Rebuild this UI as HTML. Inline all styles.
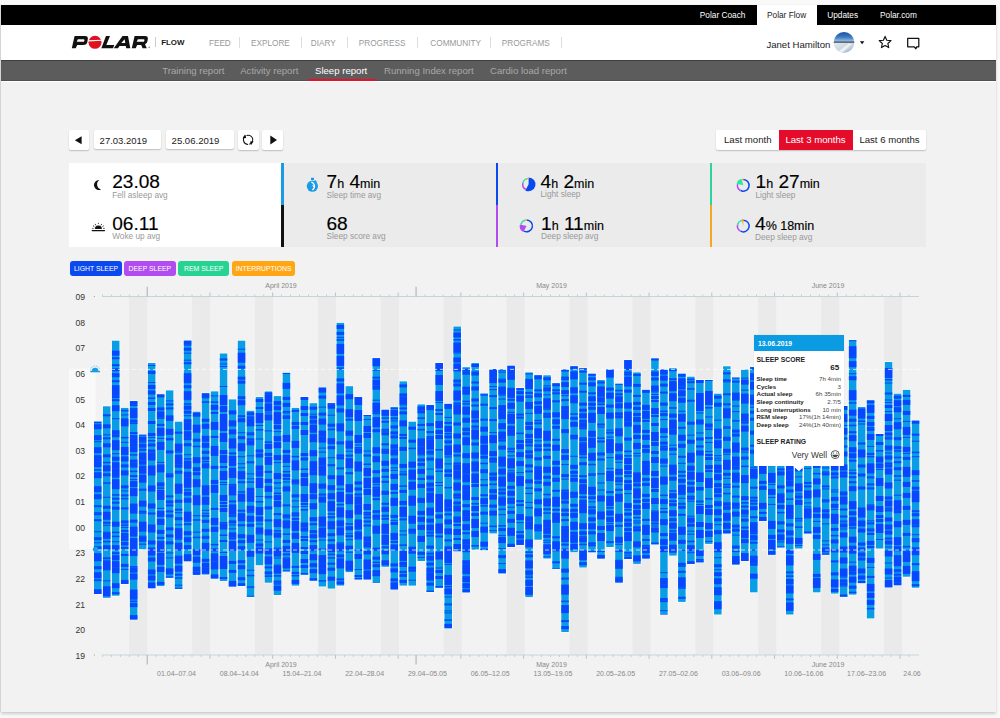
<!DOCTYPE html>
<html><head><meta charset="utf-8"><style>
*{margin:0;padding:0;box-sizing:border-box}
html,body{width:1000px;height:718px;overflow:hidden;background:#f9f9f9;font-family:"Liberation Sans", sans-serif}
.abs{position:absolute}
#win{position:absolute;left:1px;top:5px;width:994.5px;height:706.8px;background:#f2f2f2;box-shadow:0 2px 3px rgba(0,0,0,.18), -1px 0 1px rgba(0,0,0,.08)}
.t{position:absolute;white-space:nowrap;line-height:1}
</style></head><body>
<div id="win"></div>
<div class="abs" style="left:1px;top:5px;width:994.5px;height:20px;background:#000"></div>
<div class="abs" style="left:757px;top:5px;width:60px;height:20px;background:#fff"></div>
<div class="t" style="left:699.8px;top:11.15px;font-size:8.3px;color:#fff;font-weight:normal;">Polar Coach</div>
<div class="t" style="left:767px;top:11.15px;font-size:8.3px;color:#222;font-weight:normal;">Polar Flow</div>
<div class="t" style="left:827.2px;top:11.15px;font-size:8.3px;color:#fff;font-weight:normal;">Updates</div>
<div class="t" style="left:880px;top:11.15px;font-size:8.3px;color:#fff;font-weight:normal;">Polar.com</div>
<div class="abs" style="left:1px;top:25px;width:994.5px;height:35px;background:#fff"></div>
<div class="t" style="left:208.9px;top:39.99px;font-size:8.22px;color:#999;font-weight:normal;">FEED</div>
<div class="t" style="left:251px;top:39.99px;font-size:8.22px;color:#999;font-weight:normal;">EXPLORE</div>
<div class="t" style="left:310.8px;top:39.99px;font-size:8.22px;color:#999;font-weight:normal;">DIARY</div>
<div class="t" style="left:358.8px;top:39.99px;font-size:8.22px;color:#999;font-weight:normal;">PROGRESS</div>
<div class="t" style="left:430.3px;top:39.99px;font-size:8.22px;color:#999;font-weight:normal;">COMMUNITY</div>
<div class="t" style="left:501.8px;top:39.99px;font-size:8.22px;color:#999;font-weight:normal;">PROGRAMS</div>
<div class="abs" style="left:238.8px;top:37px;width:1px;height:11px;background:#ddd"></div>
<div class="abs" style="left:301px;top:37px;width:1px;height:11px;background:#ddd"></div>
<div class="abs" style="left:347.2px;top:37px;width:1px;height:11px;background:#ddd"></div>
<div class="abs" style="left:417.1px;top:37px;width:1px;height:11px;background:#ddd"></div>
<div class="abs" style="left:490.2px;top:37px;width:1px;height:11px;background:#ddd"></div>
<div class="abs" style="left:560.8px;top:37px;width:1px;height:11px;background:#ddd"></div>
<div class="abs" style="left:154.5px;top:37px;width:1px;height:10px;background:#ccc"></div>
<div class="t" style="left:161.2px;top:39.25px;font-size:7.9px;color:#1a1a1a;font-weight:bold;">FLOW</div>
<div class="t" style="left:766.4px;top:39.5px;font-size:9.6px;color:#222;font-weight:normal;">Janet Hamilton</div>
<div class="abs" style="left:1px;top:80.8px;width:994.5px;height:1.6px;background:#fff"></div>
<div class="abs" style="left:1px;top:60px;width:994.5px;height:20.8px;background:#5c5c5c;border-top:1px solid #3e3e3e;border-bottom:0.8px solid #505050"></div>
<div class="abs" style="left:307.5px;top:79px;width:68px;height:2px;background:#e8112d"></div>
<div class="t" style="left:162.3px;top:65.8px;font-size:9.6px;color:#a8a8a8;font-weight:normal;">Training report</div>
<div class="t" style="left:240.2px;top:65.8px;font-size:9.6px;color:#a8a8a8;font-weight:normal;">Activity report</div>
<div class="t" style="left:315px;top:65.8px;font-size:9.6px;color:#fff;font-weight:normal;">Sleep report</div>
<div class="t" style="left:384px;top:65.8px;font-size:9.6px;color:#a8a8a8;font-weight:normal;">Running Index report</div>
<div class="t" style="left:490px;top:65.8px;font-size:9.6px;color:#a8a8a8;font-weight:normal;">Cardio load report</div>
<div class="abs" style="left:69px;top:129.6px;width:20.3px;height:20.5px;box-shadow:0 1px 1.5px rgba(0,0,0,.22);border-radius:2px;background:#fff"></div>
<div class="abs" style="left:93.6px;top:129.6px;width:67.7px;height:19.6px;box-shadow:0 1px 1.5px rgba(0,0,0,.22);border-radius:2px;background:#fff"></div>
<div class="abs" style="left:165.6px;top:129.6px;width:68.4px;height:19.6px;box-shadow:0 1px 1.5px rgba(0,0,0,.22);border-radius:2px;background:#fff"></div>
<div class="abs" style="left:238.3px;top:129.6px;width:20.4px;height:20.5px;box-shadow:0 1px 1.5px rgba(0,0,0,.22);border-radius:2px;background:#fff"></div>
<div class="abs" style="left:262.3px;top:129.6px;width:20.4px;height:20.5px;box-shadow:0 1px 1.5px rgba(0,0,0,.22);border-radius:2px;background:#fff"></div>
<div class="t" style="left:99.6px;top:135.65px;font-size:9.5px;color:#222;font-weight:normal;">27.03.2019</div>
<div class="t" style="left:171.6px;top:135.62px;font-size:9.55px;color:#222;font-weight:normal;">25.06.2019</div>
<div class="abs" style="left:716px;top:129.6px;width:209.6px;height:20.8px;box-shadow:0 1px 1.5px rgba(0,0,0,.22);border-radius:2px;background:#fff"></div>
<div class="abs" style="left:779px;top:129.6px;width:73.6px;height:20.8px;background:#e50b2a"></div>
<div class="t" style="left:724px;top:135.4px;font-size:9.6px;color:#222;font-weight:normal;">Last month</div>
<div class="t" style="left:785.4px;top:135.4px;font-size:9.6px;color:#fff;font-weight:normal;">Last 3 months</div>
<div class="t" style="left:859.4px;top:135.4px;font-size:9.6px;color:#222;font-weight:normal;">Last 6 months</div>
<div class="abs" style="left:68.6px;top:163px;width:214px;height:84px;background:#fff"></div>
<div class="abs" style="left:283px;top:163px;width:642.6px;height:83.5px;background:#ebebeb"></div>
<div class="abs" style="left:281.4px;top:163px;width:2.4px;height:42px;background:#1a9be6"></div>
<div class="abs" style="left:281.4px;top:205px;width:2.4px;height:42px;background:#111"></div>
<div class="abs" style="left:495.5px;top:163px;width:2.4px;height:42px;background:#0a48f0"></div>
<div class="abs" style="left:495.5px;top:205px;width:2.4px;height:42px;background:#b14df0"></div>
<div class="abs" style="left:710px;top:163px;width:2.4px;height:42px;background:#2dd49b"></div>
<div class="abs" style="left:710px;top:205px;width:2.4px;height:42px;background:#f5a623"></div>
<div class="t" style="left:112.2px;top:172.45px;font-size:19.1px;color:#000;font-weight:normal;-webkit-text-stroke:0.15px #000;">23.08</div><div class="t" style="left:112.2px;top:191.88px;font-size:8.25px;color:#999;font-weight:normal;">Fell asleep avg</div>
<div class="t" style="left:112.2px;top:213.95px;font-size:19.1px;color:#000;font-weight:normal;-webkit-text-stroke:0.15px #000;">06.11</div><div class="t" style="left:112.2px;top:233.38px;font-size:8.25px;color:#999;font-weight:normal;">Woke up avg</div>
<div class="t" style="left:326.5px;top:172.45px;font-size:19.1px;color:#000;font-weight:normal;-webkit-text-stroke:0.15px #000;">7<span style="font-size:12.5px">h</span> 4<span style="font-size:12.5px">min</span></div><div class="t" style="left:326.5px;top:191.88px;font-size:8.25px;color:#999;font-weight:normal;">Sleep time avg</div>
<div class="t" style="left:326.5px;top:213.95px;font-size:19.1px;color:#000;font-weight:normal;-webkit-text-stroke:0.15px #000;">68</div><div class="t" style="left:326.5px;top:233.38px;font-size:8.25px;color:#999;font-weight:normal;">Sleep score avg</div>
<div class="t" style="left:540.5px;top:171.75px;font-size:19.1px;color:#000;font-weight:normal;-webkit-text-stroke:0.15px #000;">4<span style="font-size:12.5px">h</span> 2<span style="font-size:12.5px">min</span></div><div class="t" style="left:540.5px;top:191.18px;font-size:8.25px;color:#999;font-weight:normal;">Light sleep</div>
<div class="t" style="left:541px;top:213.75px;font-size:19.1px;color:#000;font-weight:normal;-webkit-text-stroke:0.15px #000;">1<span style="font-size:12.5px">h</span> 11<span style="font-size:12.5px">min</span></div><div class="t" style="left:541px;top:233.18px;font-size:8.25px;color:#999;font-weight:normal;">Deep sleep avg</div>
<div class="t" style="left:755.5px;top:172.45px;font-size:19.1px;color:#000;font-weight:normal;-webkit-text-stroke:0.15px #000;">1<span style="font-size:12.5px">h</span> 27<span style="font-size:12.5px">min</span></div><div class="t" style="left:755.5px;top:191.88px;font-size:8.25px;color:#999;font-weight:normal;">Light sleep</div>
<div class="t" style="left:755px;top:214.45px;font-size:19.1px;color:#000;font-weight:normal;-webkit-text-stroke:0.15px #000;">4<span style="font-size:12.5px">% 18min</span></div><div class="t" style="left:755px;top:233.88px;font-size:8.25px;color:#999;font-weight:normal;">Deep sleep avg</div>
<div class="abs" style="left:70.2px;top:260.6px;width:51.7px;height:15.1px;background:#0a48f0;border-radius:3px;color:#fff;font-size:6.85px;line-height:15.1px;text-align:center;white-space:nowrap">LIGHT SLEEP</div>
<div class="abs" style="left:123.8px;top:260.6px;width:52.1px;height:15.1px;background:#b04cf0;border-radius:3px;color:#fff;font-size:6.85px;line-height:15.1px;text-align:center;white-space:nowrap">DEEP SLEEP</div>
<div class="abs" style="left:177.8px;top:260.6px;width:51.7px;height:15.1px;background:#26d392;border-radius:3px;color:#fff;font-size:6.85px;line-height:15.1px;text-align:center;white-space:nowrap">REM SLEEP</div>
<div class="abs" style="left:231.9px;top:260.6px;width:63.4px;height:15.1px;background:#ffa614;border-radius:3px;color:#fff;font-size:6.85px;line-height:15.1px;text-align:center;white-space:nowrap">INTERRUPTIONS</div>
<svg class="abs" style="left:0;top:0" width="1000" height="718"><g fill="#111"><path fill-rule="evenodd" d="M74.6 36 L85 36 Q88.3 36 87.8 39.3 L87.4 41.8 Q86.8 45 83.3 45 L77.2 45 L75.7 48.3 L71.8 48.3 Z M77.9 39.2 L83.6 39.2 Q84.6 39.2 84.4 40.1 L84.3 40.9 Q84.1 41.8 83.2 41.8 L76.7 41.8 Z"/><path d="M106 36 L110 36 L106.3 45 L114.3 45 L113 48.3 L101.3 48.3 Z"/><path fill-rule="evenodd" d="M122.5 36 L128 36 L130.3 48.3 L126.2 48.3 L125.8 46 L119.5 46 L118 48.3 L113.8 48.3 Z M121.3 43 L125.3 43 L124.6 39.3 Z"/><path fill-rule="evenodd" d="M134.6 36 L145 36 Q148.3 36 147.8 39.3 L147.5 41 Q147.1 43.3 145 44.2 L146.8 48.3 L142.6 48.3 L141.2 45 L137.2 45 L135.7 48.3 L131.8 48.3 Z M137.9 39.2 L143.6 39.2 Q144.6 39.2 144.4 40.1 L144.3 40.9 Q144.1 41.8 143.2 41.8 L136.7 41.8 Z"/></g><circle cx="149.2" cy="47.3" r="0.9" fill="#999"/><circle cx="95" cy="42.3" r="6.5" fill="#e01020"/><rect x="88" y="40" width="14" height="1.2" fill="#fff" transform="rotate(-3 95 40.6)"/><defs><linearGradient id="sky" x1="0" y1="0" x2="0" y2="1"><stop offset="0" stop-color="#1b4f9c"/><stop offset="0.25" stop-color="#3f7cc4"/><stop offset="0.48" stop-color="#a9cdea"/><stop offset="0.5" stop-color="#c9e0f2"/></linearGradient><linearGradient id="snow" x1="0" y1="0" x2="1" y2="1"><stop offset="0" stop-color="#e6ebf1"/><stop offset="0.6" stop-color="#c7d2de"/><stop offset="1" stop-color="#8fa3bd"/></linearGradient><clipPath id="avc"><circle cx="844" cy="42.4" r="10.3"/></clipPath></defs><g clip-path="url(#avc)"><rect x="833" y="32" width="22" height="21" fill="url(#sky)"/><path d="M833 42.6 L855 42.6 L855 53 L833 53Z" fill="url(#snow)"/><rect x="833" y="41.6" width="22" height="1" fill="#1c2433"/><path d="M836 53 L849 43.5 L852 44 L842 53Z" fill="#f4f6f9" opacity="0.8"/></g><path d="M859.9 41.2 L864.4 41.2 L862.15 44.2Z" fill="#111"/><polygon points="885.1,36.4 886.8,40.25 891,40.68 887.86,43.5 888.74,47.62 885.1,45.5 881.46,47.62 882.34,43.5 879.2,40.68 883.4,40.25" fill="none" stroke="#111" stroke-width="1.15" stroke-linejoin="round"/><path d="M907.7 38.4 H918.8 V46.8 H916.6 L915.9 48.8 L914.3 46.8 H907.7 Z" fill="none" stroke="#111" stroke-width="1.25" stroke-linejoin="round"/><path d="M74.9 140.3 L81.6 136.3 L81.6 144.3Z" fill="#111"/><path d="M277 140.1 L270.3 135.6 L270.3 144.6Z" fill="#111"/><path d="M246.53 135.48 A4.6 4.6 0 1 1 249.29 144.24" fill="none" stroke="#111" stroke-width="1.05"/><path d="M248.1 144.4 A4.6 4.6 0 0 1 245.8 135.82" fill="none" stroke="#111" stroke-width="1.05"/><path d="M251 145.2 L253.6 141.2 L250.1 141.6Z" fill="#111"/><path d="M245 134.4 L242.5 138.3 L246.2 138Z" fill="#111"/><path d="M99.4 180.1 A4.95 4.95 0 1 0 101 189.5 A5.25 5.25 0 0 1 99.4 180.1Z" fill="#111"/><g fill="#111"><rect x="91.6" y="229.9" width="13.5" height="1.3" rx="0.6"/><path d="M94.9 228.9 A3.5 3.5 0 0 1 101.9 228.9Z"/><circle cx="98.4" cy="223.3" r="0.55"/><path d="M95 223.9 l0.9 1.5" stroke="#111" stroke-width="0.8"/><path d="M101.8 223.9 l-0.9 1.5" stroke="#111" stroke-width="0.8"/><path d="M93 225.7 l1.4 1" stroke="#111" stroke-width="0.8"/><path d="M103.8 225.7 l-1.4 1" stroke="#111" stroke-width="0.8"/><path d="M92.2 228.4 h1.4" stroke="#111" stroke-width="0.8"/><path d="M103.2 228.4 h1.4" stroke="#111" stroke-width="0.8"/></g><g fill="#1a9be6"><circle cx="312.4" cy="186.2" r="5.6"/><rect x="311" y="177.8" width="3" height="2.2"/><rect x="314.3" y="180.5" width="2.2" height="1.8" transform="rotate(40 315.4 181.4)"/></g><path d="M311.31 182.05 A4.3 4.3 0 0 1 312.35 189.92" fill="none" stroke="#fff" stroke-width="1.3"/><path d="M312.6 185.2 L314.3 187.6" fill="none" stroke="#fff" stroke-width="1"/><path d="M528.6 184.3 L528.6 177.4 A6.9 6.9 0 1 1 525.36 190.39Z" fill="#0a48f0"/><path d="M525.85 189.47 A5.85 5.85 0 0 1 522.88 183.08" stroke="#b14df0" stroke-width="1.5" fill="none"/><path d="M522.88 183.08 A5.85 5.85 0 0 1 527.09 178.65" stroke="#2ee6a0" stroke-width="1.5" fill="none"/><path d="M527.09 178.65 A5.85 5.85 0 0 1 528.6 178.45" stroke="#ffa515" stroke-width="1.5" fill="none"/><path d="M526.6 220.05 A5.85 5.85 0 1 1 523.85 231.07" stroke="#0a48f0" stroke-width="1.5" fill="none"/><path d="M526.6 225.9 L523.36 231.99 A6.9 6.9 0 0 1 519.85 224.47Z" fill="#b14df0"/><path d="M520.88 224.68 A5.85 5.85 0 0 1 525.09 220.25" stroke="#2ee6a0" stroke-width="1.5" fill="none"/><path d="M525.09 220.25 A5.85 5.85 0 0 1 526.6 220.05" stroke="#ffa515" stroke-width="1.5" fill="none"/><path d="M743.3 179.45 A5.85 5.85 0 1 1 740.55 190.47" stroke="#0a48f0" stroke-width="1.5" fill="none"/><path d="M740.55 190.47 A5.85 5.85 0 0 1 737.58 184.08" stroke="#b14df0" stroke-width="1.5" fill="none"/><path d="M743.3 185.3 L736.55 183.87 A6.9 6.9 0 0 1 741.51 178.64Z" fill="#2ee6a0"/><path d="M741.79 179.65 A5.85 5.85 0 0 1 743.3 179.45" stroke="#ffa515" stroke-width="1.5" fill="none"/><path d="M743.3 220.15 A5.85 5.85 0 1 1 740.55 231.17" stroke="#0a48f0" stroke-width="1.5" fill="none"/><path d="M740.55 231.17 A5.85 5.85 0 0 1 737.58 224.78" stroke="#b14df0" stroke-width="1.5" fill="none"/><path d="M737.58 224.78 A5.85 5.85 0 0 1 741.79 220.35" stroke="#2ee6a0" stroke-width="1.5" fill="none"/><path d="M743.3 226 L741.51 219.34 A6.9 6.9 0 0 1 743.3 219.1Z" fill="#ffa515"/></svg>
<svg class="abs" style="left:0;top:0" width="1000" height="718">
<rect x="129.23" y="296.5" width="17.97" height="358.5" fill="#eaeaea"/>
<rect x="192.13" y="296.5" width="17.97" height="358.5" fill="#eaeaea"/>
<rect x="255.04" y="296.5" width="17.97" height="358.5" fill="#eaeaea"/>
<rect x="317.95" y="296.5" width="17.97" height="358.5" fill="#eaeaea"/>
<rect x="380.86" y="296.5" width="17.97" height="358.5" fill="#eaeaea"/>
<rect x="443.77" y="296.5" width="17.97" height="358.5" fill="#eaeaea"/>
<rect x="506.68" y="296.5" width="17.97" height="358.5" fill="#eaeaea"/>
<rect x="569.59" y="296.5" width="17.97" height="358.5" fill="#eaeaea"/>
<rect x="632.5" y="296.5" width="17.97" height="358.5" fill="#eaeaea"/>
<rect x="695.41" y="296.5" width="17.97" height="358.5" fill="#eaeaea"/>
<rect x="758.32" y="296.5" width="17.97" height="358.5" fill="#eaeaea"/>
<rect x="821.22" y="296.5" width="17.97" height="358.5" fill="#eaeaea"/>
<rect x="884.13" y="296.5" width="17.97" height="358.5" fill="#eaeaea"/>
<rect x="69" y="368.7" width="26.5" height="180.5" fill="#f9f9f9"/>
<rect x="93.28" y="421.1" width="8.9" height="173.5" fill="#fdfdfa"/>
<rect x="93.98" y="421.7" width="7.5" height="172.3" fill="#089de4"/>
<rect x="93.98" y="421.7" width="7.5" height="1.5" fill="#0846ff"/>
<rect x="93.98" y="424.2" width="7.5" height="5" fill="#0846ff"/>
<rect x="93.98" y="435.2" width="7.5" height="5" fill="#0846ff"/>
<rect x="93.98" y="441.2" width="7.5" height="1" fill="#0846ff"/>
<rect x="93.98" y="447.2" width="7.5" height="6" fill="#0846ff"/>
<rect x="93.98" y="455.2" width="7.5" height="6" fill="#0846ff"/>
<rect x="93.98" y="461.2" width="7.5" height="6" fill="#0846ff"/>
<rect x="93.98" y="469.2" width="7.5" height="1.5" fill="#0846ff"/>
<rect x="93.98" y="472.2" width="7.5" height="6" fill="#0846ff"/>
<rect x="93.98" y="486.2" width="7.5" height="6" fill="#0846ff"/>
<rect x="93.98" y="494.2" width="7.5" height="5" fill="#0846ff"/>
<rect x="93.98" y="505.2" width="7.5" height="2" fill="#0846ff"/>
<rect x="93.98" y="512.2" width="7.5" height="3" fill="#0846ff"/>
<rect x="93.98" y="519.2" width="7.5" height="2" fill="#0846ff"/>
<rect x="93.98" y="531.2" width="7.5" height="1" fill="#0846ff"/>
<rect x="93.98" y="537.2" width="7.5" height="3" fill="#0846ff"/>
<rect x="93.98" y="542.2" width="7.5" height="1" fill="#0846ff"/>
<rect x="93.98" y="546.2" width="7.5" height="3" fill="#0846ff"/>
<rect x="93.98" y="553.2" width="7.5" height="8" fill="#0846ff"/>
<rect x="93.98" y="566.2" width="7.5" height="3" fill="#0846ff"/>
<rect x="93.98" y="572.2" width="7.5" height="6" fill="#0846ff"/>
<rect x="93.98" y="579.2" width="7.5" height="2" fill="#0846ff"/>
<rect x="93.98" y="589.2" width="7.5" height="4.8" fill="#0846ff"/>
<rect x="102.26" y="405.7" width="8.9" height="192.5" fill="#fdfdfa"/>
<rect x="102.96" y="406.3" width="7.5" height="191.3" fill="#089de4"/>
<rect x="102.96" y="414.3" width="7.5" height="2" fill="#0846ff"/>
<rect x="102.96" y="424.3" width="7.5" height="4" fill="#0846ff"/>
<rect x="102.96" y="434.3" width="7.5" height="1" fill="#0846ff"/>
<rect x="102.96" y="437.3" width="7.5" height="2" fill="#0846ff"/>
<rect x="102.96" y="443.3" width="7.5" height="4" fill="#0846ff"/>
<rect x="102.96" y="454.3" width="7.5" height="3" fill="#0846ff"/>
<rect x="102.96" y="461.8" width="7.5" height="1.5" fill="#0846ff"/>
<rect x="102.96" y="465.3" width="7.5" height="6" fill="#0846ff"/>
<rect x="102.96" y="473.3" width="7.5" height="3" fill="#0846ff"/>
<rect x="102.96" y="482.3" width="7.5" height="1.5" fill="#0846ff"/>
<rect x="102.96" y="496.8" width="7.5" height="1" fill="#0846ff"/>
<rect x="102.96" y="505.8" width="7.5" height="3" fill="#0846ff"/>
<rect x="102.96" y="511.8" width="7.5" height="8" fill="#0846ff"/>
<rect x="102.96" y="521.8" width="7.5" height="2" fill="#0846ff"/>
<rect x="102.96" y="524.8" width="7.5" height="1" fill="#0846ff"/>
<rect x="102.96" y="531.8" width="7.5" height="1" fill="#0846ff"/>
<rect x="102.96" y="532.8" width="7.5" height="6" fill="#0846ff"/>
<rect x="102.96" y="540.8" width="7.5" height="1.5" fill="#0846ff"/>
<rect x="102.96" y="545.3" width="7.5" height="4" fill="#0846ff"/>
<rect x="102.96" y="557.3" width="7.5" height="2" fill="#0846ff"/>
<rect x="102.96" y="560.3" width="7.5" height="10" fill="#0846ff"/>
<rect x="102.96" y="580.3" width="7.5" height="1" fill="#0846ff"/>
<rect x="102.96" y="586.3" width="7.5" height="10" fill="#0846ff"/>
<rect x="102.96" y="597.3" width="7.5" height="0.3" fill="#0846ff"/>
<rect x="111.25" y="340.1" width="8.9" height="256.2" fill="#fdfdfa"/>
<rect x="111.95" y="340.7" width="7.5" height="255" fill="#089de4"/>
<rect x="111.95" y="350.7" width="7.5" height="5" fill="#0846ff"/>
<rect x="111.95" y="357.2" width="7.5" height="2" fill="#0846ff"/>
<rect x="111.95" y="364.2" width="7.5" height="2" fill="#0846ff"/>
<rect x="111.95" y="368.2" width="7.5" height="3" fill="#0846ff"/>
<rect x="111.95" y="373.2" width="7.5" height="4" fill="#0846ff"/>
<rect x="111.95" y="380.2" width="7.5" height="2" fill="#0846ff"/>
<rect x="111.95" y="385.2" width="7.5" height="10" fill="#0846ff"/>
<rect x="111.95" y="395.2" width="7.5" height="3" fill="#0846ff"/>
<rect x="111.95" y="399.2" width="7.5" height="2" fill="#0846ff"/>
<rect x="111.95" y="405.2" width="7.5" height="6" fill="#0846ff"/>
<rect x="111.95" y="418.2" width="7.5" height="1" fill="#0846ff"/>
<rect x="111.95" y="430.2" width="7.5" height="4" fill="#0846ff"/>
<rect x="111.95" y="434.2" width="7.5" height="3" fill="#0846ff"/>
<rect x="111.95" y="440.2" width="7.5" height="10" fill="#0846ff"/>
<rect x="111.95" y="453.2" width="7.5" height="1" fill="#0846ff"/>
<rect x="111.95" y="456.7" width="7.5" height="4" fill="#0846ff"/>
<rect x="111.95" y="462.2" width="7.5" height="6" fill="#0846ff"/>
<rect x="111.95" y="468.2" width="7.5" height="8" fill="#0846ff"/>
<rect x="111.95" y="476.2" width="7.5" height="1.5" fill="#0846ff"/>
<rect x="111.95" y="479.2" width="7.5" height="10" fill="#0846ff"/>
<rect x="111.95" y="494.2" width="7.5" height="1.5" fill="#0846ff"/>
<rect x="111.95" y="497.7" width="7.5" height="2" fill="#0846ff"/>
<rect x="111.95" y="501.7" width="7.5" height="2" fill="#0846ff"/>
<rect x="111.95" y="506.7" width="7.5" height="3" fill="#0846ff"/>
<rect x="111.95" y="521.7" width="7.5" height="5" fill="#0846ff"/>
<rect x="111.95" y="531.7" width="7.5" height="1.5" fill="#0846ff"/>
<rect x="111.95" y="535.7" width="7.5" height="1.5" fill="#0846ff"/>
<rect x="111.95" y="541.2" width="7.5" height="1" fill="#0846ff"/>
<rect x="111.95" y="545.2" width="7.5" height="5" fill="#0846ff"/>
<rect x="111.95" y="552.2" width="7.5" height="2" fill="#0846ff"/>
<rect x="111.95" y="555.2" width="7.5" height="5" fill="#0846ff"/>
<rect x="111.95" y="561.2" width="7.5" height="6" fill="#0846ff"/>
<rect x="111.95" y="567.2" width="7.5" height="6" fill="#0846ff"/>
<rect x="111.95" y="583.2" width="7.5" height="5" fill="#0846ff"/>
<rect x="111.95" y="592.2" width="7.5" height="2" fill="#0846ff"/>
<rect x="120.24" y="407.3" width="8.9" height="177.3" fill="#fdfdfa"/>
<rect x="120.94" y="407.9" width="7.5" height="176.1" fill="#089de4"/>
<rect x="120.94" y="409.9" width="7.5" height="1.5" fill="#0846ff"/>
<rect x="120.94" y="414.4" width="7.5" height="1" fill="#0846ff"/>
<rect x="120.94" y="418.4" width="7.5" height="8" fill="#0846ff"/>
<rect x="120.94" y="436.9" width="7.5" height="1.5" fill="#0846ff"/>
<rect x="120.94" y="441.9" width="7.5" height="1" fill="#0846ff"/>
<rect x="120.94" y="446.9" width="7.5" height="8" fill="#0846ff"/>
<rect x="120.94" y="456.4" width="7.5" height="5" fill="#0846ff"/>
<rect x="120.94" y="464.4" width="7.5" height="3" fill="#0846ff"/>
<rect x="120.94" y="470.4" width="7.5" height="5" fill="#0846ff"/>
<rect x="120.94" y="485.4" width="7.5" height="3" fill="#0846ff"/>
<rect x="120.94" y="490.4" width="7.5" height="1" fill="#0846ff"/>
<rect x="120.94" y="494.4" width="7.5" height="2" fill="#0846ff"/>
<rect x="120.94" y="497.9" width="7.5" height="1.5" fill="#0846ff"/>
<rect x="120.94" y="507.4" width="7.5" height="2" fill="#0846ff"/>
<rect x="120.94" y="520.4" width="7.5" height="3" fill="#0846ff"/>
<rect x="120.94" y="524.4" width="7.5" height="1.5" fill="#0846ff"/>
<rect x="120.94" y="526.9" width="7.5" height="1" fill="#0846ff"/>
<rect x="120.94" y="529.9" width="7.5" height="2" fill="#0846ff"/>
<rect x="120.94" y="532.9" width="7.5" height="3" fill="#0846ff"/>
<rect x="120.94" y="535.9" width="7.5" height="3" fill="#0846ff"/>
<rect x="120.94" y="538.9" width="7.5" height="2" fill="#0846ff"/>
<rect x="120.94" y="541.9" width="7.5" height="2" fill="#0846ff"/>
<rect x="120.94" y="543.9" width="7.5" height="1.5" fill="#0846ff"/>
<rect x="120.94" y="546.9" width="7.5" height="2" fill="#0846ff"/>
<rect x="120.94" y="553.9" width="7.5" height="2" fill="#0846ff"/>
<rect x="120.94" y="563.9" width="7.5" height="3" fill="#0846ff"/>
<rect x="120.94" y="568.9" width="7.5" height="1" fill="#0846ff"/>
<rect x="120.94" y="579.9" width="7.5" height="4" fill="#0846ff"/>
<rect x="129.23" y="400.5" width="8.9" height="219.6" fill="#fdfdfa"/>
<rect x="129.93" y="401.1" width="7.5" height="218.4" fill="#089de4"/>
<rect x="129.93" y="401.1" width="7.5" height="3" fill="#0846ff"/>
<rect x="129.93" y="404.1" width="7.5" height="2" fill="#0846ff"/>
<rect x="129.93" y="408.1" width="7.5" height="10" fill="#0846ff"/>
<rect x="129.93" y="419.6" width="7.5" height="3" fill="#0846ff"/>
<rect x="129.93" y="422.6" width="7.5" height="1.5" fill="#0846ff"/>
<rect x="129.93" y="432.1" width="7.5" height="2" fill="#0846ff"/>
<rect x="129.93" y="435.1" width="7.5" height="3" fill="#0846ff"/>
<rect x="129.93" y="438.1" width="7.5" height="8" fill="#0846ff"/>
<rect x="129.93" y="446.1" width="7.5" height="6" fill="#0846ff"/>
<rect x="129.93" y="454.1" width="7.5" height="1.5" fill="#0846ff"/>
<rect x="129.93" y="459.6" width="7.5" height="3" fill="#0846ff"/>
<rect x="129.93" y="462.6" width="7.5" height="5" fill="#0846ff"/>
<rect x="129.93" y="470.6" width="7.5" height="1.5" fill="#0846ff"/>
<rect x="129.93" y="475.1" width="7.5" height="2" fill="#0846ff"/>
<rect x="129.93" y="479.1" width="7.5" height="1" fill="#0846ff"/>
<rect x="129.93" y="481.1" width="7.5" height="6" fill="#0846ff"/>
<rect x="129.93" y="488.1" width="7.5" height="8" fill="#0846ff"/>
<rect x="129.93" y="503.6" width="7.5" height="10" fill="#0846ff"/>
<rect x="129.93" y="519.6" width="7.5" height="3" fill="#0846ff"/>
<rect x="129.93" y="526.6" width="7.5" height="10" fill="#0846ff"/>
<rect x="129.93" y="538.1" width="7.5" height="10" fill="#0846ff"/>
<rect x="129.93" y="548.1" width="7.5" height="8" fill="#0846ff"/>
<rect x="129.93" y="566.1" width="7.5" height="1.5" fill="#0846ff"/>
<rect x="129.93" y="567.6" width="7.5" height="5" fill="#0846ff"/>
<rect x="129.93" y="573.6" width="7.5" height="6" fill="#0846ff"/>
<rect x="129.93" y="589.6" width="7.5" height="10" fill="#0846ff"/>
<rect x="129.93" y="600.6" width="7.5" height="1.5" fill="#0846ff"/>
<rect x="129.93" y="603.1" width="7.5" height="4" fill="#0846ff"/>
<rect x="129.93" y="615.1" width="7.5" height="4.4" fill="#0846ff"/>
<rect x="138.21" y="434.1" width="8.9" height="115.8" fill="#fdfdfa"/>
<rect x="138.91" y="434.7" width="7.5" height="114.6" fill="#089de4"/>
<rect x="138.91" y="434.7" width="7.5" height="1" fill="#0846ff"/>
<rect x="138.91" y="436.7" width="7.5" height="5" fill="#0846ff"/>
<rect x="138.91" y="441.7" width="7.5" height="1" fill="#0846ff"/>
<rect x="138.91" y="443.7" width="7.5" height="4" fill="#0846ff"/>
<rect x="138.91" y="448.7" width="7.5" height="2" fill="#0846ff"/>
<rect x="138.91" y="452.7" width="7.5" height="8" fill="#0846ff"/>
<rect x="138.91" y="460.7" width="7.5" height="4" fill="#0846ff"/>
<rect x="138.91" y="465.7" width="7.5" height="8" fill="#0846ff"/>
<rect x="138.91" y="474.7" width="7.5" height="8" fill="#0846ff"/>
<rect x="138.91" y="488.7" width="7.5" height="2" fill="#0846ff"/>
<rect x="138.91" y="500.7" width="7.5" height="6" fill="#0846ff"/>
<rect x="138.91" y="510.7" width="7.5" height="2" fill="#0846ff"/>
<rect x="138.91" y="512.7" width="7.5" height="1" fill="#0846ff"/>
<rect x="138.91" y="521.7" width="7.5" height="10" fill="#0846ff"/>
<rect x="138.91" y="535.7" width="7.5" height="1" fill="#0846ff"/>
<rect x="138.91" y="536.7" width="7.5" height="5" fill="#0846ff"/>
<rect x="138.91" y="543.7" width="7.5" height="1" fill="#0846ff"/>
<rect x="147.2" y="362.4" width="8.9" height="226.4" fill="#fdfdfa"/>
<rect x="147.9" y="363" width="7.5" height="225.2" fill="#089de4"/>
<rect x="147.9" y="365" width="7.5" height="1" fill="#0846ff"/>
<rect x="147.9" y="371" width="7.5" height="3" fill="#0846ff"/>
<rect x="147.9" y="382" width="7.5" height="1" fill="#0846ff"/>
<rect x="147.9" y="385" width="7.5" height="4" fill="#0846ff"/>
<rect x="147.9" y="390.5" width="7.5" height="4" fill="#0846ff"/>
<rect x="147.9" y="397.5" width="7.5" height="1.5" fill="#0846ff"/>
<rect x="147.9" y="402" width="7.5" height="3" fill="#0846ff"/>
<rect x="147.9" y="408" width="7.5" height="1" fill="#0846ff"/>
<rect x="147.9" y="409" width="7.5" height="2" fill="#0846ff"/>
<rect x="147.9" y="421" width="7.5" height="3" fill="#0846ff"/>
<rect x="147.9" y="433" width="7.5" height="3" fill="#0846ff"/>
<rect x="147.9" y="437" width="7.5" height="1" fill="#0846ff"/>
<rect x="147.9" y="440" width="7.5" height="1.5" fill="#0846ff"/>
<rect x="147.9" y="443.5" width="7.5" height="3" fill="#0846ff"/>
<rect x="147.9" y="449.5" width="7.5" height="3" fill="#0846ff"/>
<rect x="147.9" y="452.5" width="7.5" height="8" fill="#0846ff"/>
<rect x="147.9" y="465.5" width="7.5" height="10" fill="#0846ff"/>
<rect x="147.9" y="485.5" width="7.5" height="6" fill="#0846ff"/>
<rect x="147.9" y="503.5" width="7.5" height="5" fill="#0846ff"/>
<rect x="147.9" y="512.5" width="7.5" height="2" fill="#0846ff"/>
<rect x="147.9" y="524.5" width="7.5" height="8" fill="#0846ff"/>
<rect x="147.9" y="540.5" width="7.5" height="4" fill="#0846ff"/>
<rect x="147.9" y="547.5" width="7.5" height="8" fill="#0846ff"/>
<rect x="147.9" y="557.5" width="7.5" height="4" fill="#0846ff"/>
<rect x="147.9" y="569.5" width="7.5" height="5" fill="#0846ff"/>
<rect x="147.9" y="575.5" width="7.5" height="5" fill="#0846ff"/>
<rect x="147.9" y="582.5" width="7.5" height="5.7" fill="#0846ff"/>
<rect x="156.19" y="393.8" width="8.9" height="192.9" fill="#fdfdfa"/>
<rect x="156.89" y="394.4" width="7.5" height="191.7" fill="#089de4"/>
<rect x="156.89" y="394.4" width="7.5" height="3" fill="#0846ff"/>
<rect x="156.89" y="407.4" width="7.5" height="3" fill="#0846ff"/>
<rect x="156.89" y="411.4" width="7.5" height="6" fill="#0846ff"/>
<rect x="156.89" y="417.4" width="7.5" height="1.5" fill="#0846ff"/>
<rect x="156.89" y="423.9" width="7.5" height="2" fill="#0846ff"/>
<rect x="156.89" y="427.9" width="7.5" height="8" fill="#0846ff"/>
<rect x="156.89" y="437.9" width="7.5" height="1" fill="#0846ff"/>
<rect x="156.89" y="441.9" width="7.5" height="4" fill="#0846ff"/>
<rect x="156.89" y="445.9" width="7.5" height="4" fill="#0846ff"/>
<rect x="156.89" y="461.9" width="7.5" height="1" fill="#0846ff"/>
<rect x="156.89" y="464.4" width="7.5" height="8" fill="#0846ff"/>
<rect x="156.89" y="482.4" width="7.5" height="4" fill="#0846ff"/>
<rect x="156.89" y="487.4" width="7.5" height="1.5" fill="#0846ff"/>
<rect x="156.89" y="489.9" width="7.5" height="2" fill="#0846ff"/>
<rect x="156.89" y="491.9" width="7.5" height="8" fill="#0846ff"/>
<rect x="156.89" y="507.9" width="7.5" height="1" fill="#0846ff"/>
<rect x="156.89" y="510.9" width="7.5" height="6" fill="#0846ff"/>
<rect x="156.89" y="518.9" width="7.5" height="6" fill="#0846ff"/>
<rect x="156.89" y="529.9" width="7.5" height="4" fill="#0846ff"/>
<rect x="156.89" y="536.9" width="7.5" height="2" fill="#0846ff"/>
<rect x="156.89" y="540.9" width="7.5" height="1" fill="#0846ff"/>
<rect x="156.89" y="541.9" width="7.5" height="10" fill="#0846ff"/>
<rect x="156.89" y="552.9" width="7.5" height="4" fill="#0846ff"/>
<rect x="156.89" y="556.9" width="7.5" height="8" fill="#0846ff"/>
<rect x="156.89" y="566.9" width="7.5" height="3" fill="#0846ff"/>
<rect x="156.89" y="569.9" width="7.5" height="2" fill="#0846ff"/>
<rect x="156.89" y="581.9" width="7.5" height="3" fill="#0846ff"/>
<rect x="165.17" y="389.8" width="8.9" height="188.5" fill="#fdfdfa"/>
<rect x="165.87" y="390.4" width="7.5" height="187.3" fill="#089de4"/>
<rect x="165.87" y="400.4" width="7.5" height="1" fill="#0846ff"/>
<rect x="165.87" y="403.4" width="7.5" height="2" fill="#0846ff"/>
<rect x="165.87" y="407.4" width="7.5" height="2" fill="#0846ff"/>
<rect x="165.87" y="415.4" width="7.5" height="1.5" fill="#0846ff"/>
<rect x="165.87" y="416.9" width="7.5" height="4" fill="#0846ff"/>
<rect x="165.87" y="428.9" width="7.5" height="6" fill="#0846ff"/>
<rect x="165.87" y="437.9" width="7.5" height="1" fill="#0846ff"/>
<rect x="165.87" y="438.9" width="7.5" height="1.5" fill="#0846ff"/>
<rect x="165.87" y="450.4" width="7.5" height="3" fill="#0846ff"/>
<rect x="165.87" y="473.4" width="7.5" height="1" fill="#0846ff"/>
<rect x="165.87" y="474.4" width="7.5" height="3" fill="#0846ff"/>
<rect x="165.87" y="495.4" width="7.5" height="2" fill="#0846ff"/>
<rect x="165.87" y="500.4" width="7.5" height="3" fill="#0846ff"/>
<rect x="165.87" y="504.4" width="7.5" height="2" fill="#0846ff"/>
<rect x="165.87" y="510.4" width="7.5" height="2" fill="#0846ff"/>
<rect x="165.87" y="514.4" width="7.5" height="3" fill="#0846ff"/>
<rect x="165.87" y="527.4" width="7.5" height="3" fill="#0846ff"/>
<rect x="165.87" y="534.4" width="7.5" height="3" fill="#0846ff"/>
<rect x="165.87" y="541.4" width="7.5" height="3" fill="#0846ff"/>
<rect x="165.87" y="552.4" width="7.5" height="1" fill="#0846ff"/>
<rect x="165.87" y="557.4" width="7.5" height="1" fill="#0846ff"/>
<rect x="165.87" y="568.4" width="7.5" height="6" fill="#0846ff"/>
<rect x="165.87" y="576.4" width="7.5" height="1.3" fill="#0846ff"/>
<rect x="174.16" y="421.1" width="8.9" height="168.3" fill="#fdfdfa"/>
<rect x="174.86" y="421.7" width="7.5" height="167.1" fill="#089de4"/>
<rect x="174.86" y="431.7" width="7.5" height="2" fill="#0846ff"/>
<rect x="174.86" y="443.7" width="7.5" height="8" fill="#0846ff"/>
<rect x="174.86" y="451.7" width="7.5" height="1" fill="#0846ff"/>
<rect x="174.86" y="454.7" width="7.5" height="10" fill="#0846ff"/>
<rect x="174.86" y="464.7" width="7.5" height="3" fill="#0846ff"/>
<rect x="174.86" y="470.7" width="7.5" height="1.5" fill="#0846ff"/>
<rect x="174.86" y="472.2" width="7.5" height="1.5" fill="#0846ff"/>
<rect x="174.86" y="483.7" width="7.5" height="10" fill="#0846ff"/>
<rect x="174.86" y="499.7" width="7.5" height="3" fill="#0846ff"/>
<rect x="174.86" y="508.7" width="7.5" height="2" fill="#0846ff"/>
<rect x="174.86" y="512.2" width="7.5" height="1" fill="#0846ff"/>
<rect x="174.86" y="517.2" width="7.5" height="3" fill="#0846ff"/>
<rect x="174.86" y="524.2" width="7.5" height="1" fill="#0846ff"/>
<rect x="174.86" y="528.2" width="7.5" height="10" fill="#0846ff"/>
<rect x="174.86" y="538.2" width="7.5" height="1.5" fill="#0846ff"/>
<rect x="174.86" y="542.7" width="7.5" height="8" fill="#0846ff"/>
<rect x="174.86" y="555.7" width="7.5" height="8" fill="#0846ff"/>
<rect x="174.86" y="565.7" width="7.5" height="6" fill="#0846ff"/>
<rect x="174.86" y="573.7" width="7.5" height="2" fill="#0846ff"/>
<rect x="174.86" y="577.2" width="7.5" height="1.5" fill="#0846ff"/>
<rect x="174.86" y="584.7" width="7.5" height="1" fill="#0846ff"/>
<rect x="174.86" y="587.7" width="7.5" height="1.1" fill="#0846ff"/>
<rect x="183.15" y="340.1" width="8.9" height="221.7" fill="#fdfdfa"/>
<rect x="183.85" y="340.7" width="7.5" height="220.5" fill="#089de4"/>
<rect x="183.85" y="340.7" width="7.5" height="4" fill="#0846ff"/>
<rect x="183.85" y="344.7" width="7.5" height="1" fill="#0846ff"/>
<rect x="183.85" y="347.7" width="7.5" height="3" fill="#0846ff"/>
<rect x="183.85" y="352.7" width="7.5" height="1" fill="#0846ff"/>
<rect x="183.85" y="359.7" width="7.5" height="1" fill="#0846ff"/>
<rect x="183.85" y="362.2" width="7.5" height="2" fill="#0846ff"/>
<rect x="183.85" y="373.2" width="7.5" height="10" fill="#0846ff"/>
<rect x="183.85" y="385.2" width="7.5" height="3" fill="#0846ff"/>
<rect x="183.85" y="391.2" width="7.5" height="8" fill="#0846ff"/>
<rect x="183.85" y="399.2" width="7.5" height="1" fill="#0846ff"/>
<rect x="183.85" y="403.2" width="7.5" height="1.5" fill="#0846ff"/>
<rect x="183.85" y="405.7" width="7.5" height="4" fill="#0846ff"/>
<rect x="183.85" y="410.7" width="7.5" height="3" fill="#0846ff"/>
<rect x="183.85" y="415.2" width="7.5" height="1" fill="#0846ff"/>
<rect x="183.85" y="419.2" width="7.5" height="3" fill="#0846ff"/>
<rect x="183.85" y="422.2" width="7.5" height="8" fill="#0846ff"/>
<rect x="183.85" y="431.2" width="7.5" height="6" fill="#0846ff"/>
<rect x="183.85" y="437.2" width="7.5" height="3" fill="#0846ff"/>
<rect x="183.85" y="443.2" width="7.5" height="3" fill="#0846ff"/>
<rect x="183.85" y="454.2" width="7.5" height="1" fill="#0846ff"/>
<rect x="183.85" y="458.2" width="7.5" height="1.5" fill="#0846ff"/>
<rect x="183.85" y="460.7" width="7.5" height="8" fill="#0846ff"/>
<rect x="183.85" y="471.7" width="7.5" height="6" fill="#0846ff"/>
<rect x="183.85" y="477.7" width="7.5" height="10" fill="#0846ff"/>
<rect x="183.85" y="489.2" width="7.5" height="1.5" fill="#0846ff"/>
<rect x="183.85" y="491.7" width="7.5" height="4" fill="#0846ff"/>
<rect x="183.85" y="497.7" width="7.5" height="1" fill="#0846ff"/>
<rect x="183.85" y="498.7" width="7.5" height="4" fill="#0846ff"/>
<rect x="183.85" y="511.7" width="7.5" height="10" fill="#0846ff"/>
<rect x="183.85" y="523.2" width="7.5" height="2" fill="#0846ff"/>
<rect x="183.85" y="531.2" width="7.5" height="4" fill="#0846ff"/>
<rect x="183.85" y="537.2" width="7.5" height="5" fill="#0846ff"/>
<rect x="183.85" y="545.2" width="7.5" height="2" fill="#0846ff"/>
<rect x="183.85" y="547.2" width="7.5" height="2" fill="#0846ff"/>
<rect x="183.85" y="554.2" width="7.5" height="7" fill="#0846ff"/>
<rect x="192.13" y="411.1" width="8.9" height="164.3" fill="#fdfdfa"/>
<rect x="192.83" y="411.7" width="7.5" height="163.1" fill="#089de4"/>
<rect x="192.83" y="412.7" width="7.5" height="4" fill="#0846ff"/>
<rect x="192.83" y="424.7" width="7.5" height="8" fill="#0846ff"/>
<rect x="192.83" y="438.7" width="7.5" height="3" fill="#0846ff"/>
<rect x="192.83" y="445.7" width="7.5" height="1.5" fill="#0846ff"/>
<rect x="192.83" y="457.2" width="7.5" height="6" fill="#0846ff"/>
<rect x="192.83" y="467.2" width="7.5" height="4" fill="#0846ff"/>
<rect x="192.83" y="472.2" width="7.5" height="3" fill="#0846ff"/>
<rect x="192.83" y="479.2" width="7.5" height="8" fill="#0846ff"/>
<rect x="192.83" y="495.2" width="7.5" height="10" fill="#0846ff"/>
<rect x="192.83" y="515.2" width="7.5" height="1" fill="#0846ff"/>
<rect x="192.83" y="519.2" width="7.5" height="1.5" fill="#0846ff"/>
<rect x="192.83" y="531.7" width="7.5" height="1" fill="#0846ff"/>
<rect x="192.83" y="536.7" width="7.5" height="1.5" fill="#0846ff"/>
<rect x="192.83" y="549.2" width="7.5" height="6" fill="#0846ff"/>
<rect x="192.83" y="556.7" width="7.5" height="6" fill="#0846ff"/>
<rect x="192.83" y="566.7" width="7.5" height="5" fill="#0846ff"/>
<rect x="192.83" y="571.7" width="7.5" height="3.1" fill="#0846ff"/>
<rect x="201.12" y="392.7" width="8.9" height="182.5" fill="#fdfdfa"/>
<rect x="201.82" y="393.3" width="7.5" height="181.3" fill="#089de4"/>
<rect x="201.82" y="393.3" width="7.5" height="5" fill="#0846ff"/>
<rect x="201.82" y="401.3" width="7.5" height="1.5" fill="#0846ff"/>
<rect x="201.82" y="418.8" width="7.5" height="3" fill="#0846ff"/>
<rect x="201.82" y="423.8" width="7.5" height="5" fill="#0846ff"/>
<rect x="201.82" y="435.8" width="7.5" height="6" fill="#0846ff"/>
<rect x="201.82" y="442.8" width="7.5" height="5" fill="#0846ff"/>
<rect x="201.82" y="450.8" width="7.5" height="3" fill="#0846ff"/>
<rect x="201.82" y="456.8" width="7.5" height="3" fill="#0846ff"/>
<rect x="201.82" y="460.8" width="7.5" height="1.5" fill="#0846ff"/>
<rect x="201.82" y="463.3" width="7.5" height="5" fill="#0846ff"/>
<rect x="201.82" y="485.3" width="7.5" height="10" fill="#0846ff"/>
<rect x="201.82" y="496.8" width="7.5" height="8" fill="#0846ff"/>
<rect x="201.82" y="509.8" width="7.5" height="1" fill="#0846ff"/>
<rect x="201.82" y="512.8" width="7.5" height="1" fill="#0846ff"/>
<rect x="201.82" y="514.8" width="7.5" height="2" fill="#0846ff"/>
<rect x="201.82" y="519.8" width="7.5" height="3" fill="#0846ff"/>
<rect x="201.82" y="528.8" width="7.5" height="3" fill="#0846ff"/>
<rect x="201.82" y="535.8" width="7.5" height="1" fill="#0846ff"/>
<rect x="201.82" y="536.8" width="7.5" height="2" fill="#0846ff"/>
<rect x="201.82" y="542.8" width="7.5" height="8" fill="#0846ff"/>
<rect x="201.82" y="558.8" width="7.5" height="3" fill="#0846ff"/>
<rect x="201.82" y="562.8" width="7.5" height="5" fill="#0846ff"/>
<rect x="201.82" y="567.8" width="7.5" height="6" fill="#0846ff"/>
<rect x="210.11" y="390.8" width="8.9" height="188.3" fill="#fdfdfa"/>
<rect x="210.81" y="391.4" width="7.5" height="187.1" fill="#089de4"/>
<rect x="210.81" y="395.4" width="7.5" height="1" fill="#0846ff"/>
<rect x="210.81" y="401.4" width="7.5" height="1.5" fill="#0846ff"/>
<rect x="210.81" y="404.9" width="7.5" height="5" fill="#0846ff"/>
<rect x="210.81" y="411.9" width="7.5" height="2" fill="#0846ff"/>
<rect x="210.81" y="421.9" width="7.5" height="8" fill="#0846ff"/>
<rect x="210.81" y="435.9" width="7.5" height="2" fill="#0846ff"/>
<rect x="210.81" y="445.9" width="7.5" height="10" fill="#0846ff"/>
<rect x="210.81" y="465.9" width="7.5" height="3" fill="#0846ff"/>
<rect x="210.81" y="479.9" width="7.5" height="4" fill="#0846ff"/>
<rect x="210.81" y="484.9" width="7.5" height="8" fill="#0846ff"/>
<rect x="210.81" y="507.9" width="7.5" height="2" fill="#0846ff"/>
<rect x="210.81" y="517.9" width="7.5" height="5" fill="#0846ff"/>
<rect x="210.81" y="522.9" width="7.5" height="2" fill="#0846ff"/>
<rect x="210.81" y="526.9" width="7.5" height="5" fill="#0846ff"/>
<rect x="210.81" y="543.9" width="7.5" height="1.5" fill="#0846ff"/>
<rect x="210.81" y="548.4" width="7.5" height="3" fill="#0846ff"/>
<rect x="210.81" y="553.4" width="7.5" height="8" fill="#0846ff"/>
<rect x="210.81" y="561.4" width="7.5" height="8" fill="#0846ff"/>
<rect x="210.81" y="574.4" width="7.5" height="4.1" fill="#0846ff"/>
<rect x="219.1" y="352.9" width="8.9" height="228.7" fill="#fdfdfa"/>
<rect x="219.8" y="353.5" width="7.5" height="227.5" fill="#089de4"/>
<rect x="219.8" y="358.5" width="7.5" height="2" fill="#0846ff"/>
<rect x="219.8" y="363.5" width="7.5" height="1" fill="#0846ff"/>
<rect x="219.8" y="366" width="7.5" height="1" fill="#0846ff"/>
<rect x="219.8" y="386" width="7.5" height="1" fill="#0846ff"/>
<rect x="219.8" y="395" width="7.5" height="10" fill="#0846ff"/>
<rect x="219.8" y="406" width="7.5" height="6" fill="#0846ff"/>
<rect x="219.8" y="414" width="7.5" height="5" fill="#0846ff"/>
<rect x="219.8" y="419" width="7.5" height="1" fill="#0846ff"/>
<rect x="219.8" y="420" width="7.5" height="10" fill="#0846ff"/>
<rect x="219.8" y="430" width="7.5" height="1" fill="#0846ff"/>
<rect x="219.8" y="433" width="7.5" height="1" fill="#0846ff"/>
<rect x="219.8" y="434" width="7.5" height="8" fill="#0846ff"/>
<rect x="219.8" y="450" width="7.5" height="4" fill="#0846ff"/>
<rect x="219.8" y="455" width="7.5" height="8" fill="#0846ff"/>
<rect x="219.8" y="466" width="7.5" height="2" fill="#0846ff"/>
<rect x="219.8" y="471" width="7.5" height="3" fill="#0846ff"/>
<rect x="219.8" y="474" width="7.5" height="6" fill="#0846ff"/>
<rect x="219.8" y="482" width="7.5" height="1" fill="#0846ff"/>
<rect x="219.8" y="484" width="7.5" height="1" fill="#0846ff"/>
<rect x="219.8" y="495" width="7.5" height="6" fill="#0846ff"/>
<rect x="219.8" y="502" width="7.5" height="2" fill="#0846ff"/>
<rect x="219.8" y="505" width="7.5" height="2" fill="#0846ff"/>
<rect x="219.8" y="508" width="7.5" height="4" fill="#0846ff"/>
<rect x="219.8" y="522" width="7.5" height="1.5" fill="#0846ff"/>
<rect x="219.8" y="523.5" width="7.5" height="6" fill="#0846ff"/>
<rect x="219.8" y="534.5" width="7.5" height="1.5" fill="#0846ff"/>
<rect x="219.8" y="540" width="7.5" height="1" fill="#0846ff"/>
<rect x="219.8" y="541" width="7.5" height="1" fill="#0846ff"/>
<rect x="219.8" y="552" width="7.5" height="1" fill="#0846ff"/>
<rect x="219.8" y="556" width="7.5" height="3" fill="#0846ff"/>
<rect x="219.8" y="559" width="7.5" height="10" fill="#0846ff"/>
<rect x="219.8" y="577" width="7.5" height="2" fill="#0846ff"/>
<rect x="228.08" y="398.8" width="8.9" height="188.3" fill="#fdfdfa"/>
<rect x="228.78" y="399.4" width="7.5" height="187.1" fill="#089de4"/>
<rect x="228.78" y="410.4" width="7.5" height="4" fill="#0846ff"/>
<rect x="228.78" y="420.4" width="7.5" height="6" fill="#0846ff"/>
<rect x="228.78" y="429.4" width="7.5" height="5" fill="#0846ff"/>
<rect x="228.78" y="438.4" width="7.5" height="10" fill="#0846ff"/>
<rect x="228.78" y="452.4" width="7.5" height="2" fill="#0846ff"/>
<rect x="228.78" y="455.9" width="7.5" height="8" fill="#0846ff"/>
<rect x="228.78" y="463.9" width="7.5" height="2" fill="#0846ff"/>
<rect x="228.78" y="467.9" width="7.5" height="10" fill="#0846ff"/>
<rect x="228.78" y="483.9" width="7.5" height="1.5" fill="#0846ff"/>
<rect x="228.78" y="485.4" width="7.5" height="10" fill="#0846ff"/>
<rect x="228.78" y="500.4" width="7.5" height="2" fill="#0846ff"/>
<rect x="228.78" y="504.4" width="7.5" height="10" fill="#0846ff"/>
<rect x="228.78" y="514.4" width="7.5" height="1.5" fill="#0846ff"/>
<rect x="228.78" y="515.9" width="7.5" height="1" fill="#0846ff"/>
<rect x="228.78" y="520.4" width="7.5" height="3" fill="#0846ff"/>
<rect x="228.78" y="524.4" width="7.5" height="1" fill="#0846ff"/>
<rect x="228.78" y="528.4" width="7.5" height="1" fill="#0846ff"/>
<rect x="228.78" y="532.4" width="7.5" height="5" fill="#0846ff"/>
<rect x="228.78" y="537.4" width="7.5" height="2" fill="#0846ff"/>
<rect x="228.78" y="540.9" width="7.5" height="10" fill="#0846ff"/>
<rect x="228.78" y="560.9" width="7.5" height="3" fill="#0846ff"/>
<rect x="228.78" y="569.9" width="7.5" height="3" fill="#0846ff"/>
<rect x="228.78" y="580.9" width="7.5" height="5.6" fill="#0846ff"/>
<rect x="237.07" y="340.1" width="8.9" height="246.4" fill="#fdfdfa"/>
<rect x="237.77" y="340.7" width="7.5" height="245.2" fill="#089de4"/>
<rect x="237.77" y="348.7" width="7.5" height="1" fill="#0846ff"/>
<rect x="237.77" y="352.7" width="7.5" height="10" fill="#0846ff"/>
<rect x="237.77" y="365.7" width="7.5" height="3" fill="#0846ff"/>
<rect x="237.77" y="376.7" width="7.5" height="3" fill="#0846ff"/>
<rect x="237.77" y="380.7" width="7.5" height="3" fill="#0846ff"/>
<rect x="237.77" y="396.2" width="7.5" height="3" fill="#0846ff"/>
<rect x="237.77" y="400.2" width="7.5" height="5" fill="#0846ff"/>
<rect x="237.77" y="415.2" width="7.5" height="2" fill="#0846ff"/>
<rect x="237.77" y="418.2" width="7.5" height="4" fill="#0846ff"/>
<rect x="237.77" y="432.2" width="7.5" height="1" fill="#0846ff"/>
<rect x="237.77" y="436.2" width="7.5" height="3" fill="#0846ff"/>
<rect x="237.77" y="443.2" width="7.5" height="8" fill="#0846ff"/>
<rect x="237.77" y="456.2" width="7.5" height="1" fill="#0846ff"/>
<rect x="237.77" y="463.2" width="7.5" height="1" fill="#0846ff"/>
<rect x="237.77" y="467.2" width="7.5" height="1" fill="#0846ff"/>
<rect x="237.77" y="471.2" width="7.5" height="8" fill="#0846ff"/>
<rect x="237.77" y="481.2" width="7.5" height="2" fill="#0846ff"/>
<rect x="237.77" y="491.2" width="7.5" height="1.5" fill="#0846ff"/>
<rect x="237.77" y="493.7" width="7.5" height="8" fill="#0846ff"/>
<rect x="237.77" y="509.7" width="7.5" height="2" fill="#0846ff"/>
<rect x="237.77" y="513.2" width="7.5" height="8" fill="#0846ff"/>
<rect x="237.77" y="524.2" width="7.5" height="2" fill="#0846ff"/>
<rect x="237.77" y="534.2" width="7.5" height="4" fill="#0846ff"/>
<rect x="237.77" y="540.2" width="7.5" height="3" fill="#0846ff"/>
<rect x="237.77" y="546.2" width="7.5" height="4" fill="#0846ff"/>
<rect x="237.77" y="560.2" width="7.5" height="3" fill="#0846ff"/>
<rect x="237.77" y="565.2" width="7.5" height="4" fill="#0846ff"/>
<rect x="237.77" y="577.2" width="7.5" height="3" fill="#0846ff"/>
<rect x="237.77" y="583.2" width="7.5" height="2.7" fill="#0846ff"/>
<rect x="246.06" y="410.2" width="8.9" height="187.1" fill="#fdfdfa"/>
<rect x="246.76" y="410.8" width="7.5" height="185.9" fill="#089de4"/>
<rect x="246.76" y="412.3" width="7.5" height="3" fill="#0846ff"/>
<rect x="246.76" y="416.3" width="7.5" height="2" fill="#0846ff"/>
<rect x="246.76" y="418.3" width="7.5" height="8" fill="#0846ff"/>
<rect x="246.76" y="432.3" width="7.5" height="1.5" fill="#0846ff"/>
<rect x="246.76" y="433.8" width="7.5" height="1.5" fill="#0846ff"/>
<rect x="246.76" y="438.3" width="7.5" height="2" fill="#0846ff"/>
<rect x="246.76" y="440.3" width="7.5" height="5" fill="#0846ff"/>
<rect x="246.76" y="455.3" width="7.5" height="1" fill="#0846ff"/>
<rect x="246.76" y="461.3" width="7.5" height="2" fill="#0846ff"/>
<rect x="246.76" y="473.3" width="7.5" height="1" fill="#0846ff"/>
<rect x="246.76" y="478.3" width="7.5" height="1" fill="#0846ff"/>
<rect x="246.76" y="481.3" width="7.5" height="1.5" fill="#0846ff"/>
<rect x="246.76" y="487.8" width="7.5" height="4" fill="#0846ff"/>
<rect x="246.76" y="491.8" width="7.5" height="10" fill="#0846ff"/>
<rect x="246.76" y="505.8" width="7.5" height="6" fill="#0846ff"/>
<rect x="246.76" y="511.8" width="7.5" height="1" fill="#0846ff"/>
<rect x="246.76" y="515.8" width="7.5" height="6" fill="#0846ff"/>
<rect x="246.76" y="523.8" width="7.5" height="3" fill="#0846ff"/>
<rect x="246.76" y="534.8" width="7.5" height="8" fill="#0846ff"/>
<rect x="246.76" y="550.8" width="7.5" height="6" fill="#0846ff"/>
<rect x="246.76" y="569.8" width="7.5" height="1" fill="#0846ff"/>
<rect x="246.76" y="574.8" width="7.5" height="1.5" fill="#0846ff"/>
<rect x="246.76" y="586.3" width="7.5" height="1.5" fill="#0846ff"/>
<rect x="246.76" y="595.8" width="7.5" height="0.9" fill="#0846ff"/>
<rect x="255.04" y="396.4" width="8.9" height="169.4" fill="#fdfdfa"/>
<rect x="255.74" y="397" width="7.5" height="168.2" fill="#089de4"/>
<rect x="255.74" y="399" width="7.5" height="3" fill="#0846ff"/>
<rect x="255.74" y="407" width="7.5" height="2" fill="#0846ff"/>
<rect x="255.74" y="413" width="7.5" height="5" fill="#0846ff"/>
<rect x="255.74" y="418" width="7.5" height="5" fill="#0846ff"/>
<rect x="255.74" y="425" width="7.5" height="1" fill="#0846ff"/>
<rect x="255.74" y="429" width="7.5" height="1.5" fill="#0846ff"/>
<rect x="255.74" y="438.5" width="7.5" height="1" fill="#0846ff"/>
<rect x="255.74" y="449.5" width="7.5" height="3" fill="#0846ff"/>
<rect x="255.74" y="453.5" width="7.5" height="4" fill="#0846ff"/>
<rect x="255.74" y="465.5" width="7.5" height="5" fill="#0846ff"/>
<rect x="255.74" y="470.5" width="7.5" height="6" fill="#0846ff"/>
<rect x="255.74" y="478" width="7.5" height="10" fill="#0846ff"/>
<rect x="255.74" y="496" width="7.5" height="1" fill="#0846ff"/>
<rect x="255.74" y="501" width="7.5" height="1.5" fill="#0846ff"/>
<rect x="255.74" y="507" width="7.5" height="8" fill="#0846ff"/>
<rect x="255.74" y="516.5" width="7.5" height="5" fill="#0846ff"/>
<rect x="255.74" y="523.5" width="7.5" height="1" fill="#0846ff"/>
<rect x="255.74" y="527.5" width="7.5" height="6" fill="#0846ff"/>
<rect x="255.74" y="533.5" width="7.5" height="1" fill="#0846ff"/>
<rect x="255.74" y="539.5" width="7.5" height="1" fill="#0846ff"/>
<rect x="255.74" y="543.5" width="7.5" height="3" fill="#0846ff"/>
<rect x="255.74" y="547.5" width="7.5" height="6" fill="#0846ff"/>
<rect x="264.03" y="390.8" width="8.9" height="192.5" fill="#fdfdfa"/>
<rect x="264.73" y="391.4" width="7.5" height="191.3" fill="#089de4"/>
<rect x="264.73" y="392.4" width="7.5" height="2" fill="#0846ff"/>
<rect x="264.73" y="394.4" width="7.5" height="8" fill="#0846ff"/>
<rect x="264.73" y="403.4" width="7.5" height="8" fill="#0846ff"/>
<rect x="264.73" y="412.4" width="7.5" height="1" fill="#0846ff"/>
<rect x="264.73" y="414.4" width="7.5" height="6" fill="#0846ff"/>
<rect x="264.73" y="430.4" width="7.5" height="1" fill="#0846ff"/>
<rect x="264.73" y="441.4" width="7.5" height="1.5" fill="#0846ff"/>
<rect x="264.73" y="443.9" width="7.5" height="5" fill="#0846ff"/>
<rect x="264.73" y="452.9" width="7.5" height="2" fill="#0846ff"/>
<rect x="264.73" y="454.9" width="7.5" height="1" fill="#0846ff"/>
<rect x="264.73" y="456.9" width="7.5" height="8" fill="#0846ff"/>
<rect x="264.73" y="470.9" width="7.5" height="2" fill="#0846ff"/>
<rect x="264.73" y="478.9" width="7.5" height="4" fill="#0846ff"/>
<rect x="264.73" y="485.9" width="7.5" height="6" fill="#0846ff"/>
<rect x="264.73" y="495.9" width="7.5" height="1.5" fill="#0846ff"/>
<rect x="264.73" y="497.4" width="7.5" height="1" fill="#0846ff"/>
<rect x="264.73" y="506.4" width="7.5" height="3" fill="#0846ff"/>
<rect x="264.73" y="519.4" width="7.5" height="2" fill="#0846ff"/>
<rect x="264.73" y="529.4" width="7.5" height="6" fill="#0846ff"/>
<rect x="264.73" y="541.4" width="7.5" height="1" fill="#0846ff"/>
<rect x="264.73" y="548.4" width="7.5" height="6" fill="#0846ff"/>
<rect x="264.73" y="556.4" width="7.5" height="8" fill="#0846ff"/>
<rect x="264.73" y="566.4" width="7.5" height="2" fill="#0846ff"/>
<rect x="264.73" y="571.4" width="7.5" height="3" fill="#0846ff"/>
<rect x="264.73" y="575.4" width="7.5" height="1.5" fill="#0846ff"/>
<rect x="273.02" y="395.5" width="8.9" height="200.1" fill="#fdfdfa"/>
<rect x="273.72" y="396.1" width="7.5" height="198.9" fill="#089de4"/>
<rect x="273.72" y="401.1" width="7.5" height="4" fill="#0846ff"/>
<rect x="273.72" y="406.1" width="7.5" height="4" fill="#0846ff"/>
<rect x="273.72" y="412.1" width="7.5" height="10" fill="#0846ff"/>
<rect x="273.72" y="422.1" width="7.5" height="2" fill="#0846ff"/>
<rect x="273.72" y="425.1" width="7.5" height="4" fill="#0846ff"/>
<rect x="273.72" y="431.1" width="7.5" height="1" fill="#0846ff"/>
<rect x="273.72" y="436.1" width="7.5" height="5" fill="#0846ff"/>
<rect x="273.72" y="442.1" width="7.5" height="6" fill="#0846ff"/>
<rect x="273.72" y="455.1" width="7.5" height="5" fill="#0846ff"/>
<rect x="273.72" y="462.1" width="7.5" height="1" fill="#0846ff"/>
<rect x="273.72" y="473.1" width="7.5" height="6" fill="#0846ff"/>
<rect x="273.72" y="482.1" width="7.5" height="1.5" fill="#0846ff"/>
<rect x="273.72" y="487.6" width="7.5" height="1" fill="#0846ff"/>
<rect x="273.72" y="492.6" width="7.5" height="1.5" fill="#0846ff"/>
<rect x="273.72" y="495.1" width="7.5" height="5" fill="#0846ff"/>
<rect x="273.72" y="501.1" width="7.5" height="6" fill="#0846ff"/>
<rect x="273.72" y="513.1" width="7.5" height="2" fill="#0846ff"/>
<rect x="273.72" y="519.1" width="7.5" height="6" fill="#0846ff"/>
<rect x="273.72" y="525.1" width="7.5" height="2" fill="#0846ff"/>
<rect x="273.72" y="530.1" width="7.5" height="1.5" fill="#0846ff"/>
<rect x="273.72" y="532.6" width="7.5" height="5" fill="#0846ff"/>
<rect x="273.72" y="547.6" width="7.5" height="1" fill="#0846ff"/>
<rect x="273.72" y="548.6" width="7.5" height="8" fill="#0846ff"/>
<rect x="273.72" y="557.6" width="7.5" height="1" fill="#0846ff"/>
<rect x="273.72" y="564.6" width="7.5" height="1" fill="#0846ff"/>
<rect x="273.72" y="565.6" width="7.5" height="8" fill="#0846ff"/>
<rect x="273.72" y="575.1" width="7.5" height="1.5" fill="#0846ff"/>
<rect x="273.72" y="580.6" width="7.5" height="2" fill="#0846ff"/>
<rect x="273.72" y="582.6" width="7.5" height="1" fill="#0846ff"/>
<rect x="273.72" y="583.6" width="7.5" height="1" fill="#0846ff"/>
<rect x="273.72" y="585.6" width="7.5" height="5" fill="#0846ff"/>
<rect x="282" y="372.3" width="8.9" height="199.7" fill="#fdfdfa"/>
<rect x="282.7" y="372.9" width="7.5" height="198.5" fill="#089de4"/>
<rect x="282.7" y="372.9" width="7.5" height="1" fill="#0846ff"/>
<rect x="282.7" y="382.9" width="7.5" height="6" fill="#0846ff"/>
<rect x="282.7" y="396.9" width="7.5" height="3" fill="#0846ff"/>
<rect x="282.7" y="402.9" width="7.5" height="4" fill="#0846ff"/>
<rect x="282.7" y="410.9" width="7.5" height="1.5" fill="#0846ff"/>
<rect x="282.7" y="412.4" width="7.5" height="1" fill="#0846ff"/>
<rect x="282.7" y="415.4" width="7.5" height="1.5" fill="#0846ff"/>
<rect x="282.7" y="416.9" width="7.5" height="2" fill="#0846ff"/>
<rect x="282.7" y="434.9" width="7.5" height="4" fill="#0846ff"/>
<rect x="282.7" y="438.9" width="7.5" height="3" fill="#0846ff"/>
<rect x="282.7" y="449.9" width="7.5" height="3" fill="#0846ff"/>
<rect x="282.7" y="454.9" width="7.5" height="8" fill="#0846ff"/>
<rect x="282.7" y="465.9" width="7.5" height="1" fill="#0846ff"/>
<rect x="282.7" y="470.9" width="7.5" height="1.5" fill="#0846ff"/>
<rect x="282.7" y="473.9" width="7.5" height="3" fill="#0846ff"/>
<rect x="282.7" y="477.9" width="7.5" height="2" fill="#0846ff"/>
<rect x="282.7" y="481.4" width="7.5" height="1" fill="#0846ff"/>
<rect x="282.7" y="486.4" width="7.5" height="5" fill="#0846ff"/>
<rect x="282.7" y="504.4" width="7.5" height="2" fill="#0846ff"/>
<rect x="282.7" y="514.4" width="7.5" height="3" fill="#0846ff"/>
<rect x="282.7" y="517.4" width="7.5" height="1" fill="#0846ff"/>
<rect x="282.7" y="520.4" width="7.5" height="8" fill="#0846ff"/>
<rect x="282.7" y="533.4" width="7.5" height="1.5" fill="#0846ff"/>
<rect x="282.7" y="539.9" width="7.5" height="3" fill="#0846ff"/>
<rect x="282.7" y="545.9" width="7.5" height="6" fill="#0846ff"/>
<rect x="282.7" y="553.4" width="7.5" height="2" fill="#0846ff"/>
<rect x="282.7" y="557.4" width="7.5" height="1" fill="#0846ff"/>
<rect x="282.7" y="558.4" width="7.5" height="10" fill="#0846ff"/>
<rect x="282.7" y="570.4" width="7.5" height="1" fill="#0846ff"/>
<rect x="290.99" y="407.3" width="8.9" height="178.9" fill="#fdfdfa"/>
<rect x="291.69" y="407.9" width="7.5" height="177.7" fill="#089de4"/>
<rect x="291.69" y="409.9" width="7.5" height="2" fill="#0846ff"/>
<rect x="291.69" y="421.9" width="7.5" height="3" fill="#0846ff"/>
<rect x="291.69" y="425.9" width="7.5" height="3" fill="#0846ff"/>
<rect x="291.69" y="440.9" width="7.5" height="3" fill="#0846ff"/>
<rect x="291.69" y="443.9" width="7.5" height="4" fill="#0846ff"/>
<rect x="291.69" y="455.9" width="7.5" height="1.5" fill="#0846ff"/>
<rect x="291.69" y="460.4" width="7.5" height="10" fill="#0846ff"/>
<rect x="291.69" y="479.4" width="7.5" height="4" fill="#0846ff"/>
<rect x="291.69" y="483.4" width="7.5" height="1" fill="#0846ff"/>
<rect x="291.69" y="494.4" width="7.5" height="3" fill="#0846ff"/>
<rect x="291.69" y="500.4" width="7.5" height="1" fill="#0846ff"/>
<rect x="291.69" y="506.4" width="7.5" height="1" fill="#0846ff"/>
<rect x="291.69" y="512.4" width="7.5" height="2" fill="#0846ff"/>
<rect x="291.69" y="514.4" width="7.5" height="2" fill="#0846ff"/>
<rect x="291.69" y="517.9" width="7.5" height="2" fill="#0846ff"/>
<rect x="291.69" y="520.9" width="7.5" height="10" fill="#0846ff"/>
<rect x="291.69" y="532.9" width="7.5" height="6" fill="#0846ff"/>
<rect x="291.69" y="542.9" width="7.5" height="10" fill="#0846ff"/>
<rect x="291.69" y="565.9" width="7.5" height="2" fill="#0846ff"/>
<rect x="291.69" y="571.9" width="7.5" height="2" fill="#0846ff"/>
<rect x="291.69" y="574.9" width="7.5" height="1.5" fill="#0846ff"/>
<rect x="291.69" y="579.9" width="7.5" height="4" fill="#0846ff"/>
<rect x="299.98" y="396.4" width="8.9" height="178.8" fill="#fdfdfa"/>
<rect x="300.68" y="397" width="7.5" height="177.6" fill="#089de4"/>
<rect x="300.68" y="397" width="7.5" height="3" fill="#0846ff"/>
<rect x="300.68" y="406" width="7.5" height="3" fill="#0846ff"/>
<rect x="300.68" y="409" width="7.5" height="1" fill="#0846ff"/>
<rect x="300.68" y="413" width="7.5" height="3" fill="#0846ff"/>
<rect x="300.68" y="422" width="7.5" height="3" fill="#0846ff"/>
<rect x="300.68" y="430" width="7.5" height="5" fill="#0846ff"/>
<rect x="300.68" y="453" width="7.5" height="3" fill="#0846ff"/>
<rect x="300.68" y="457.5" width="7.5" height="3" fill="#0846ff"/>
<rect x="300.68" y="468.5" width="7.5" height="1.5" fill="#0846ff"/>
<rect x="300.68" y="473" width="7.5" height="4" fill="#0846ff"/>
<rect x="300.68" y="478" width="7.5" height="8" fill="#0846ff"/>
<rect x="300.68" y="494" width="7.5" height="8" fill="#0846ff"/>
<rect x="300.68" y="503" width="7.5" height="2" fill="#0846ff"/>
<rect x="300.68" y="506" width="7.5" height="1" fill="#0846ff"/>
<rect x="300.68" y="509" width="7.5" height="1.5" fill="#0846ff"/>
<rect x="300.68" y="522.5" width="7.5" height="5" fill="#0846ff"/>
<rect x="300.68" y="527.5" width="7.5" height="4" fill="#0846ff"/>
<rect x="300.68" y="536" width="7.5" height="2" fill="#0846ff"/>
<rect x="300.68" y="539" width="7.5" height="2" fill="#0846ff"/>
<rect x="300.68" y="547" width="7.5" height="2" fill="#0846ff"/>
<rect x="300.68" y="551" width="7.5" height="3" fill="#0846ff"/>
<rect x="300.68" y="559" width="7.5" height="4" fill="#0846ff"/>
<rect x="300.68" y="565" width="7.5" height="3" fill="#0846ff"/>
<rect x="300.68" y="573" width="7.5" height="1.6" fill="#0846ff"/>
<rect x="308.97" y="402.6" width="8.9" height="178.6" fill="#fdfdfa"/>
<rect x="309.67" y="403.2" width="7.5" height="177.4" fill="#089de4"/>
<rect x="309.67" y="406.7" width="7.5" height="3" fill="#0846ff"/>
<rect x="309.67" y="413.7" width="7.5" height="1" fill="#0846ff"/>
<rect x="309.67" y="415.7" width="7.5" height="3" fill="#0846ff"/>
<rect x="309.67" y="419.7" width="7.5" height="4" fill="#0846ff"/>
<rect x="309.67" y="424.7" width="7.5" height="8" fill="#0846ff"/>
<rect x="309.67" y="434.2" width="7.5" height="8" fill="#0846ff"/>
<rect x="309.67" y="450.2" width="7.5" height="6" fill="#0846ff"/>
<rect x="309.67" y="461.2" width="7.5" height="10" fill="#0846ff"/>
<rect x="309.67" y="471.2" width="7.5" height="4" fill="#0846ff"/>
<rect x="309.67" y="483.2" width="7.5" height="10" fill="#0846ff"/>
<rect x="309.67" y="494.2" width="7.5" height="5" fill="#0846ff"/>
<rect x="309.67" y="503.2" width="7.5" height="6" fill="#0846ff"/>
<rect x="309.67" y="517.2" width="7.5" height="4" fill="#0846ff"/>
<rect x="309.67" y="523.2" width="7.5" height="2" fill="#0846ff"/>
<rect x="309.67" y="530.2" width="7.5" height="3" fill="#0846ff"/>
<rect x="309.67" y="534.2" width="7.5" height="4" fill="#0846ff"/>
<rect x="309.67" y="540.2" width="7.5" height="2" fill="#0846ff"/>
<rect x="309.67" y="545.2" width="7.5" height="6" fill="#0846ff"/>
<rect x="309.67" y="554.2" width="7.5" height="6" fill="#0846ff"/>
<rect x="309.67" y="563.2" width="7.5" height="3" fill="#0846ff"/>
<rect x="309.67" y="566.2" width="7.5" height="1" fill="#0846ff"/>
<rect x="309.67" y="569.2" width="7.5" height="4" fill="#0846ff"/>
<rect x="309.67" y="578.2" width="7.5" height="2.4" fill="#0846ff"/>
<rect x="317.95" y="387" width="8.9" height="200.1" fill="#fdfdfa"/>
<rect x="318.65" y="387.6" width="7.5" height="198.9" fill="#089de4"/>
<rect x="318.65" y="387.6" width="7.5" height="5" fill="#0846ff"/>
<rect x="318.65" y="395.6" width="7.5" height="3" fill="#0846ff"/>
<rect x="318.65" y="406.6" width="7.5" height="1" fill="#0846ff"/>
<rect x="318.65" y="412.6" width="7.5" height="3" fill="#0846ff"/>
<rect x="318.65" y="418.6" width="7.5" height="6" fill="#0846ff"/>
<rect x="318.65" y="430.6" width="7.5" height="6" fill="#0846ff"/>
<rect x="318.65" y="436.6" width="7.5" height="6" fill="#0846ff"/>
<rect x="318.65" y="447.6" width="7.5" height="1" fill="#0846ff"/>
<rect x="318.65" y="451.6" width="7.5" height="1" fill="#0846ff"/>
<rect x="318.65" y="457.6" width="7.5" height="8" fill="#0846ff"/>
<rect x="318.65" y="465.6" width="7.5" height="10" fill="#0846ff"/>
<rect x="318.65" y="483.6" width="7.5" height="5" fill="#0846ff"/>
<rect x="318.65" y="493.6" width="7.5" height="2" fill="#0846ff"/>
<rect x="318.65" y="496.6" width="7.5" height="6" fill="#0846ff"/>
<rect x="318.65" y="516.6" width="7.5" height="10" fill="#0846ff"/>
<rect x="318.65" y="527.6" width="7.5" height="10" fill="#0846ff"/>
<rect x="318.65" y="539.6" width="7.5" height="1" fill="#0846ff"/>
<rect x="318.65" y="548.6" width="7.5" height="1.5" fill="#0846ff"/>
<rect x="318.65" y="555.1" width="7.5" height="8" fill="#0846ff"/>
<rect x="318.65" y="563.1" width="7.5" height="5" fill="#0846ff"/>
<rect x="318.65" y="568.1" width="7.5" height="6" fill="#0846ff"/>
<rect x="318.65" y="580.1" width="7.5" height="1.5" fill="#0846ff"/>
<rect x="326.94" y="402.6" width="8.9" height="186.6" fill="#fdfdfa"/>
<rect x="327.64" y="403.2" width="7.5" height="185.4" fill="#089de4"/>
<rect x="327.64" y="403.2" width="7.5" height="1.5" fill="#0846ff"/>
<rect x="327.64" y="404.7" width="7.5" height="4" fill="#0846ff"/>
<rect x="327.64" y="414.7" width="7.5" height="1" fill="#0846ff"/>
<rect x="327.64" y="423.7" width="7.5" height="3" fill="#0846ff"/>
<rect x="327.64" y="428.7" width="7.5" height="1.5" fill="#0846ff"/>
<rect x="327.64" y="438.2" width="7.5" height="6" fill="#0846ff"/>
<rect x="327.64" y="446.2" width="7.5" height="3" fill="#0846ff"/>
<rect x="327.64" y="457.2" width="7.5" height="1" fill="#0846ff"/>
<rect x="327.64" y="464.2" width="7.5" height="2" fill="#0846ff"/>
<rect x="327.64" y="475.2" width="7.5" height="4" fill="#0846ff"/>
<rect x="327.64" y="485.2" width="7.5" height="4" fill="#0846ff"/>
<rect x="327.64" y="489.2" width="7.5" height="1" fill="#0846ff"/>
<rect x="327.64" y="493.2" width="7.5" height="6" fill="#0846ff"/>
<rect x="327.64" y="501.2" width="7.5" height="10" fill="#0846ff"/>
<rect x="327.64" y="513.2" width="7.5" height="1.5" fill="#0846ff"/>
<rect x="327.64" y="516.2" width="7.5" height="2" fill="#0846ff"/>
<rect x="327.64" y="521.2" width="7.5" height="5" fill="#0846ff"/>
<rect x="327.64" y="526.2" width="7.5" height="3" fill="#0846ff"/>
<rect x="327.64" y="533.2" width="7.5" height="3" fill="#0846ff"/>
<rect x="327.64" y="539.2" width="7.5" height="2" fill="#0846ff"/>
<rect x="327.64" y="544.2" width="7.5" height="8" fill="#0846ff"/>
<rect x="327.64" y="553.7" width="7.5" height="1.5" fill="#0846ff"/>
<rect x="327.64" y="557.2" width="7.5" height="1.5" fill="#0846ff"/>
<rect x="327.64" y="562.7" width="7.5" height="2" fill="#0846ff"/>
<rect x="327.64" y="567.7" width="7.5" height="3" fill="#0846ff"/>
<rect x="327.64" y="576.7" width="7.5" height="4" fill="#0846ff"/>
<rect x="335.93" y="322.3" width="8.9" height="263.9" fill="#fdfdfa"/>
<rect x="336.63" y="322.9" width="7.5" height="262.7" fill="#089de4"/>
<rect x="336.63" y="324.9" width="7.5" height="4" fill="#0846ff"/>
<rect x="336.63" y="331.9" width="7.5" height="3" fill="#0846ff"/>
<rect x="336.63" y="336.9" width="7.5" height="1" fill="#0846ff"/>
<rect x="336.63" y="338.9" width="7.5" height="2" fill="#0846ff"/>
<rect x="336.63" y="343.9" width="7.5" height="10" fill="#0846ff"/>
<rect x="336.63" y="355.9" width="7.5" height="10" fill="#0846ff"/>
<rect x="336.63" y="367.4" width="7.5" height="2" fill="#0846ff"/>
<rect x="336.63" y="378.4" width="7.5" height="3" fill="#0846ff"/>
<rect x="336.63" y="383.4" width="7.5" height="10" fill="#0846ff"/>
<rect x="336.63" y="395.4" width="7.5" height="10" fill="#0846ff"/>
<rect x="336.63" y="408.4" width="7.5" height="4" fill="#0846ff"/>
<rect x="336.63" y="423.4" width="7.5" height="8" fill="#0846ff"/>
<rect x="336.63" y="441.4" width="7.5" height="3" fill="#0846ff"/>
<rect x="336.63" y="454.4" width="7.5" height="2" fill="#0846ff"/>
<rect x="336.63" y="456.4" width="7.5" height="3" fill="#0846ff"/>
<rect x="336.63" y="467.4" width="7.5" height="2" fill="#0846ff"/>
<rect x="336.63" y="475.4" width="7.5" height="10" fill="#0846ff"/>
<rect x="336.63" y="488.4" width="7.5" height="1.5" fill="#0846ff"/>
<rect x="336.63" y="491.9" width="7.5" height="10" fill="#0846ff"/>
<rect x="336.63" y="503.9" width="7.5" height="1.5" fill="#0846ff"/>
<rect x="336.63" y="507.4" width="7.5" height="10" fill="#0846ff"/>
<rect x="336.63" y="520.4" width="7.5" height="6" fill="#0846ff"/>
<rect x="336.63" y="527.4" width="7.5" height="8" fill="#0846ff"/>
<rect x="336.63" y="542.4" width="7.5" height="1" fill="#0846ff"/>
<rect x="336.63" y="543.4" width="7.5" height="8" fill="#0846ff"/>
<rect x="336.63" y="554.4" width="7.5" height="3" fill="#0846ff"/>
<rect x="336.63" y="558.4" width="7.5" height="10" fill="#0846ff"/>
<rect x="336.63" y="578.4" width="7.5" height="2" fill="#0846ff"/>
<rect x="336.63" y="581.4" width="7.5" height="3" fill="#0846ff"/>
<rect x="344.91" y="385.6" width="8.9" height="187.1" fill="#fdfdfa"/>
<rect x="345.61" y="386.2" width="7.5" height="185.9" fill="#089de4"/>
<rect x="345.61" y="394.2" width="7.5" height="5" fill="#0846ff"/>
<rect x="345.61" y="409.2" width="7.5" height="8" fill="#0846ff"/>
<rect x="345.61" y="418.7" width="7.5" height="2" fill="#0846ff"/>
<rect x="345.61" y="430.7" width="7.5" height="5" fill="#0846ff"/>
<rect x="345.61" y="440.7" width="7.5" height="8" fill="#0846ff"/>
<rect x="345.61" y="450.7" width="7.5" height="1" fill="#0846ff"/>
<rect x="345.61" y="454.7" width="7.5" height="2" fill="#0846ff"/>
<rect x="345.61" y="458.2" width="7.5" height="10" fill="#0846ff"/>
<rect x="345.61" y="472.2" width="7.5" height="2" fill="#0846ff"/>
<rect x="345.61" y="484.2" width="7.5" height="8" fill="#0846ff"/>
<rect x="345.61" y="494.2" width="7.5" height="10" fill="#0846ff"/>
<rect x="345.61" y="510.2" width="7.5" height="8" fill="#0846ff"/>
<rect x="345.61" y="523.2" width="7.5" height="1.5" fill="#0846ff"/>
<rect x="345.61" y="526.2" width="7.5" height="4" fill="#0846ff"/>
<rect x="345.61" y="533.2" width="7.5" height="1" fill="#0846ff"/>
<rect x="345.61" y="535.2" width="7.5" height="2" fill="#0846ff"/>
<rect x="345.61" y="539.2" width="7.5" height="1" fill="#0846ff"/>
<rect x="345.61" y="545.7" width="7.5" height="4" fill="#0846ff"/>
<rect x="345.61" y="551.7" width="7.5" height="1" fill="#0846ff"/>
<rect x="345.61" y="560.7" width="7.5" height="10" fill="#0846ff"/>
<rect x="353.9" y="396.4" width="8.9" height="183.6" fill="#fdfdfa"/>
<rect x="354.6" y="397" width="7.5" height="182.4" fill="#089de4"/>
<rect x="354.6" y="397" width="7.5" height="4" fill="#0846ff"/>
<rect x="354.6" y="401" width="7.5" height="4" fill="#0846ff"/>
<rect x="354.6" y="410" width="7.5" height="3" fill="#0846ff"/>
<rect x="354.6" y="413" width="7.5" height="8" fill="#0846ff"/>
<rect x="354.6" y="435" width="7.5" height="8" fill="#0846ff"/>
<rect x="354.6" y="444.5" width="7.5" height="1" fill="#0846ff"/>
<rect x="354.6" y="447" width="7.5" height="1.5" fill="#0846ff"/>
<rect x="354.6" y="448.5" width="7.5" height="5" fill="#0846ff"/>
<rect x="354.6" y="461.5" width="7.5" height="10" fill="#0846ff"/>
<rect x="354.6" y="481.5" width="7.5" height="3" fill="#0846ff"/>
<rect x="354.6" y="487.5" width="7.5" height="3" fill="#0846ff"/>
<rect x="354.6" y="493.5" width="7.5" height="2" fill="#0846ff"/>
<rect x="354.6" y="496.5" width="7.5" height="8" fill="#0846ff"/>
<rect x="354.6" y="504.5" width="7.5" height="10" fill="#0846ff"/>
<rect x="354.6" y="519.5" width="7.5" height="10" fill="#0846ff"/>
<rect x="354.6" y="531.5" width="7.5" height="8" fill="#0846ff"/>
<rect x="354.6" y="549.5" width="7.5" height="1.5" fill="#0846ff"/>
<rect x="354.6" y="554" width="7.5" height="1" fill="#0846ff"/>
<rect x="354.6" y="555" width="7.5" height="4" fill="#0846ff"/>
<rect x="354.6" y="569" width="7.5" height="1" fill="#0846ff"/>
<rect x="354.6" y="575" width="7.5" height="2" fill="#0846ff"/>
<rect x="354.6" y="578" width="7.5" height="1.4" fill="#0846ff"/>
<rect x="362.89" y="414.4" width="8.9" height="165.6" fill="#fdfdfa"/>
<rect x="363.59" y="415" width="7.5" height="164.4" fill="#089de4"/>
<rect x="363.59" y="415" width="7.5" height="1" fill="#0846ff"/>
<rect x="363.59" y="419" width="7.5" height="1" fill="#0846ff"/>
<rect x="363.59" y="426" width="7.5" height="6" fill="#0846ff"/>
<rect x="363.59" y="433" width="7.5" height="5" fill="#0846ff"/>
<rect x="363.59" y="450.5" width="7.5" height="1" fill="#0846ff"/>
<rect x="363.59" y="454.5" width="7.5" height="2" fill="#0846ff"/>
<rect x="363.59" y="463.5" width="7.5" height="1.5" fill="#0846ff"/>
<rect x="363.59" y="468" width="7.5" height="8" fill="#0846ff"/>
<rect x="363.59" y="478" width="7.5" height="10" fill="#0846ff"/>
<rect x="363.59" y="489" width="7.5" height="6" fill="#0846ff"/>
<rect x="363.59" y="504" width="7.5" height="6" fill="#0846ff"/>
<rect x="363.59" y="512" width="7.5" height="1.5" fill="#0846ff"/>
<rect x="363.59" y="513.5" width="7.5" height="2" fill="#0846ff"/>
<rect x="363.59" y="516.5" width="7.5" height="2" fill="#0846ff"/>
<rect x="363.59" y="520.5" width="7.5" height="2" fill="#0846ff"/>
<rect x="363.59" y="524.5" width="7.5" height="2" fill="#0846ff"/>
<rect x="363.59" y="536.5" width="7.5" height="5" fill="#0846ff"/>
<rect x="363.59" y="541.5" width="7.5" height="6" fill="#0846ff"/>
<rect x="363.59" y="550.5" width="7.5" height="4" fill="#0846ff"/>
<rect x="363.59" y="559.5" width="7.5" height="10" fill="#0846ff"/>
<rect x="363.59" y="570.5" width="7.5" height="8.9" fill="#0846ff"/>
<rect x="371.88" y="357.6" width="8.9" height="225.7" fill="#fdfdfa"/>
<rect x="372.57" y="358.2" width="7.5" height="224.5" fill="#089de4"/>
<rect x="372.57" y="358.2" width="7.5" height="8" fill="#0846ff"/>
<rect x="372.57" y="369.7" width="7.5" height="1" fill="#0846ff"/>
<rect x="372.57" y="376.7" width="7.5" height="2" fill="#0846ff"/>
<rect x="372.57" y="379.7" width="7.5" height="6" fill="#0846ff"/>
<rect x="372.57" y="385.7" width="7.5" height="4" fill="#0846ff"/>
<rect x="372.57" y="399.7" width="7.5" height="1" fill="#0846ff"/>
<rect x="372.57" y="402.7" width="7.5" height="10" fill="#0846ff"/>
<rect x="372.57" y="412.7" width="7.5" height="1.5" fill="#0846ff"/>
<rect x="372.57" y="417.2" width="7.5" height="10" fill="#0846ff"/>
<rect x="372.57" y="429.2" width="7.5" height="3" fill="#0846ff"/>
<rect x="372.57" y="447.2" width="7.5" height="6" fill="#0846ff"/>
<rect x="372.57" y="456.2" width="7.5" height="6" fill="#0846ff"/>
<rect x="372.57" y="470.2" width="7.5" height="3" fill="#0846ff"/>
<rect x="372.57" y="477.2" width="7.5" height="6" fill="#0846ff"/>
<rect x="372.57" y="484.2" width="7.5" height="1" fill="#0846ff"/>
<rect x="372.57" y="486.7" width="7.5" height="2" fill="#0846ff"/>
<rect x="372.57" y="488.7" width="7.5" height="8" fill="#0846ff"/>
<rect x="372.57" y="498.2" width="7.5" height="2" fill="#0846ff"/>
<rect x="372.57" y="510.2" width="7.5" height="2" fill="#0846ff"/>
<rect x="372.57" y="512.2" width="7.5" height="1" fill="#0846ff"/>
<rect x="372.57" y="514.7" width="7.5" height="4" fill="#0846ff"/>
<rect x="372.57" y="518.7" width="7.5" height="1" fill="#0846ff"/>
<rect x="372.57" y="525.7" width="7.5" height="8" fill="#0846ff"/>
<rect x="372.57" y="547.7" width="7.5" height="3" fill="#0846ff"/>
<rect x="372.57" y="556.7" width="7.5" height="3" fill="#0846ff"/>
<rect x="372.57" y="561.7" width="7.5" height="1.5" fill="#0846ff"/>
<rect x="372.57" y="564.2" width="7.5" height="3" fill="#0846ff"/>
<rect x="372.57" y="570.2" width="7.5" height="3" fill="#0846ff"/>
<rect x="372.57" y="573.2" width="7.5" height="3" fill="#0846ff"/>
<rect x="372.57" y="582.2" width="7.5" height="0.5" fill="#0846ff"/>
<rect x="380.86" y="409.2" width="8.9" height="158.2" fill="#fdfdfa"/>
<rect x="381.56" y="409.8" width="7.5" height="157" fill="#089de4"/>
<rect x="381.56" y="409.8" width="7.5" height="6" fill="#0846ff"/>
<rect x="381.56" y="417.3" width="7.5" height="1.5" fill="#0846ff"/>
<rect x="381.56" y="420.8" width="7.5" height="2" fill="#0846ff"/>
<rect x="381.56" y="428.8" width="7.5" height="1.5" fill="#0846ff"/>
<rect x="381.56" y="430.3" width="7.5" height="1" fill="#0846ff"/>
<rect x="381.56" y="431.3" width="7.5" height="1" fill="#0846ff"/>
<rect x="381.56" y="432.3" width="7.5" height="3" fill="#0846ff"/>
<rect x="381.56" y="443.3" width="7.5" height="2" fill="#0846ff"/>
<rect x="381.56" y="448.8" width="7.5" height="2" fill="#0846ff"/>
<rect x="381.56" y="450.8" width="7.5" height="3" fill="#0846ff"/>
<rect x="381.56" y="460.8" width="7.5" height="5" fill="#0846ff"/>
<rect x="381.56" y="468.8" width="7.5" height="3" fill="#0846ff"/>
<rect x="381.56" y="475.8" width="7.5" height="2" fill="#0846ff"/>
<rect x="381.56" y="480.8" width="7.5" height="2" fill="#0846ff"/>
<rect x="381.56" y="490.8" width="7.5" height="4" fill="#0846ff"/>
<rect x="381.56" y="502.8" width="7.5" height="2" fill="#0846ff"/>
<rect x="381.56" y="506.8" width="7.5" height="5" fill="#0846ff"/>
<rect x="381.56" y="514.8" width="7.5" height="2" fill="#0846ff"/>
<rect x="381.56" y="517.8" width="7.5" height="2" fill="#0846ff"/>
<rect x="381.56" y="523.8" width="7.5" height="10" fill="#0846ff"/>
<rect x="381.56" y="534.8" width="7.5" height="3" fill="#0846ff"/>
<rect x="381.56" y="537.8" width="7.5" height="2" fill="#0846ff"/>
<rect x="381.56" y="539.8" width="7.5" height="5" fill="#0846ff"/>
<rect x="381.56" y="546.3" width="7.5" height="2" fill="#0846ff"/>
<rect x="381.56" y="550.3" width="7.5" height="4" fill="#0846ff"/>
<rect x="381.56" y="560.3" width="7.5" height="5" fill="#0846ff"/>
<rect x="389.85" y="406.8" width="8.9" height="183.2" fill="#fdfdfa"/>
<rect x="390.55" y="407.4" width="7.5" height="182" fill="#089de4"/>
<rect x="390.55" y="407.4" width="7.5" height="1.5" fill="#0846ff"/>
<rect x="390.55" y="409.9" width="7.5" height="6" fill="#0846ff"/>
<rect x="390.55" y="417.4" width="7.5" height="2" fill="#0846ff"/>
<rect x="390.55" y="420.4" width="7.5" height="1" fill="#0846ff"/>
<rect x="390.55" y="425.4" width="7.5" height="3" fill="#0846ff"/>
<rect x="390.55" y="431.4" width="7.5" height="3" fill="#0846ff"/>
<rect x="390.55" y="435.4" width="7.5" height="3" fill="#0846ff"/>
<rect x="390.55" y="444.4" width="7.5" height="4" fill="#0846ff"/>
<rect x="390.55" y="448.4" width="7.5" height="1" fill="#0846ff"/>
<rect x="390.55" y="449.4" width="7.5" height="6" fill="#0846ff"/>
<rect x="390.55" y="458.4" width="7.5" height="6" fill="#0846ff"/>
<rect x="390.55" y="467.4" width="7.5" height="1" fill="#0846ff"/>
<rect x="390.55" y="469.9" width="7.5" height="1" fill="#0846ff"/>
<rect x="390.55" y="473.9" width="7.5" height="5" fill="#0846ff"/>
<rect x="390.55" y="483.9" width="7.5" height="6" fill="#0846ff"/>
<rect x="390.55" y="491.9" width="7.5" height="2" fill="#0846ff"/>
<rect x="390.55" y="497.9" width="7.5" height="8" fill="#0846ff"/>
<rect x="390.55" y="514.9" width="7.5" height="3" fill="#0846ff"/>
<rect x="390.55" y="519.9" width="7.5" height="1" fill="#0846ff"/>
<rect x="390.55" y="521.9" width="7.5" height="3" fill="#0846ff"/>
<rect x="390.55" y="532.9" width="7.5" height="1" fill="#0846ff"/>
<rect x="390.55" y="533.9" width="7.5" height="6" fill="#0846ff"/>
<rect x="390.55" y="540.9" width="7.5" height="2" fill="#0846ff"/>
<rect x="390.55" y="544.4" width="7.5" height="6" fill="#0846ff"/>
<rect x="390.55" y="563.4" width="7.5" height="3" fill="#0846ff"/>
<rect x="390.55" y="568.4" width="7.5" height="4" fill="#0846ff"/>
<rect x="390.55" y="578.4" width="7.5" height="3" fill="#0846ff"/>
<rect x="390.55" y="582.4" width="7.5" height="7" fill="#0846ff"/>
<rect x="398.84" y="380.8" width="8.9" height="205.4" fill="#fdfdfa"/>
<rect x="399.54" y="381.4" width="7.5" height="204.2" fill="#089de4"/>
<rect x="399.54" y="384.4" width="7.5" height="3" fill="#0846ff"/>
<rect x="399.54" y="393.4" width="7.5" height="3" fill="#0846ff"/>
<rect x="399.54" y="396.4" width="7.5" height="8" fill="#0846ff"/>
<rect x="399.54" y="404.4" width="7.5" height="1" fill="#0846ff"/>
<rect x="399.54" y="407.4" width="7.5" height="2" fill="#0846ff"/>
<rect x="399.54" y="411.4" width="7.5" height="3" fill="#0846ff"/>
<rect x="399.54" y="420.4" width="7.5" height="6" fill="#0846ff"/>
<rect x="399.54" y="433.9" width="7.5" height="2" fill="#0846ff"/>
<rect x="399.54" y="436.9" width="7.5" height="2" fill="#0846ff"/>
<rect x="399.54" y="446.9" width="7.5" height="4" fill="#0846ff"/>
<rect x="399.54" y="463.9" width="7.5" height="4" fill="#0846ff"/>
<rect x="399.54" y="471.4" width="7.5" height="1" fill="#0846ff"/>
<rect x="399.54" y="473.4" width="7.5" height="2" fill="#0846ff"/>
<rect x="399.54" y="485.4" width="7.5" height="1.5" fill="#0846ff"/>
<rect x="399.54" y="489.9" width="7.5" height="3" fill="#0846ff"/>
<rect x="399.54" y="500.9" width="7.5" height="3" fill="#0846ff"/>
<rect x="399.54" y="503.9" width="7.5" height="1" fill="#0846ff"/>
<rect x="399.54" y="506.9" width="7.5" height="10" fill="#0846ff"/>
<rect x="399.54" y="518.4" width="7.5" height="2" fill="#0846ff"/>
<rect x="399.54" y="530.4" width="7.5" height="1" fill="#0846ff"/>
<rect x="399.54" y="534.4" width="7.5" height="1" fill="#0846ff"/>
<rect x="399.54" y="544.4" width="7.5" height="1.5" fill="#0846ff"/>
<rect x="399.54" y="550.9" width="7.5" height="10" fill="#0846ff"/>
<rect x="399.54" y="561.9" width="7.5" height="4" fill="#0846ff"/>
<rect x="399.54" y="565.9" width="7.5" height="1" fill="#0846ff"/>
<rect x="399.54" y="570.9" width="7.5" height="2" fill="#0846ff"/>
<rect x="399.54" y="573.9" width="7.5" height="1" fill="#0846ff"/>
<rect x="399.54" y="574.9" width="7.5" height="2" fill="#0846ff"/>
<rect x="399.54" y="579.9" width="7.5" height="3" fill="#0846ff"/>
<rect x="407.82" y="421.1" width="8.9" height="165.1" fill="#fdfdfa"/>
<rect x="408.52" y="421.7" width="7.5" height="163.9" fill="#089de4"/>
<rect x="408.52" y="426.7" width="7.5" height="3" fill="#0846ff"/>
<rect x="408.52" y="439.7" width="7.5" height="3" fill="#0846ff"/>
<rect x="408.52" y="447.7" width="7.5" height="1.5" fill="#0846ff"/>
<rect x="408.52" y="461.7" width="7.5" height="6" fill="#0846ff"/>
<rect x="408.52" y="469.7" width="7.5" height="10" fill="#0846ff"/>
<rect x="408.52" y="481.7" width="7.5" height="8" fill="#0846ff"/>
<rect x="408.52" y="495.7" width="7.5" height="10" fill="#0846ff"/>
<rect x="408.52" y="515.7" width="7.5" height="8" fill="#0846ff"/>
<rect x="408.52" y="528.7" width="7.5" height="4" fill="#0846ff"/>
<rect x="408.52" y="532.7" width="7.5" height="1" fill="#0846ff"/>
<rect x="408.52" y="546.7" width="7.5" height="5" fill="#0846ff"/>
<rect x="408.52" y="551.7" width="7.5" height="2" fill="#0846ff"/>
<rect x="408.52" y="566.7" width="7.5" height="3" fill="#0846ff"/>
<rect x="408.52" y="569.7" width="7.5" height="2" fill="#0846ff"/>
<rect x="408.52" y="579.7" width="7.5" height="1" fill="#0846ff"/>
<rect x="416.81" y="403.8" width="8.9" height="157.8" fill="#fdfdfa"/>
<rect x="417.51" y="404.4" width="7.5" height="156.6" fill="#089de4"/>
<rect x="417.51" y="406.4" width="7.5" height="4" fill="#0846ff"/>
<rect x="417.51" y="410.4" width="7.5" height="3" fill="#0846ff"/>
<rect x="417.51" y="417.4" width="7.5" height="1.5" fill="#0846ff"/>
<rect x="417.51" y="423.9" width="7.5" height="2" fill="#0846ff"/>
<rect x="417.51" y="428.9" width="7.5" height="1.5" fill="#0846ff"/>
<rect x="417.51" y="438.4" width="7.5" height="8" fill="#0846ff"/>
<rect x="417.51" y="446.4" width="7.5" height="8" fill="#0846ff"/>
<rect x="417.51" y="454.4" width="7.5" height="1" fill="#0846ff"/>
<rect x="417.51" y="458.4" width="7.5" height="3" fill="#0846ff"/>
<rect x="417.51" y="462.9" width="7.5" height="3" fill="#0846ff"/>
<rect x="417.51" y="468.9" width="7.5" height="5" fill="#0846ff"/>
<rect x="417.51" y="477.9" width="7.5" height="2" fill="#0846ff"/>
<rect x="417.51" y="483.9" width="7.5" height="4" fill="#0846ff"/>
<rect x="417.51" y="497.9" width="7.5" height="5" fill="#0846ff"/>
<rect x="417.51" y="510.9" width="7.5" height="4" fill="#0846ff"/>
<rect x="417.51" y="516.9" width="7.5" height="5" fill="#0846ff"/>
<rect x="417.51" y="524.9" width="7.5" height="5" fill="#0846ff"/>
<rect x="417.51" y="535.9" width="7.5" height="6" fill="#0846ff"/>
<rect x="417.51" y="551.9" width="7.5" height="3" fill="#0846ff"/>
<rect x="417.51" y="556.9" width="7.5" height="1" fill="#0846ff"/>
<rect x="425.8" y="404.5" width="8.9" height="188" fill="#fdfdfa"/>
<rect x="426.5" y="405.1" width="7.5" height="186.8" fill="#089de4"/>
<rect x="426.5" y="405.1" width="7.5" height="3" fill="#0846ff"/>
<rect x="426.5" y="408.1" width="7.5" height="2" fill="#0846ff"/>
<rect x="426.5" y="423.1" width="7.5" height="3" fill="#0846ff"/>
<rect x="426.5" y="431.1" width="7.5" height="2" fill="#0846ff"/>
<rect x="426.5" y="436.1" width="7.5" height="1.5" fill="#0846ff"/>
<rect x="426.5" y="437.6" width="7.5" height="2" fill="#0846ff"/>
<rect x="426.5" y="439.6" width="7.5" height="10" fill="#0846ff"/>
<rect x="426.5" y="450.6" width="7.5" height="3" fill="#0846ff"/>
<rect x="426.5" y="453.6" width="7.5" height="1" fill="#0846ff"/>
<rect x="426.5" y="457.6" width="7.5" height="3" fill="#0846ff"/>
<rect x="426.5" y="468.6" width="7.5" height="1" fill="#0846ff"/>
<rect x="426.5" y="475.6" width="7.5" height="4" fill="#0846ff"/>
<rect x="426.5" y="482.6" width="7.5" height="4" fill="#0846ff"/>
<rect x="426.5" y="487.6" width="7.5" height="4" fill="#0846ff"/>
<rect x="426.5" y="492.6" width="7.5" height="10" fill="#0846ff"/>
<rect x="426.5" y="507.6" width="7.5" height="8" fill="#0846ff"/>
<rect x="426.5" y="518.6" width="7.5" height="4" fill="#0846ff"/>
<rect x="426.5" y="524.6" width="7.5" height="6" fill="#0846ff"/>
<rect x="426.5" y="531.6" width="7.5" height="2" fill="#0846ff"/>
<rect x="426.5" y="534.6" width="7.5" height="2" fill="#0846ff"/>
<rect x="426.5" y="545.6" width="7.5" height="3" fill="#0846ff"/>
<rect x="426.5" y="552.6" width="7.5" height="2" fill="#0846ff"/>
<rect x="426.5" y="555.6" width="7.5" height="5" fill="#0846ff"/>
<rect x="426.5" y="562.6" width="7.5" height="3" fill="#0846ff"/>
<rect x="426.5" y="567.6" width="7.5" height="5" fill="#0846ff"/>
<rect x="426.5" y="572.6" width="7.5" height="8" fill="#0846ff"/>
<rect x="426.5" y="582.6" width="7.5" height="3" fill="#0846ff"/>
<rect x="426.5" y="590.6" width="7.5" height="1.3" fill="#0846ff"/>
<rect x="434.78" y="362.4" width="8.9" height="225.9" fill="#fdfdfa"/>
<rect x="435.48" y="363" width="7.5" height="224.7" fill="#089de4"/>
<rect x="435.48" y="363" width="7.5" height="8" fill="#0846ff"/>
<rect x="435.48" y="375" width="7.5" height="10" fill="#0846ff"/>
<rect x="435.48" y="391" width="7.5" height="10" fill="#0846ff"/>
<rect x="435.48" y="402" width="7.5" height="1" fill="#0846ff"/>
<rect x="435.48" y="409" width="7.5" height="2" fill="#0846ff"/>
<rect x="435.48" y="413" width="7.5" height="2" fill="#0846ff"/>
<rect x="435.48" y="421" width="7.5" height="3" fill="#0846ff"/>
<rect x="435.48" y="424" width="7.5" height="4" fill="#0846ff"/>
<rect x="435.48" y="430" width="7.5" height="3" fill="#0846ff"/>
<rect x="435.48" y="433" width="7.5" height="1" fill="#0846ff"/>
<rect x="435.48" y="435" width="7.5" height="4" fill="#0846ff"/>
<rect x="435.48" y="449" width="7.5" height="1.5" fill="#0846ff"/>
<rect x="435.48" y="458.5" width="7.5" height="10" fill="#0846ff"/>
<rect x="435.48" y="470.5" width="7.5" height="1.5" fill="#0846ff"/>
<rect x="435.48" y="482" width="7.5" height="1" fill="#0846ff"/>
<rect x="435.48" y="485" width="7.5" height="1" fill="#0846ff"/>
<rect x="435.48" y="494" width="7.5" height="10" fill="#0846ff"/>
<rect x="435.48" y="504" width="7.5" height="8" fill="#0846ff"/>
<rect x="435.48" y="514.5" width="7.5" height="4" fill="#0846ff"/>
<rect x="435.48" y="523.5" width="7.5" height="10" fill="#0846ff"/>
<rect x="435.48" y="535.5" width="7.5" height="2" fill="#0846ff"/>
<rect x="435.48" y="551.5" width="7.5" height="8" fill="#0846ff"/>
<rect x="435.48" y="567.5" width="7.5" height="1" fill="#0846ff"/>
<rect x="435.48" y="570" width="7.5" height="3" fill="#0846ff"/>
<rect x="435.48" y="576" width="7.5" height="3" fill="#0846ff"/>
<rect x="435.48" y="586" width="7.5" height="1.7" fill="#0846ff"/>
<rect x="443.77" y="403.3" width="8.9" height="225.8" fill="#fdfdfa"/>
<rect x="444.47" y="403.9" width="7.5" height="224.6" fill="#089de4"/>
<rect x="444.47" y="403.9" width="7.5" height="4" fill="#0846ff"/>
<rect x="444.47" y="407.9" width="7.5" height="1" fill="#0846ff"/>
<rect x="444.47" y="416.9" width="7.5" height="1" fill="#0846ff"/>
<rect x="444.47" y="421.9" width="7.5" height="2" fill="#0846ff"/>
<rect x="444.47" y="425.9" width="7.5" height="6" fill="#0846ff"/>
<rect x="444.47" y="432.9" width="7.5" height="1.5" fill="#0846ff"/>
<rect x="444.47" y="435.4" width="7.5" height="3" fill="#0846ff"/>
<rect x="444.47" y="440.4" width="7.5" height="3" fill="#0846ff"/>
<rect x="444.47" y="445.4" width="7.5" height="10" fill="#0846ff"/>
<rect x="444.47" y="456.4" width="7.5" height="1" fill="#0846ff"/>
<rect x="444.47" y="463.4" width="7.5" height="1" fill="#0846ff"/>
<rect x="444.47" y="469.4" width="7.5" height="3" fill="#0846ff"/>
<rect x="444.47" y="473.9" width="7.5" height="3" fill="#0846ff"/>
<rect x="444.47" y="486.9" width="7.5" height="1.5" fill="#0846ff"/>
<rect x="444.47" y="499.4" width="7.5" height="8" fill="#0846ff"/>
<rect x="444.47" y="507.4" width="7.5" height="4" fill="#0846ff"/>
<rect x="444.47" y="513.4" width="7.5" height="2" fill="#0846ff"/>
<rect x="444.47" y="519.4" width="7.5" height="5" fill="#0846ff"/>
<rect x="444.47" y="528.4" width="7.5" height="6" fill="#0846ff"/>
<rect x="444.47" y="539.4" width="7.5" height="2" fill="#0846ff"/>
<rect x="444.47" y="546.4" width="7.5" height="1.5" fill="#0846ff"/>
<rect x="444.47" y="547.9" width="7.5" height="10" fill="#0846ff"/>
<rect x="444.47" y="557.9" width="7.5" height="5" fill="#0846ff"/>
<rect x="444.47" y="563.9" width="7.5" height="1" fill="#0846ff"/>
<rect x="444.47" y="574.9" width="7.5" height="10" fill="#0846ff"/>
<rect x="444.47" y="585.9" width="7.5" height="1.5" fill="#0846ff"/>
<rect x="444.47" y="588.4" width="7.5" height="6" fill="#0846ff"/>
<rect x="444.47" y="596.4" width="7.5" height="1" fill="#0846ff"/>
<rect x="444.47" y="603.4" width="7.5" height="2" fill="#0846ff"/>
<rect x="444.47" y="610.4" width="7.5" height="1" fill="#0846ff"/>
<rect x="444.47" y="612.4" width="7.5" height="1" fill="#0846ff"/>
<rect x="444.47" y="619.4" width="7.5" height="1.5" fill="#0846ff"/>
<rect x="444.47" y="623.9" width="7.5" height="4" fill="#0846ff"/>
<rect x="452.76" y="325.9" width="8.9" height="225.9" fill="#fdfdfa"/>
<rect x="453.46" y="326.5" width="7.5" height="224.7" fill="#089de4"/>
<rect x="453.46" y="329.5" width="7.5" height="1" fill="#0846ff"/>
<rect x="453.46" y="332.5" width="7.5" height="5" fill="#0846ff"/>
<rect x="453.46" y="339" width="7.5" height="1.5" fill="#0846ff"/>
<rect x="453.46" y="342.5" width="7.5" height="10" fill="#0846ff"/>
<rect x="453.46" y="352.5" width="7.5" height="1" fill="#0846ff"/>
<rect x="453.46" y="357.5" width="7.5" height="5" fill="#0846ff"/>
<rect x="453.46" y="363.5" width="7.5" height="8" fill="#0846ff"/>
<rect x="453.46" y="379.5" width="7.5" height="3" fill="#0846ff"/>
<rect x="453.46" y="383.5" width="7.5" height="3" fill="#0846ff"/>
<rect x="453.46" y="390.5" width="7.5" height="10" fill="#0846ff"/>
<rect x="453.46" y="402.5" width="7.5" height="2" fill="#0846ff"/>
<rect x="453.46" y="404.5" width="7.5" height="10" fill="#0846ff"/>
<rect x="453.46" y="422.5" width="7.5" height="3" fill="#0846ff"/>
<rect x="453.46" y="433.5" width="7.5" height="5" fill="#0846ff"/>
<rect x="453.46" y="444.5" width="7.5" height="8" fill="#0846ff"/>
<rect x="453.46" y="454.5" width="7.5" height="2" fill="#0846ff"/>
<rect x="453.46" y="462.5" width="7.5" height="2" fill="#0846ff"/>
<rect x="453.46" y="464.5" width="7.5" height="6" fill="#0846ff"/>
<rect x="453.46" y="470.5" width="7.5" height="8" fill="#0846ff"/>
<rect x="453.46" y="478.5" width="7.5" height="1" fill="#0846ff"/>
<rect x="453.46" y="482.5" width="7.5" height="8" fill="#0846ff"/>
<rect x="453.46" y="493.5" width="7.5" height="3" fill="#0846ff"/>
<rect x="453.46" y="496.5" width="7.5" height="2" fill="#0846ff"/>
<rect x="453.46" y="501.5" width="7.5" height="3" fill="#0846ff"/>
<rect x="453.46" y="505.5" width="7.5" height="6" fill="#0846ff"/>
<rect x="453.46" y="516.5" width="7.5" height="6" fill="#0846ff"/>
<rect x="453.46" y="524" width="7.5" height="2" fill="#0846ff"/>
<rect x="453.46" y="529" width="7.5" height="6" fill="#0846ff"/>
<rect x="453.46" y="538" width="7.5" height="2" fill="#0846ff"/>
<rect x="453.46" y="544" width="7.5" height="5" fill="#0846ff"/>
<rect x="453.46" y="550" width="7.5" height="1.2" fill="#0846ff"/>
<rect x="461.75" y="366.6" width="8.9" height="226.3" fill="#fdfdfa"/>
<rect x="462.44" y="367.2" width="7.5" height="225.1" fill="#089de4"/>
<rect x="462.44" y="368.7" width="7.5" height="3" fill="#0846ff"/>
<rect x="462.44" y="371.7" width="7.5" height="3" fill="#0846ff"/>
<rect x="462.44" y="386.7" width="7.5" height="3" fill="#0846ff"/>
<rect x="462.44" y="389.7" width="7.5" height="5" fill="#0846ff"/>
<rect x="462.44" y="400.7" width="7.5" height="1.5" fill="#0846ff"/>
<rect x="462.44" y="403.2" width="7.5" height="1.5" fill="#0846ff"/>
<rect x="462.44" y="406.7" width="7.5" height="8" fill="#0846ff"/>
<rect x="462.44" y="417.7" width="7.5" height="5" fill="#0846ff"/>
<rect x="462.44" y="427.7" width="7.5" height="1.5" fill="#0846ff"/>
<rect x="462.44" y="429.2" width="7.5" height="2" fill="#0846ff"/>
<rect x="462.44" y="432.2" width="7.5" height="3" fill="#0846ff"/>
<rect x="462.44" y="437.2" width="7.5" height="8" fill="#0846ff"/>
<rect x="462.44" y="453.2" width="7.5" height="5" fill="#0846ff"/>
<rect x="462.44" y="463.2" width="7.5" height="10" fill="#0846ff"/>
<rect x="462.44" y="473.2" width="7.5" height="1" fill="#0846ff"/>
<rect x="462.44" y="474.2" width="7.5" height="8" fill="#0846ff"/>
<rect x="462.44" y="485.2" width="7.5" height="5" fill="#0846ff"/>
<rect x="462.44" y="490.2" width="7.5" height="10" fill="#0846ff"/>
<rect x="462.44" y="504.2" width="7.5" height="3" fill="#0846ff"/>
<rect x="462.44" y="510.2" width="7.5" height="6" fill="#0846ff"/>
<rect x="462.44" y="516.2" width="7.5" height="5" fill="#0846ff"/>
<rect x="462.44" y="524.2" width="7.5" height="6" fill="#0846ff"/>
<rect x="462.44" y="532.2" width="7.5" height="2" fill="#0846ff"/>
<rect x="462.44" y="539.2" width="7.5" height="5" fill="#0846ff"/>
<rect x="462.44" y="544.2" width="7.5" height="8" fill="#0846ff"/>
<rect x="462.44" y="560.2" width="7.5" height="4" fill="#0846ff"/>
<rect x="462.44" y="564.2" width="7.5" height="10" fill="#0846ff"/>
<rect x="462.44" y="576.2" width="7.5" height="6" fill="#0846ff"/>
<rect x="462.44" y="583.2" width="7.5" height="3" fill="#0846ff"/>
<rect x="462.44" y="586.2" width="7.5" height="2" fill="#0846ff"/>
<rect x="462.44" y="589.2" width="7.5" height="3.1" fill="#0846ff"/>
<rect x="470.73" y="362.4" width="8.9" height="187.9" fill="#fdfdfa"/>
<rect x="471.43" y="363" width="7.5" height="186.7" fill="#089de4"/>
<rect x="471.43" y="364" width="7.5" height="3" fill="#0846ff"/>
<rect x="471.43" y="371.5" width="7.5" height="4" fill="#0846ff"/>
<rect x="471.43" y="381.5" width="7.5" height="2" fill="#0846ff"/>
<rect x="471.43" y="386.5" width="7.5" height="4" fill="#0846ff"/>
<rect x="471.43" y="398.5" width="7.5" height="3" fill="#0846ff"/>
<rect x="471.43" y="404.5" width="7.5" height="2" fill="#0846ff"/>
<rect x="471.43" y="410.5" width="7.5" height="8" fill="#0846ff"/>
<rect x="471.43" y="419.5" width="7.5" height="3" fill="#0846ff"/>
<rect x="471.43" y="425.5" width="7.5" height="2" fill="#0846ff"/>
<rect x="471.43" y="427.5" width="7.5" height="1" fill="#0846ff"/>
<rect x="471.43" y="429.5" width="7.5" height="10" fill="#0846ff"/>
<rect x="471.43" y="442.5" width="7.5" height="3" fill="#0846ff"/>
<rect x="471.43" y="452.5" width="7.5" height="6" fill="#0846ff"/>
<rect x="471.43" y="461.5" width="7.5" height="10" fill="#0846ff"/>
<rect x="471.43" y="473.5" width="7.5" height="1.5" fill="#0846ff"/>
<rect x="471.43" y="475" width="7.5" height="8" fill="#0846ff"/>
<rect x="471.43" y="484" width="7.5" height="3" fill="#0846ff"/>
<rect x="471.43" y="497" width="7.5" height="3" fill="#0846ff"/>
<rect x="471.43" y="503" width="7.5" height="1.5" fill="#0846ff"/>
<rect x="471.43" y="506" width="7.5" height="5" fill="#0846ff"/>
<rect x="471.43" y="513" width="7.5" height="3" fill="#0846ff"/>
<rect x="471.43" y="519" width="7.5" height="1" fill="#0846ff"/>
<rect x="471.43" y="520" width="7.5" height="8" fill="#0846ff"/>
<rect x="471.43" y="531" width="7.5" height="6" fill="#0846ff"/>
<rect x="471.43" y="545" width="7.5" height="1.5" fill="#0846ff"/>
<rect x="479.72" y="393.1" width="8.9" height="157.6" fill="#fdfdfa"/>
<rect x="480.42" y="393.7" width="7.5" height="156.4" fill="#089de4"/>
<rect x="480.42" y="393.7" width="7.5" height="1" fill="#0846ff"/>
<rect x="480.42" y="394.7" width="7.5" height="1" fill="#0846ff"/>
<rect x="480.42" y="403.7" width="7.5" height="2" fill="#0846ff"/>
<rect x="480.42" y="418.7" width="7.5" height="2" fill="#0846ff"/>
<rect x="480.42" y="426.7" width="7.5" height="5" fill="#0846ff"/>
<rect x="480.42" y="435.7" width="7.5" height="8" fill="#0846ff"/>
<rect x="480.42" y="444.7" width="7.5" height="10" fill="#0846ff"/>
<rect x="480.42" y="455.7" width="7.5" height="3" fill="#0846ff"/>
<rect x="480.42" y="462.7" width="7.5" height="1.5" fill="#0846ff"/>
<rect x="480.42" y="469.2" width="7.5" height="4" fill="#0846ff"/>
<rect x="480.42" y="479.2" width="7.5" height="1" fill="#0846ff"/>
<rect x="480.42" y="484.2" width="7.5" height="2" fill="#0846ff"/>
<rect x="480.42" y="494.2" width="7.5" height="2" fill="#0846ff"/>
<rect x="480.42" y="498.2" width="7.5" height="6" fill="#0846ff"/>
<rect x="480.42" y="505.2" width="7.5" height="1.5" fill="#0846ff"/>
<rect x="480.42" y="511.7" width="7.5" height="3" fill="#0846ff"/>
<rect x="480.42" y="522.7" width="7.5" height="1" fill="#0846ff"/>
<rect x="480.42" y="526.7" width="7.5" height="6" fill="#0846ff"/>
<rect x="480.42" y="541.7" width="7.5" height="5" fill="#0846ff"/>
<rect x="480.42" y="548.7" width="7.5" height="1.4" fill="#0846ff"/>
<rect x="488.71" y="368.5" width="8.9" height="165.5" fill="#fdfdfa"/>
<rect x="489.41" y="369.1" width="7.5" height="164.3" fill="#089de4"/>
<rect x="489.41" y="369.1" width="7.5" height="8" fill="#0846ff"/>
<rect x="489.41" y="377.1" width="7.5" height="6" fill="#0846ff"/>
<rect x="489.41" y="386.1" width="7.5" height="1" fill="#0846ff"/>
<rect x="489.41" y="389.1" width="7.5" height="1" fill="#0846ff"/>
<rect x="489.41" y="395.1" width="7.5" height="2" fill="#0846ff"/>
<rect x="489.41" y="407.1" width="7.5" height="2" fill="#0846ff"/>
<rect x="489.41" y="419.1" width="7.5" height="2" fill="#0846ff"/>
<rect x="489.41" y="432.1" width="7.5" height="1" fill="#0846ff"/>
<rect x="489.41" y="435.1" width="7.5" height="8" fill="#0846ff"/>
<rect x="489.41" y="451.1" width="7.5" height="5" fill="#0846ff"/>
<rect x="489.41" y="457.6" width="7.5" height="3" fill="#0846ff"/>
<rect x="489.41" y="460.6" width="7.5" height="2" fill="#0846ff"/>
<rect x="489.41" y="472.6" width="7.5" height="3" fill="#0846ff"/>
<rect x="489.41" y="476.6" width="7.5" height="4" fill="#0846ff"/>
<rect x="489.41" y="483.6" width="7.5" height="1.5" fill="#0846ff"/>
<rect x="489.41" y="489.1" width="7.5" height="1" fill="#0846ff"/>
<rect x="489.41" y="490.1" width="7.5" height="3" fill="#0846ff"/>
<rect x="489.41" y="494.6" width="7.5" height="5" fill="#0846ff"/>
<rect x="489.41" y="504.6" width="7.5" height="3" fill="#0846ff"/>
<rect x="489.41" y="510.6" width="7.5" height="5" fill="#0846ff"/>
<rect x="489.41" y="525.6" width="7.5" height="1.5" fill="#0846ff"/>
<rect x="489.41" y="530.1" width="7.5" height="1" fill="#0846ff"/>
<rect x="497.69" y="369" width="8.9" height="205.1" fill="#fdfdfa"/>
<rect x="498.39" y="369.6" width="7.5" height="203.9" fill="#089de4"/>
<rect x="498.39" y="369.6" width="7.5" height="1" fill="#0846ff"/>
<rect x="498.39" y="371.6" width="7.5" height="1" fill="#0846ff"/>
<rect x="498.39" y="378.6" width="7.5" height="1" fill="#0846ff"/>
<rect x="498.39" y="379.6" width="7.5" height="3" fill="#0846ff"/>
<rect x="498.39" y="386.6" width="7.5" height="8" fill="#0846ff"/>
<rect x="498.39" y="394.6" width="7.5" height="1" fill="#0846ff"/>
<rect x="498.39" y="398.6" width="7.5" height="1" fill="#0846ff"/>
<rect x="498.39" y="405.1" width="7.5" height="6" fill="#0846ff"/>
<rect x="498.39" y="411.1" width="7.5" height="8" fill="#0846ff"/>
<rect x="498.39" y="423.1" width="7.5" height="6" fill="#0846ff"/>
<rect x="498.39" y="431.6" width="7.5" height="8" fill="#0846ff"/>
<rect x="498.39" y="439.6" width="7.5" height="2" fill="#0846ff"/>
<rect x="498.39" y="445.6" width="7.5" height="4" fill="#0846ff"/>
<rect x="498.39" y="456.6" width="7.5" height="10" fill="#0846ff"/>
<rect x="498.39" y="468.6" width="7.5" height="6" fill="#0846ff"/>
<rect x="498.39" y="476.6" width="7.5" height="10" fill="#0846ff"/>
<rect x="498.39" y="488.6" width="7.5" height="2" fill="#0846ff"/>
<rect x="498.39" y="491.6" width="7.5" height="3" fill="#0846ff"/>
<rect x="498.39" y="496.6" width="7.5" height="1" fill="#0846ff"/>
<rect x="498.39" y="497.6" width="7.5" height="8" fill="#0846ff"/>
<rect x="498.39" y="508.6" width="7.5" height="1.5" fill="#0846ff"/>
<rect x="498.39" y="514.1" width="7.5" height="1" fill="#0846ff"/>
<rect x="498.39" y="525.1" width="7.5" height="1.5" fill="#0846ff"/>
<rect x="498.39" y="528.1" width="7.5" height="3" fill="#0846ff"/>
<rect x="498.39" y="535.1" width="7.5" height="1" fill="#0846ff"/>
<rect x="498.39" y="537.1" width="7.5" height="6" fill="#0846ff"/>
<rect x="498.39" y="548.1" width="7.5" height="1" fill="#0846ff"/>
<rect x="498.39" y="555.1" width="7.5" height="3" fill="#0846ff"/>
<rect x="498.39" y="563.1" width="7.5" height="1" fill="#0846ff"/>
<rect x="498.39" y="569.1" width="7.5" height="4" fill="#0846ff"/>
<rect x="506.68" y="365.2" width="8.9" height="182.4" fill="#fdfdfa"/>
<rect x="507.38" y="365.8" width="7.5" height="181.2" fill="#089de4"/>
<rect x="507.38" y="365.8" width="7.5" height="3" fill="#0846ff"/>
<rect x="507.38" y="368.8" width="7.5" height="6" fill="#0846ff"/>
<rect x="507.38" y="374.8" width="7.5" height="5" fill="#0846ff"/>
<rect x="507.38" y="387.8" width="7.5" height="10" fill="#0846ff"/>
<rect x="507.38" y="398.8" width="7.5" height="2" fill="#0846ff"/>
<rect x="507.38" y="402.8" width="7.5" height="6" fill="#0846ff"/>
<rect x="507.38" y="411.8" width="7.5" height="1" fill="#0846ff"/>
<rect x="507.38" y="413.8" width="7.5" height="10" fill="#0846ff"/>
<rect x="507.38" y="425.8" width="7.5" height="4" fill="#0846ff"/>
<rect x="507.38" y="429.8" width="7.5" height="6" fill="#0846ff"/>
<rect x="507.38" y="447.8" width="7.5" height="1" fill="#0846ff"/>
<rect x="507.38" y="448.8" width="7.5" height="1" fill="#0846ff"/>
<rect x="507.38" y="450.8" width="7.5" height="1.5" fill="#0846ff"/>
<rect x="507.38" y="455.3" width="7.5" height="1" fill="#0846ff"/>
<rect x="507.38" y="458.3" width="7.5" height="10" fill="#0846ff"/>
<rect x="507.38" y="470.3" width="7.5" height="1" fill="#0846ff"/>
<rect x="507.38" y="472.3" width="7.5" height="1.5" fill="#0846ff"/>
<rect x="507.38" y="473.8" width="7.5" height="8" fill="#0846ff"/>
<rect x="507.38" y="485.8" width="7.5" height="3" fill="#0846ff"/>
<rect x="507.38" y="490.8" width="7.5" height="5" fill="#0846ff"/>
<rect x="507.38" y="497.8" width="7.5" height="3" fill="#0846ff"/>
<rect x="507.38" y="500.8" width="7.5" height="3" fill="#0846ff"/>
<rect x="507.38" y="506.8" width="7.5" height="1" fill="#0846ff"/>
<rect x="507.38" y="510.8" width="7.5" height="3" fill="#0846ff"/>
<rect x="507.38" y="518.8" width="7.5" height="4" fill="#0846ff"/>
<rect x="507.38" y="527.8" width="7.5" height="8" fill="#0846ff"/>
<rect x="507.38" y="543.8" width="7.5" height="3.2" fill="#0846ff"/>
<rect x="515.67" y="387.5" width="8.9" height="158" fill="#fdfdfa"/>
<rect x="516.37" y="388.1" width="7.5" height="156.8" fill="#089de4"/>
<rect x="516.37" y="388.1" width="7.5" height="2" fill="#0846ff"/>
<rect x="516.37" y="391.1" width="7.5" height="3" fill="#0846ff"/>
<rect x="516.37" y="395.6" width="7.5" height="6" fill="#0846ff"/>
<rect x="516.37" y="413.6" width="7.5" height="2" fill="#0846ff"/>
<rect x="516.37" y="416.6" width="7.5" height="2" fill="#0846ff"/>
<rect x="516.37" y="432.6" width="7.5" height="1.5" fill="#0846ff"/>
<rect x="516.37" y="440.1" width="7.5" height="3" fill="#0846ff"/>
<rect x="516.37" y="444.1" width="7.5" height="5" fill="#0846ff"/>
<rect x="516.37" y="452.1" width="7.5" height="5" fill="#0846ff"/>
<rect x="516.37" y="461.1" width="7.5" height="5" fill="#0846ff"/>
<rect x="516.37" y="472.1" width="7.5" height="1" fill="#0846ff"/>
<rect x="516.37" y="476.1" width="7.5" height="10" fill="#0846ff"/>
<rect x="516.37" y="500.1" width="7.5" height="2" fill="#0846ff"/>
<rect x="516.37" y="504.1" width="7.5" height="2" fill="#0846ff"/>
<rect x="516.37" y="514.1" width="7.5" height="6" fill="#0846ff"/>
<rect x="516.37" y="522.1" width="7.5" height="1" fill="#0846ff"/>
<rect x="516.37" y="531.1" width="7.5" height="2" fill="#0846ff"/>
<rect x="516.37" y="534.6" width="7.5" height="4" fill="#0846ff"/>
<rect x="516.37" y="539.6" width="7.5" height="5.3" fill="#0846ff"/>
<rect x="524.65" y="371.8" width="8.9" height="225.9" fill="#fdfdfa"/>
<rect x="525.35" y="372.4" width="7.5" height="224.7" fill="#089de4"/>
<rect x="525.35" y="373.4" width="7.5" height="1" fill="#0846ff"/>
<rect x="525.35" y="378.9" width="7.5" height="10" fill="#0846ff"/>
<rect x="525.35" y="391.9" width="7.5" height="2" fill="#0846ff"/>
<rect x="525.35" y="395.4" width="7.5" height="1" fill="#0846ff"/>
<rect x="525.35" y="396.4" width="7.5" height="1.5" fill="#0846ff"/>
<rect x="525.35" y="401.9" width="7.5" height="2" fill="#0846ff"/>
<rect x="525.35" y="403.9" width="7.5" height="3" fill="#0846ff"/>
<rect x="525.35" y="406.9" width="7.5" height="2" fill="#0846ff"/>
<rect x="525.35" y="412.9" width="7.5" height="1" fill="#0846ff"/>
<rect x="525.35" y="421.9" width="7.5" height="3" fill="#0846ff"/>
<rect x="525.35" y="425.9" width="7.5" height="4" fill="#0846ff"/>
<rect x="525.35" y="433.9" width="7.5" height="4" fill="#0846ff"/>
<rect x="525.35" y="438.9" width="7.5" height="1.5" fill="#0846ff"/>
<rect x="525.35" y="440.4" width="7.5" height="3" fill="#0846ff"/>
<rect x="525.35" y="444.4" width="7.5" height="2" fill="#0846ff"/>
<rect x="525.35" y="450.4" width="7.5" height="3" fill="#0846ff"/>
<rect x="525.35" y="454.4" width="7.5" height="4" fill="#0846ff"/>
<rect x="525.35" y="464.4" width="7.5" height="3" fill="#0846ff"/>
<rect x="525.35" y="470.4" width="7.5" height="2" fill="#0846ff"/>
<rect x="525.35" y="479.4" width="7.5" height="4" fill="#0846ff"/>
<rect x="525.35" y="487.4" width="7.5" height="1.5" fill="#0846ff"/>
<rect x="525.35" y="492.9" width="7.5" height="1" fill="#0846ff"/>
<rect x="525.35" y="501.9" width="7.5" height="1" fill="#0846ff"/>
<rect x="525.35" y="506.9" width="7.5" height="1.5" fill="#0846ff"/>
<rect x="525.35" y="516.4" width="7.5" height="5" fill="#0846ff"/>
<rect x="525.35" y="521.4" width="7.5" height="8" fill="#0846ff"/>
<rect x="525.35" y="539.4" width="7.5" height="8" fill="#0846ff"/>
<rect x="525.35" y="551.4" width="7.5" height="1.5" fill="#0846ff"/>
<rect x="525.35" y="554.4" width="7.5" height="3" fill="#0846ff"/>
<rect x="525.35" y="560.4" width="7.5" height="8" fill="#0846ff"/>
<rect x="525.35" y="570.4" width="7.5" height="4" fill="#0846ff"/>
<rect x="525.35" y="574.4" width="7.5" height="1" fill="#0846ff"/>
<rect x="525.35" y="576.4" width="7.5" height="1.5" fill="#0846ff"/>
<rect x="525.35" y="579.9" width="7.5" height="6" fill="#0846ff"/>
<rect x="525.35" y="586.9" width="7.5" height="8" fill="#0846ff"/>
<rect x="533.64" y="374.7" width="8.9" height="165.6" fill="#fdfdfa"/>
<rect x="534.34" y="375.3" width="7.5" height="164.4" fill="#089de4"/>
<rect x="534.34" y="375.3" width="7.5" height="4" fill="#0846ff"/>
<rect x="534.34" y="389.3" width="7.5" height="2" fill="#0846ff"/>
<rect x="534.34" y="393.3" width="7.5" height="4" fill="#0846ff"/>
<rect x="534.34" y="401.3" width="7.5" height="3" fill="#0846ff"/>
<rect x="534.34" y="405.8" width="7.5" height="8" fill="#0846ff"/>
<rect x="534.34" y="419.8" width="7.5" height="1.5" fill="#0846ff"/>
<rect x="534.34" y="422.3" width="7.5" height="2" fill="#0846ff"/>
<rect x="534.34" y="428.3" width="7.5" height="10" fill="#0846ff"/>
<rect x="534.34" y="440.3" width="7.5" height="1" fill="#0846ff"/>
<rect x="534.34" y="444.3" width="7.5" height="1.5" fill="#0846ff"/>
<rect x="534.34" y="445.8" width="7.5" height="1.5" fill="#0846ff"/>
<rect x="534.34" y="448.3" width="7.5" height="3" fill="#0846ff"/>
<rect x="534.34" y="457.3" width="7.5" height="3" fill="#0846ff"/>
<rect x="534.34" y="466.3" width="7.5" height="1.5" fill="#0846ff"/>
<rect x="534.34" y="467.8" width="7.5" height="2" fill="#0846ff"/>
<rect x="534.34" y="469.8" width="7.5" height="10" fill="#0846ff"/>
<rect x="534.34" y="480.8" width="7.5" height="1" fill="#0846ff"/>
<rect x="534.34" y="481.8" width="7.5" height="2" fill="#0846ff"/>
<rect x="534.34" y="488.3" width="7.5" height="3" fill="#0846ff"/>
<rect x="534.34" y="499.3" width="7.5" height="5" fill="#0846ff"/>
<rect x="534.34" y="508.3" width="7.5" height="8" fill="#0846ff"/>
<rect x="534.34" y="524.3" width="7.5" height="5" fill="#0846ff"/>
<rect x="534.34" y="529.3" width="7.5" height="2" fill="#0846ff"/>
<rect x="542.63" y="374.7" width="8.9" height="184.4" fill="#fdfdfa"/>
<rect x="543.33" y="375.3" width="7.5" height="183.2" fill="#089de4"/>
<rect x="543.33" y="377.3" width="7.5" height="3" fill="#0846ff"/>
<rect x="543.33" y="385.3" width="7.5" height="1" fill="#0846ff"/>
<rect x="543.33" y="387.3" width="7.5" height="4" fill="#0846ff"/>
<rect x="543.33" y="394.3" width="7.5" height="1" fill="#0846ff"/>
<rect x="543.33" y="398.3" width="7.5" height="10" fill="#0846ff"/>
<rect x="543.33" y="408.3" width="7.5" height="1.5" fill="#0846ff"/>
<rect x="543.33" y="412.8" width="7.5" height="2" fill="#0846ff"/>
<rect x="543.33" y="414.8" width="7.5" height="1" fill="#0846ff"/>
<rect x="543.33" y="415.8" width="7.5" height="2" fill="#0846ff"/>
<rect x="543.33" y="430.8" width="7.5" height="10" fill="#0846ff"/>
<rect x="543.33" y="443.8" width="7.5" height="3" fill="#0846ff"/>
<rect x="543.33" y="448.8" width="7.5" height="2" fill="#0846ff"/>
<rect x="543.33" y="455.8" width="7.5" height="3" fill="#0846ff"/>
<rect x="543.33" y="466.8" width="7.5" height="6" fill="#0846ff"/>
<rect x="543.33" y="475.8" width="7.5" height="3" fill="#0846ff"/>
<rect x="543.33" y="481.8" width="7.5" height="4" fill="#0846ff"/>
<rect x="543.33" y="493.8" width="7.5" height="1.5" fill="#0846ff"/>
<rect x="543.33" y="498.3" width="7.5" height="8" fill="#0846ff"/>
<rect x="543.33" y="508.3" width="7.5" height="2" fill="#0846ff"/>
<rect x="543.33" y="512.3" width="7.5" height="1.5" fill="#0846ff"/>
<rect x="543.33" y="519.8" width="7.5" height="8" fill="#0846ff"/>
<rect x="543.33" y="527.8" width="7.5" height="6" fill="#0846ff"/>
<rect x="543.33" y="534.8" width="7.5" height="3" fill="#0846ff"/>
<rect x="543.33" y="539.8" width="7.5" height="1" fill="#0846ff"/>
<rect x="543.33" y="541.8" width="7.5" height="1" fill="#0846ff"/>
<rect x="543.33" y="544.3" width="7.5" height="10" fill="#0846ff"/>
<rect x="543.33" y="556.3" width="7.5" height="1" fill="#0846ff"/>
<rect x="551.62" y="382.7" width="8.9" height="186.8" fill="#fdfdfa"/>
<rect x="552.32" y="383.3" width="7.5" height="185.6" fill="#089de4"/>
<rect x="552.32" y="383.3" width="7.5" height="3" fill="#0846ff"/>
<rect x="552.32" y="389.3" width="7.5" height="2" fill="#0846ff"/>
<rect x="552.32" y="392.3" width="7.5" height="2" fill="#0846ff"/>
<rect x="552.32" y="400.3" width="7.5" height="2" fill="#0846ff"/>
<rect x="552.32" y="412.3" width="7.5" height="5" fill="#0846ff"/>
<rect x="552.32" y="419.3" width="7.5" height="5" fill="#0846ff"/>
<rect x="552.32" y="425.8" width="7.5" height="3" fill="#0846ff"/>
<rect x="552.32" y="438.8" width="7.5" height="2" fill="#0846ff"/>
<rect x="552.32" y="444.8" width="7.5" height="6" fill="#0846ff"/>
<rect x="552.32" y="460.8" width="7.5" height="4" fill="#0846ff"/>
<rect x="552.32" y="466.8" width="7.5" height="8" fill="#0846ff"/>
<rect x="552.32" y="477.8" width="7.5" height="2" fill="#0846ff"/>
<rect x="552.32" y="479.8" width="7.5" height="2" fill="#0846ff"/>
<rect x="552.32" y="489.8" width="7.5" height="2" fill="#0846ff"/>
<rect x="552.32" y="496.8" width="7.5" height="10" fill="#0846ff"/>
<rect x="552.32" y="508.8" width="7.5" height="2" fill="#0846ff"/>
<rect x="552.32" y="512.8" width="7.5" height="10" fill="#0846ff"/>
<rect x="552.32" y="536.3" width="7.5" height="2" fill="#0846ff"/>
<rect x="552.32" y="541.3" width="7.5" height="10" fill="#0846ff"/>
<rect x="552.32" y="561.3" width="7.5" height="2" fill="#0846ff"/>
<rect x="552.32" y="568.3" width="7.5" height="0.6" fill="#0846ff"/>
<rect x="560.6" y="369" width="8.9" height="263.6" fill="#fdfdfa"/>
<rect x="561.3" y="369.6" width="7.5" height="262.4" fill="#089de4"/>
<rect x="561.3" y="369.6" width="7.5" height="2" fill="#0846ff"/>
<rect x="561.3" y="376.6" width="7.5" height="1.5" fill="#0846ff"/>
<rect x="561.3" y="378.1" width="7.5" height="2" fill="#0846ff"/>
<rect x="561.3" y="382.1" width="7.5" height="5" fill="#0846ff"/>
<rect x="561.3" y="390.1" width="7.5" height="4" fill="#0846ff"/>
<rect x="561.3" y="395.1" width="7.5" height="1" fill="#0846ff"/>
<rect x="561.3" y="399.1" width="7.5" height="2" fill="#0846ff"/>
<rect x="561.3" y="406.1" width="7.5" height="3" fill="#0846ff"/>
<rect x="561.3" y="409.1" width="7.5" height="10" fill="#0846ff"/>
<rect x="561.3" y="429.1" width="7.5" height="4" fill="#0846ff"/>
<rect x="561.3" y="449.1" width="7.5" height="4" fill="#0846ff"/>
<rect x="561.3" y="455.1" width="7.5" height="5" fill="#0846ff"/>
<rect x="561.3" y="464.1" width="7.5" height="1" fill="#0846ff"/>
<rect x="561.3" y="474.1" width="7.5" height="3" fill="#0846ff"/>
<rect x="561.3" y="478.6" width="7.5" height="1" fill="#0846ff"/>
<rect x="561.3" y="489.6" width="7.5" height="2" fill="#0846ff"/>
<rect x="561.3" y="491.6" width="7.5" height="8" fill="#0846ff"/>
<rect x="561.3" y="500.6" width="7.5" height="3" fill="#0846ff"/>
<rect x="561.3" y="508.6" width="7.5" height="3" fill="#0846ff"/>
<rect x="561.3" y="513.1" width="7.5" height="3" fill="#0846ff"/>
<rect x="561.3" y="519.1" width="7.5" height="2" fill="#0846ff"/>
<rect x="561.3" y="526.1" width="7.5" height="2" fill="#0846ff"/>
<rect x="561.3" y="528.1" width="7.5" height="10" fill="#0846ff"/>
<rect x="561.3" y="538.1" width="7.5" height="4" fill="#0846ff"/>
<rect x="561.3" y="543.6" width="7.5" height="2" fill="#0846ff"/>
<rect x="561.3" y="548.6" width="7.5" height="10" fill="#0846ff"/>
<rect x="561.3" y="568.6" width="7.5" height="4" fill="#0846ff"/>
<rect x="561.3" y="577.6" width="7.5" height="2" fill="#0846ff"/>
<rect x="561.3" y="584.6" width="7.5" height="10" fill="#0846ff"/>
<rect x="561.3" y="600.6" width="7.5" height="1.5" fill="#0846ff"/>
<rect x="561.3" y="605.1" width="7.5" height="8" fill="#0846ff"/>
<rect x="561.3" y="620.1" width="7.5" height="2" fill="#0846ff"/>
<rect x="561.3" y="626.1" width="7.5" height="3" fill="#0846ff"/>
<rect x="569.59" y="365.7" width="8.9" height="187.1" fill="#fdfdfa"/>
<rect x="570.29" y="366.3" width="7.5" height="185.9" fill="#089de4"/>
<rect x="570.29" y="366.3" width="7.5" height="3" fill="#0846ff"/>
<rect x="570.29" y="371.3" width="7.5" height="8" fill="#0846ff"/>
<rect x="570.29" y="387.3" width="7.5" height="6" fill="#0846ff"/>
<rect x="570.29" y="395.3" width="7.5" height="8" fill="#0846ff"/>
<rect x="570.29" y="413.3" width="7.5" height="1.5" fill="#0846ff"/>
<rect x="570.29" y="416.8" width="7.5" height="3" fill="#0846ff"/>
<rect x="570.29" y="421.8" width="7.5" height="5" fill="#0846ff"/>
<rect x="570.29" y="434.8" width="7.5" height="3" fill="#0846ff"/>
<rect x="570.29" y="437.8" width="7.5" height="1.5" fill="#0846ff"/>
<rect x="570.29" y="455.8" width="7.5" height="1" fill="#0846ff"/>
<rect x="570.29" y="464.8" width="7.5" height="4" fill="#0846ff"/>
<rect x="570.29" y="470.8" width="7.5" height="3" fill="#0846ff"/>
<rect x="570.29" y="474.8" width="7.5" height="1" fill="#0846ff"/>
<rect x="570.29" y="475.8" width="7.5" height="1" fill="#0846ff"/>
<rect x="570.29" y="477.8" width="7.5" height="4" fill="#0846ff"/>
<rect x="570.29" y="491.8" width="7.5" height="4" fill="#0846ff"/>
<rect x="570.29" y="495.8" width="7.5" height="2" fill="#0846ff"/>
<rect x="570.29" y="503.8" width="7.5" height="3" fill="#0846ff"/>
<rect x="570.29" y="508.8" width="7.5" height="3" fill="#0846ff"/>
<rect x="570.29" y="512.8" width="7.5" height="5" fill="#0846ff"/>
<rect x="570.29" y="521.8" width="7.5" height="8" fill="#0846ff"/>
<rect x="570.29" y="531.8" width="7.5" height="3" fill="#0846ff"/>
<rect x="570.29" y="534.8" width="7.5" height="8" fill="#0846ff"/>
<rect x="570.29" y="543.8" width="7.5" height="6" fill="#0846ff"/>
<rect x="578.58" y="367.6" width="8.9" height="200.5" fill="#fdfdfa"/>
<rect x="579.28" y="368.2" width="7.5" height="199.3" fill="#089de4"/>
<rect x="579.28" y="368.2" width="7.5" height="1.5" fill="#0846ff"/>
<rect x="579.28" y="370.7" width="7.5" height="2" fill="#0846ff"/>
<rect x="579.28" y="382.7" width="7.5" height="2" fill="#0846ff"/>
<rect x="579.28" y="390.7" width="7.5" height="2" fill="#0846ff"/>
<rect x="579.28" y="402.7" width="7.5" height="3" fill="#0846ff"/>
<rect x="579.28" y="408.7" width="7.5" height="3" fill="#0846ff"/>
<rect x="579.28" y="413.2" width="7.5" height="5" fill="#0846ff"/>
<rect x="579.28" y="419.7" width="7.5" height="3" fill="#0846ff"/>
<rect x="579.28" y="422.7" width="7.5" height="5" fill="#0846ff"/>
<rect x="579.28" y="427.7" width="7.5" height="1.5" fill="#0846ff"/>
<rect x="579.28" y="437.2" width="7.5" height="1" fill="#0846ff"/>
<rect x="579.28" y="438.2" width="7.5" height="3" fill="#0846ff"/>
<rect x="579.28" y="442.2" width="7.5" height="1" fill="#0846ff"/>
<rect x="579.28" y="443.2" width="7.5" height="10" fill="#0846ff"/>
<rect x="579.28" y="453.2" width="7.5" height="2" fill="#0846ff"/>
<rect x="579.28" y="456.7" width="7.5" height="1.5" fill="#0846ff"/>
<rect x="579.28" y="462.2" width="7.5" height="3" fill="#0846ff"/>
<rect x="579.28" y="475.2" width="7.5" height="2" fill="#0846ff"/>
<rect x="579.28" y="479.2" width="7.5" height="4" fill="#0846ff"/>
<rect x="579.28" y="484.2" width="7.5" height="10" fill="#0846ff"/>
<rect x="579.28" y="496.2" width="7.5" height="2" fill="#0846ff"/>
<rect x="579.28" y="499.7" width="7.5" height="1.5" fill="#0846ff"/>
<rect x="579.28" y="501.2" width="7.5" height="2" fill="#0846ff"/>
<rect x="579.28" y="503.2" width="7.5" height="10" fill="#0846ff"/>
<rect x="579.28" y="523.2" width="7.5" height="6" fill="#0846ff"/>
<rect x="579.28" y="531.2" width="7.5" height="3" fill="#0846ff"/>
<rect x="579.28" y="534.2" width="7.5" height="1" fill="#0846ff"/>
<rect x="579.28" y="536.2" width="7.5" height="1" fill="#0846ff"/>
<rect x="579.28" y="537.2" width="7.5" height="5" fill="#0846ff"/>
<rect x="579.28" y="543.7" width="7.5" height="1.5" fill="#0846ff"/>
<rect x="579.28" y="550.2" width="7.5" height="10" fill="#0846ff"/>
<rect x="579.28" y="562.2" width="7.5" height="3" fill="#0846ff"/>
<rect x="587.56" y="373.2" width="8.9" height="179.6" fill="#fdfdfa"/>
<rect x="588.26" y="373.8" width="7.5" height="178.4" fill="#089de4"/>
<rect x="588.26" y="373.8" width="7.5" height="2" fill="#0846ff"/>
<rect x="588.26" y="377.3" width="7.5" height="3" fill="#0846ff"/>
<rect x="588.26" y="382.3" width="7.5" height="4" fill="#0846ff"/>
<rect x="588.26" y="392.3" width="7.5" height="2" fill="#0846ff"/>
<rect x="588.26" y="396.3" width="7.5" height="5" fill="#0846ff"/>
<rect x="588.26" y="402.8" width="7.5" height="3" fill="#0846ff"/>
<rect x="588.26" y="406.8" width="7.5" height="3" fill="#0846ff"/>
<rect x="588.26" y="412.8" width="7.5" height="10" fill="#0846ff"/>
<rect x="588.26" y="430.8" width="7.5" height="6" fill="#0846ff"/>
<rect x="588.26" y="437.8" width="7.5" height="10" fill="#0846ff"/>
<rect x="588.26" y="452.8" width="7.5" height="8" fill="#0846ff"/>
<rect x="588.26" y="463.8" width="7.5" height="1.5" fill="#0846ff"/>
<rect x="588.26" y="473.3" width="7.5" height="1" fill="#0846ff"/>
<rect x="588.26" y="474.3" width="7.5" height="1.5" fill="#0846ff"/>
<rect x="588.26" y="486.8" width="7.5" height="8" fill="#0846ff"/>
<rect x="588.26" y="496.3" width="7.5" height="3" fill="#0846ff"/>
<rect x="588.26" y="501.3" width="7.5" height="1" fill="#0846ff"/>
<rect x="588.26" y="506.3" width="7.5" height="2" fill="#0846ff"/>
<rect x="588.26" y="509.3" width="7.5" height="5" fill="#0846ff"/>
<rect x="588.26" y="517.3" width="7.5" height="4" fill="#0846ff"/>
<rect x="588.26" y="523.3" width="7.5" height="6" fill="#0846ff"/>
<rect x="588.26" y="531.3" width="7.5" height="3" fill="#0846ff"/>
<rect x="588.26" y="542.3" width="7.5" height="2" fill="#0846ff"/>
<rect x="588.26" y="544.3" width="7.5" height="2" fill="#0846ff"/>
<rect x="588.26" y="550.8" width="7.5" height="1.4" fill="#0846ff"/>
<rect x="596.55" y="379.4" width="8.9" height="179.7" fill="#fdfdfa"/>
<rect x="597.25" y="380" width="7.5" height="178.5" fill="#089de4"/>
<rect x="597.25" y="381.5" width="7.5" height="2" fill="#0846ff"/>
<rect x="597.25" y="386.5" width="7.5" height="10" fill="#0846ff"/>
<rect x="597.25" y="396.5" width="7.5" height="1" fill="#0846ff"/>
<rect x="597.25" y="397.5" width="7.5" height="5" fill="#0846ff"/>
<rect x="597.25" y="403.5" width="7.5" height="1.5" fill="#0846ff"/>
<rect x="597.25" y="407" width="7.5" height="4" fill="#0846ff"/>
<rect x="597.25" y="411" width="7.5" height="3" fill="#0846ff"/>
<rect x="597.25" y="423.5" width="7.5" height="2" fill="#0846ff"/>
<rect x="597.25" y="426.5" width="7.5" height="1" fill="#0846ff"/>
<rect x="597.25" y="437.5" width="7.5" height="1.5" fill="#0846ff"/>
<rect x="597.25" y="440.5" width="7.5" height="2" fill="#0846ff"/>
<rect x="597.25" y="452.5" width="7.5" height="3" fill="#0846ff"/>
<rect x="597.25" y="458.5" width="7.5" height="2" fill="#0846ff"/>
<rect x="597.25" y="473" width="7.5" height="1.5" fill="#0846ff"/>
<rect x="597.25" y="482.5" width="7.5" height="1" fill="#0846ff"/>
<rect x="597.25" y="489.5" width="7.5" height="1" fill="#0846ff"/>
<rect x="597.25" y="495.5" width="7.5" height="6" fill="#0846ff"/>
<rect x="597.25" y="511.5" width="7.5" height="8" fill="#0846ff"/>
<rect x="597.25" y="526" width="7.5" height="4" fill="#0846ff"/>
<rect x="597.25" y="533" width="7.5" height="8" fill="#0846ff"/>
<rect x="597.25" y="551" width="7.5" height="1" fill="#0846ff"/>
<rect x="597.25" y="555" width="7.5" height="3.5" fill="#0846ff"/>
<rect x="605.54" y="369" width="8.9" height="178.6" fill="#fdfdfa"/>
<rect x="606.24" y="369.6" width="7.5" height="177.4" fill="#089de4"/>
<rect x="606.24" y="369.6" width="7.5" height="8" fill="#0846ff"/>
<rect x="606.24" y="387.6" width="7.5" height="3" fill="#0846ff"/>
<rect x="606.24" y="392.6" width="7.5" height="6" fill="#0846ff"/>
<rect x="606.24" y="404.6" width="7.5" height="3" fill="#0846ff"/>
<rect x="606.24" y="412.6" width="7.5" height="6" fill="#0846ff"/>
<rect x="606.24" y="429.6" width="7.5" height="1" fill="#0846ff"/>
<rect x="606.24" y="431.6" width="7.5" height="2" fill="#0846ff"/>
<rect x="606.24" y="436.6" width="7.5" height="1" fill="#0846ff"/>
<rect x="606.24" y="439.1" width="7.5" height="2" fill="#0846ff"/>
<rect x="606.24" y="441.1" width="7.5" height="6" fill="#0846ff"/>
<rect x="606.24" y="447.1" width="7.5" height="4" fill="#0846ff"/>
<rect x="606.24" y="451.1" width="7.5" height="2" fill="#0846ff"/>
<rect x="606.24" y="457.1" width="7.5" height="1" fill="#0846ff"/>
<rect x="606.24" y="468.1" width="7.5" height="1" fill="#0846ff"/>
<rect x="606.24" y="471.1" width="7.5" height="2" fill="#0846ff"/>
<rect x="606.24" y="473.1" width="7.5" height="5" fill="#0846ff"/>
<rect x="606.24" y="478.1" width="7.5" height="3" fill="#0846ff"/>
<rect x="606.24" y="491.1" width="7.5" height="2" fill="#0846ff"/>
<rect x="606.24" y="496.1" width="7.5" height="10" fill="#0846ff"/>
<rect x="606.24" y="507.1" width="7.5" height="1.5" fill="#0846ff"/>
<rect x="606.24" y="510.6" width="7.5" height="5" fill="#0846ff"/>
<rect x="606.24" y="517.1" width="7.5" height="3" fill="#0846ff"/>
<rect x="606.24" y="520.1" width="7.5" height="2" fill="#0846ff"/>
<rect x="606.24" y="523.1" width="7.5" height="1" fill="#0846ff"/>
<rect x="606.24" y="525.1" width="7.5" height="6" fill="#0846ff"/>
<rect x="606.24" y="541.1" width="7.5" height="2" fill="#0846ff"/>
<rect x="614.52" y="383.2" width="8.9" height="199.9" fill="#fdfdfa"/>
<rect x="615.22" y="383.8" width="7.5" height="198.7" fill="#089de4"/>
<rect x="615.22" y="383.8" width="7.5" height="1" fill="#0846ff"/>
<rect x="615.22" y="389.8" width="7.5" height="1.5" fill="#0846ff"/>
<rect x="615.22" y="393.3" width="7.5" height="2" fill="#0846ff"/>
<rect x="615.22" y="396.3" width="7.5" height="6" fill="#0846ff"/>
<rect x="615.22" y="403.3" width="7.5" height="5" fill="#0846ff"/>
<rect x="615.22" y="412.3" width="7.5" height="3" fill="#0846ff"/>
<rect x="615.22" y="415.3" width="7.5" height="3" fill="#0846ff"/>
<rect x="615.22" y="428.3" width="7.5" height="8" fill="#0846ff"/>
<rect x="615.22" y="443.3" width="7.5" height="8" fill="#0846ff"/>
<rect x="615.22" y="454.3" width="7.5" height="1.5" fill="#0846ff"/>
<rect x="615.22" y="455.8" width="7.5" height="4" fill="#0846ff"/>
<rect x="615.22" y="461.8" width="7.5" height="1" fill="#0846ff"/>
<rect x="615.22" y="468.8" width="7.5" height="3" fill="#0846ff"/>
<rect x="615.22" y="471.8" width="7.5" height="3" fill="#0846ff"/>
<rect x="615.22" y="477.3" width="7.5" height="2" fill="#0846ff"/>
<rect x="615.22" y="479.3" width="7.5" height="3" fill="#0846ff"/>
<rect x="615.22" y="483.8" width="7.5" height="1" fill="#0846ff"/>
<rect x="615.22" y="488.8" width="7.5" height="2" fill="#0846ff"/>
<rect x="615.22" y="493.8" width="7.5" height="8" fill="#0846ff"/>
<rect x="615.22" y="513.8" width="7.5" height="8" fill="#0846ff"/>
<rect x="615.22" y="524.8" width="7.5" height="2" fill="#0846ff"/>
<rect x="615.22" y="536.8" width="7.5" height="6" fill="#0846ff"/>
<rect x="615.22" y="543.8" width="7.5" height="1" fill="#0846ff"/>
<rect x="615.22" y="549.8" width="7.5" height="2" fill="#0846ff"/>
<rect x="615.22" y="559.8" width="7.5" height="1" fill="#0846ff"/>
<rect x="615.22" y="560.8" width="7.5" height="8" fill="#0846ff"/>
<rect x="615.22" y="576.8" width="7.5" height="1" fill="#0846ff"/>
<rect x="615.22" y="577.8" width="7.5" height="1" fill="#0846ff"/>
<rect x="615.22" y="578.8" width="7.5" height="3" fill="#0846ff"/>
<rect x="615.22" y="581.8" width="7.5" height="0.7" fill="#0846ff"/>
<rect x="623.51" y="359.5" width="8.9" height="200" fill="#fdfdfa"/>
<rect x="624.21" y="360.1" width="7.5" height="198.8" fill="#089de4"/>
<rect x="624.21" y="360.1" width="7.5" height="10" fill="#0846ff"/>
<rect x="624.21" y="371.6" width="7.5" height="2" fill="#0846ff"/>
<rect x="624.21" y="373.6" width="7.5" height="2" fill="#0846ff"/>
<rect x="624.21" y="376.6" width="7.5" height="10" fill="#0846ff"/>
<rect x="624.21" y="389.6" width="7.5" height="3" fill="#0846ff"/>
<rect x="624.21" y="402.6" width="7.5" height="6" fill="#0846ff"/>
<rect x="624.21" y="411.6" width="7.5" height="10" fill="#0846ff"/>
<rect x="624.21" y="421.6" width="7.5" height="5" fill="#0846ff"/>
<rect x="624.21" y="437.6" width="7.5" height="3" fill="#0846ff"/>
<rect x="624.21" y="450.6" width="7.5" height="1.5" fill="#0846ff"/>
<rect x="624.21" y="455.1" width="7.5" height="1.5" fill="#0846ff"/>
<rect x="624.21" y="458.1" width="7.5" height="6" fill="#0846ff"/>
<rect x="624.21" y="465.1" width="7.5" height="5" fill="#0846ff"/>
<rect x="624.21" y="471.1" width="7.5" height="3" fill="#0846ff"/>
<rect x="624.21" y="475.1" width="7.5" height="2" fill="#0846ff"/>
<rect x="624.21" y="480.1" width="7.5" height="3" fill="#0846ff"/>
<rect x="624.21" y="484.1" width="7.5" height="6" fill="#0846ff"/>
<rect x="624.21" y="493.1" width="7.5" height="1" fill="#0846ff"/>
<rect x="624.21" y="503.1" width="7.5" height="5" fill="#0846ff"/>
<rect x="624.21" y="509.1" width="7.5" height="1.5" fill="#0846ff"/>
<rect x="624.21" y="512.6" width="7.5" height="3" fill="#0846ff"/>
<rect x="624.21" y="518.6" width="7.5" height="3" fill="#0846ff"/>
<rect x="624.21" y="522.6" width="7.5" height="4" fill="#0846ff"/>
<rect x="624.21" y="528.1" width="7.5" height="3" fill="#0846ff"/>
<rect x="624.21" y="532.1" width="7.5" height="3" fill="#0846ff"/>
<rect x="624.21" y="535.1" width="7.5" height="6" fill="#0846ff"/>
<rect x="624.21" y="552.1" width="7.5" height="1.5" fill="#0846ff"/>
<rect x="624.21" y="554.6" width="7.5" height="1" fill="#0846ff"/>
<rect x="624.21" y="556.6" width="7.5" height="2.3" fill="#0846ff"/>
<rect x="632.5" y="371.8" width="8.9" height="192.5" fill="#fdfdfa"/>
<rect x="633.2" y="372.4" width="7.5" height="191.3" fill="#089de4"/>
<rect x="633.2" y="373.9" width="7.5" height="2" fill="#0846ff"/>
<rect x="633.2" y="383.9" width="7.5" height="2" fill="#0846ff"/>
<rect x="633.2" y="385.9" width="7.5" height="1" fill="#0846ff"/>
<rect x="633.2" y="394.9" width="7.5" height="2" fill="#0846ff"/>
<rect x="633.2" y="401.9" width="7.5" height="3" fill="#0846ff"/>
<rect x="633.2" y="406.9" width="7.5" height="3" fill="#0846ff"/>
<rect x="633.2" y="412.9" width="7.5" height="3" fill="#0846ff"/>
<rect x="633.2" y="416.9" width="7.5" height="5" fill="#0846ff"/>
<rect x="633.2" y="424.9" width="7.5" height="8" fill="#0846ff"/>
<rect x="633.2" y="434.9" width="7.5" height="4" fill="#0846ff"/>
<rect x="633.2" y="442.9" width="7.5" height="6" fill="#0846ff"/>
<rect x="633.2" y="452.9" width="7.5" height="1" fill="#0846ff"/>
<rect x="633.2" y="455.4" width="7.5" height="1" fill="#0846ff"/>
<rect x="633.2" y="472.4" width="7.5" height="10" fill="#0846ff"/>
<rect x="633.2" y="483.4" width="7.5" height="3" fill="#0846ff"/>
<rect x="633.2" y="488.4" width="7.5" height="10" fill="#0846ff"/>
<rect x="633.2" y="499.9" width="7.5" height="3" fill="#0846ff"/>
<rect x="633.2" y="504.9" width="7.5" height="4" fill="#0846ff"/>
<rect x="633.2" y="509.9" width="7.5" height="5" fill="#0846ff"/>
<rect x="633.2" y="516.9" width="7.5" height="1.5" fill="#0846ff"/>
<rect x="633.2" y="520.4" width="7.5" height="1" fill="#0846ff"/>
<rect x="633.2" y="522.4" width="7.5" height="1" fill="#0846ff"/>
<rect x="633.2" y="526.4" width="7.5" height="2" fill="#0846ff"/>
<rect x="633.2" y="528.4" width="7.5" height="3" fill="#0846ff"/>
<rect x="633.2" y="541.4" width="7.5" height="6" fill="#0846ff"/>
<rect x="633.2" y="555.4" width="7.5" height="6" fill="#0846ff"/>
<rect x="633.2" y="563.4" width="7.5" height="0.3" fill="#0846ff"/>
<rect x="641.49" y="389.3" width="8.9" height="169.8" fill="#fdfdfa"/>
<rect x="642.19" y="389.9" width="7.5" height="168.6" fill="#089de4"/>
<rect x="642.19" y="389.9" width="7.5" height="3" fill="#0846ff"/>
<rect x="642.19" y="404.9" width="7.5" height="5" fill="#0846ff"/>
<rect x="642.19" y="410.9" width="7.5" height="8" fill="#0846ff"/>
<rect x="642.19" y="419.9" width="7.5" height="2" fill="#0846ff"/>
<rect x="642.19" y="429.9" width="7.5" height="3" fill="#0846ff"/>
<rect x="642.19" y="434.9" width="7.5" height="5" fill="#0846ff"/>
<rect x="642.19" y="444.9" width="7.5" height="3" fill="#0846ff"/>
<rect x="642.19" y="448.9" width="7.5" height="4" fill="#0846ff"/>
<rect x="642.19" y="460.9" width="7.5" height="4" fill="#0846ff"/>
<rect x="642.19" y="464.9" width="7.5" height="10" fill="#0846ff"/>
<rect x="642.19" y="477.9" width="7.5" height="3" fill="#0846ff"/>
<rect x="642.19" y="482.9" width="7.5" height="3" fill="#0846ff"/>
<rect x="642.19" y="493.9" width="7.5" height="3" fill="#0846ff"/>
<rect x="642.19" y="498.9" width="7.5" height="3" fill="#0846ff"/>
<rect x="642.19" y="502.9" width="7.5" height="6" fill="#0846ff"/>
<rect x="642.19" y="518.9" width="7.5" height="2" fill="#0846ff"/>
<rect x="642.19" y="524.9" width="7.5" height="10" fill="#0846ff"/>
<rect x="642.19" y="538.9" width="7.5" height="2" fill="#0846ff"/>
<rect x="642.19" y="544.9" width="7.5" height="1.5" fill="#0846ff"/>
<rect x="642.19" y="546.4" width="7.5" height="3" fill="#0846ff"/>
<rect x="642.19" y="549.4" width="7.5" height="4" fill="#0846ff"/>
<rect x="642.19" y="554.9" width="7.5" height="3.6" fill="#0846ff"/>
<rect x="650.47" y="357.9" width="8.9" height="187" fill="#fdfdfa"/>
<rect x="651.17" y="358.5" width="7.5" height="185.8" fill="#089de4"/>
<rect x="651.17" y="358.5" width="7.5" height="2" fill="#0846ff"/>
<rect x="651.17" y="371.5" width="7.5" height="1.5" fill="#0846ff"/>
<rect x="651.17" y="373" width="7.5" height="3" fill="#0846ff"/>
<rect x="651.17" y="377.5" width="7.5" height="3" fill="#0846ff"/>
<rect x="651.17" y="385.5" width="7.5" height="6" fill="#0846ff"/>
<rect x="651.17" y="391.5" width="7.5" height="1" fill="#0846ff"/>
<rect x="651.17" y="394" width="7.5" height="1" fill="#0846ff"/>
<rect x="651.17" y="396" width="7.5" height="3" fill="#0846ff"/>
<rect x="651.17" y="400" width="7.5" height="2" fill="#0846ff"/>
<rect x="651.17" y="408" width="7.5" height="6" fill="#0846ff"/>
<rect x="651.17" y="415" width="7.5" height="2" fill="#0846ff"/>
<rect x="651.17" y="423" width="7.5" height="3" fill="#0846ff"/>
<rect x="651.17" y="432" width="7.5" height="8" fill="#0846ff"/>
<rect x="651.17" y="440" width="7.5" height="1" fill="#0846ff"/>
<rect x="651.17" y="442" width="7.5" height="4" fill="#0846ff"/>
<rect x="651.17" y="451" width="7.5" height="3" fill="#0846ff"/>
<rect x="651.17" y="457" width="7.5" height="6" fill="#0846ff"/>
<rect x="651.17" y="471" width="7.5" height="5" fill="#0846ff"/>
<rect x="651.17" y="478" width="7.5" height="10" fill="#0846ff"/>
<rect x="651.17" y="489" width="7.5" height="3" fill="#0846ff"/>
<rect x="651.17" y="498" width="7.5" height="6" fill="#0846ff"/>
<rect x="651.17" y="510.5" width="7.5" height="1" fill="#0846ff"/>
<rect x="651.17" y="511.5" width="7.5" height="10" fill="#0846ff"/>
<rect x="651.17" y="522.5" width="7.5" height="2" fill="#0846ff"/>
<rect x="651.17" y="525.5" width="7.5" height="1" fill="#0846ff"/>
<rect x="651.17" y="527.5" width="7.5" height="5" fill="#0846ff"/>
<rect x="651.17" y="542.5" width="7.5" height="1.8" fill="#0846ff"/>
<rect x="659.46" y="369" width="8.9" height="246.1" fill="#fdfdfa"/>
<rect x="660.16" y="369.6" width="7.5" height="244.9" fill="#089de4"/>
<rect x="660.16" y="369.6" width="7.5" height="5" fill="#0846ff"/>
<rect x="660.16" y="375.6" width="7.5" height="5" fill="#0846ff"/>
<rect x="660.16" y="383.6" width="7.5" height="3" fill="#0846ff"/>
<rect x="660.16" y="391.6" width="7.5" height="2" fill="#0846ff"/>
<rect x="660.16" y="402.6" width="7.5" height="3" fill="#0846ff"/>
<rect x="660.16" y="410.6" width="7.5" height="1.5" fill="#0846ff"/>
<rect x="660.16" y="413.1" width="7.5" height="3" fill="#0846ff"/>
<rect x="660.16" y="419.1" width="7.5" height="1" fill="#0846ff"/>
<rect x="660.16" y="428.1" width="7.5" height="5" fill="#0846ff"/>
<rect x="660.16" y="436.1" width="7.5" height="1.5" fill="#0846ff"/>
<rect x="660.16" y="441.6" width="7.5" height="3" fill="#0846ff"/>
<rect x="660.16" y="445.6" width="7.5" height="2" fill="#0846ff"/>
<rect x="660.16" y="447.6" width="7.5" height="3" fill="#0846ff"/>
<rect x="660.16" y="458.6" width="7.5" height="5" fill="#0846ff"/>
<rect x="660.16" y="465.6" width="7.5" height="1" fill="#0846ff"/>
<rect x="660.16" y="476.6" width="7.5" height="8" fill="#0846ff"/>
<rect x="660.16" y="494.6" width="7.5" height="1.5" fill="#0846ff"/>
<rect x="660.16" y="499.1" width="7.5" height="5" fill="#0846ff"/>
<rect x="660.16" y="508.1" width="7.5" height="1" fill="#0846ff"/>
<rect x="660.16" y="511.1" width="7.5" height="2" fill="#0846ff"/>
<rect x="660.16" y="519.1" width="7.5" height="6" fill="#0846ff"/>
<rect x="660.16" y="533.1" width="7.5" height="3" fill="#0846ff"/>
<rect x="660.16" y="539.1" width="7.5" height="5" fill="#0846ff"/>
<rect x="660.16" y="544.1" width="7.5" height="1" fill="#0846ff"/>
<rect x="660.16" y="546.1" width="7.5" height="6" fill="#0846ff"/>
<rect x="660.16" y="572.1" width="7.5" height="1" fill="#0846ff"/>
<rect x="660.16" y="578.1" width="7.5" height="6" fill="#0846ff"/>
<rect x="660.16" y="584.1" width="7.5" height="4" fill="#0846ff"/>
<rect x="660.16" y="598.1" width="7.5" height="2" fill="#0846ff"/>
<rect x="660.16" y="600.1" width="7.5" height="2" fill="#0846ff"/>
<rect x="660.16" y="610.1" width="7.5" height="1" fill="#0846ff"/>
<rect x="660.16" y="614.1" width="7.5" height="0.4" fill="#0846ff"/>
<rect x="668.45" y="367.6" width="8.9" height="188.6" fill="#fdfdfa"/>
<rect x="669.15" y="368.2" width="7.5" height="187.4" fill="#089de4"/>
<rect x="669.15" y="369.2" width="7.5" height="2" fill="#0846ff"/>
<rect x="669.15" y="378.2" width="7.5" height="2" fill="#0846ff"/>
<rect x="669.15" y="381.2" width="7.5" height="10" fill="#0846ff"/>
<rect x="669.15" y="393.2" width="7.5" height="8" fill="#0846ff"/>
<rect x="669.15" y="407.2" width="7.5" height="1.5" fill="#0846ff"/>
<rect x="669.15" y="413.7" width="7.5" height="4" fill="#0846ff"/>
<rect x="669.15" y="419.7" width="7.5" height="10" fill="#0846ff"/>
<rect x="669.15" y="429.7" width="7.5" height="5" fill="#0846ff"/>
<rect x="669.15" y="444.7" width="7.5" height="1" fill="#0846ff"/>
<rect x="669.15" y="447.7" width="7.5" height="3" fill="#0846ff"/>
<rect x="669.15" y="453.7" width="7.5" height="1" fill="#0846ff"/>
<rect x="669.15" y="464.7" width="7.5" height="10" fill="#0846ff"/>
<rect x="669.15" y="476.7" width="7.5" height="4" fill="#0846ff"/>
<rect x="669.15" y="490.2" width="7.5" height="1.5" fill="#0846ff"/>
<rect x="669.15" y="493.2" width="7.5" height="5" fill="#0846ff"/>
<rect x="669.15" y="500.2" width="7.5" height="2" fill="#0846ff"/>
<rect x="669.15" y="503.2" width="7.5" height="3" fill="#0846ff"/>
<rect x="669.15" y="510.2" width="7.5" height="6" fill="#0846ff"/>
<rect x="669.15" y="518.2" width="7.5" height="1" fill="#0846ff"/>
<rect x="669.15" y="519.2" width="7.5" height="2" fill="#0846ff"/>
<rect x="669.15" y="522.7" width="7.5" height="6" fill="#0846ff"/>
<rect x="669.15" y="530.2" width="7.5" height="1.5" fill="#0846ff"/>
<rect x="669.15" y="532.7" width="7.5" height="8" fill="#0846ff"/>
<rect x="669.15" y="544.7" width="7.5" height="8" fill="#0846ff"/>
<rect x="677.43" y="373.2" width="8.9" height="229.3" fill="#fdfdfa"/>
<rect x="678.13" y="373.8" width="7.5" height="228.1" fill="#089de4"/>
<rect x="678.13" y="373.8" width="7.5" height="3" fill="#0846ff"/>
<rect x="678.13" y="378.3" width="7.5" height="8" fill="#0846ff"/>
<rect x="678.13" y="386.3" width="7.5" height="3" fill="#0846ff"/>
<rect x="678.13" y="390.3" width="7.5" height="6" fill="#0846ff"/>
<rect x="678.13" y="397.8" width="7.5" height="5" fill="#0846ff"/>
<rect x="678.13" y="410.8" width="7.5" height="1" fill="#0846ff"/>
<rect x="678.13" y="413.8" width="7.5" height="8" fill="#0846ff"/>
<rect x="678.13" y="426.8" width="7.5" height="2" fill="#0846ff"/>
<rect x="678.13" y="434.8" width="7.5" height="6" fill="#0846ff"/>
<rect x="678.13" y="443.8" width="7.5" height="4" fill="#0846ff"/>
<rect x="678.13" y="455.8" width="7.5" height="2" fill="#0846ff"/>
<rect x="678.13" y="462.8" width="7.5" height="1" fill="#0846ff"/>
<rect x="678.13" y="470.8" width="7.5" height="2" fill="#0846ff"/>
<rect x="678.13" y="474.8" width="7.5" height="2" fill="#0846ff"/>
<rect x="678.13" y="478.8" width="7.5" height="4" fill="#0846ff"/>
<rect x="678.13" y="484.8" width="7.5" height="10" fill="#0846ff"/>
<rect x="678.13" y="497.8" width="7.5" height="1" fill="#0846ff"/>
<rect x="678.13" y="502.8" width="7.5" height="2" fill="#0846ff"/>
<rect x="678.13" y="505.8" width="7.5" height="3" fill="#0846ff"/>
<rect x="678.13" y="513.8" width="7.5" height="2" fill="#0846ff"/>
<rect x="678.13" y="526.8" width="7.5" height="8" fill="#0846ff"/>
<rect x="678.13" y="539.8" width="7.5" height="4" fill="#0846ff"/>
<rect x="678.13" y="549.8" width="7.5" height="1" fill="#0846ff"/>
<rect x="678.13" y="562.8" width="7.5" height="3" fill="#0846ff"/>
<rect x="678.13" y="565.8" width="7.5" height="1" fill="#0846ff"/>
<rect x="678.13" y="570.8" width="7.5" height="2" fill="#0846ff"/>
<rect x="678.13" y="577.3" width="7.5" height="10" fill="#0846ff"/>
<rect x="678.13" y="587.3" width="7.5" height="1.5" fill="#0846ff"/>
<rect x="678.13" y="596.8" width="7.5" height="2" fill="#0846ff"/>
<rect x="686.42" y="376.1" width="8.9" height="188.4" fill="#fdfdfa"/>
<rect x="687.12" y="376.7" width="7.5" height="187.2" fill="#089de4"/>
<rect x="687.12" y="378.7" width="7.5" height="1.5" fill="#0846ff"/>
<rect x="687.12" y="381.2" width="7.5" height="2" fill="#0846ff"/>
<rect x="687.12" y="388.2" width="7.5" height="1.5" fill="#0846ff"/>
<rect x="687.12" y="399.7" width="7.5" height="2" fill="#0846ff"/>
<rect x="687.12" y="421.7" width="7.5" height="3" fill="#0846ff"/>
<rect x="687.12" y="434.7" width="7.5" height="1" fill="#0846ff"/>
<rect x="687.12" y="439.7" width="7.5" height="4" fill="#0846ff"/>
<rect x="687.12" y="452.7" width="7.5" height="10" fill="#0846ff"/>
<rect x="687.12" y="465.7" width="7.5" height="5" fill="#0846ff"/>
<rect x="687.12" y="471.7" width="7.5" height="8" fill="#0846ff"/>
<rect x="687.12" y="481.7" width="7.5" height="3" fill="#0846ff"/>
<rect x="687.12" y="486.7" width="7.5" height="6" fill="#0846ff"/>
<rect x="687.12" y="495.7" width="7.5" height="2" fill="#0846ff"/>
<rect x="687.12" y="497.7" width="7.5" height="2" fill="#0846ff"/>
<rect x="687.12" y="500.7" width="7.5" height="1" fill="#0846ff"/>
<rect x="687.12" y="515.7" width="7.5" height="1" fill="#0846ff"/>
<rect x="687.12" y="517.7" width="7.5" height="5" fill="#0846ff"/>
<rect x="687.12" y="523.7" width="7.5" height="3" fill="#0846ff"/>
<rect x="687.12" y="530.7" width="7.5" height="1" fill="#0846ff"/>
<rect x="687.12" y="533.7" width="7.5" height="1" fill="#0846ff"/>
<rect x="687.12" y="540.7" width="7.5" height="1.5" fill="#0846ff"/>
<rect x="687.12" y="545.2" width="7.5" height="6" fill="#0846ff"/>
<rect x="687.12" y="552.2" width="7.5" height="1" fill="#0846ff"/>
<rect x="687.12" y="561.2" width="7.5" height="2.7" fill="#0846ff"/>
<rect x="695.41" y="379.4" width="8.9" height="183.5" fill="#fdfdfa"/>
<rect x="696.11" y="380" width="7.5" height="182.3" fill="#089de4"/>
<rect x="696.11" y="380" width="7.5" height="3" fill="#0846ff"/>
<rect x="696.11" y="393" width="7.5" height="10" fill="#0846ff"/>
<rect x="696.11" y="403" width="7.5" height="8" fill="#0846ff"/>
<rect x="696.11" y="412.5" width="7.5" height="1" fill="#0846ff"/>
<rect x="696.11" y="419.5" width="7.5" height="5" fill="#0846ff"/>
<rect x="696.11" y="432.5" width="7.5" height="1" fill="#0846ff"/>
<rect x="696.11" y="437.5" width="7.5" height="3" fill="#0846ff"/>
<rect x="696.11" y="445.5" width="7.5" height="2" fill="#0846ff"/>
<rect x="696.11" y="450.5" width="7.5" height="5" fill="#0846ff"/>
<rect x="696.11" y="472.5" width="7.5" height="1.5" fill="#0846ff"/>
<rect x="696.11" y="474" width="7.5" height="8" fill="#0846ff"/>
<rect x="696.11" y="487" width="7.5" height="2" fill="#0846ff"/>
<rect x="696.11" y="489" width="7.5" height="1.5" fill="#0846ff"/>
<rect x="696.11" y="500.5" width="7.5" height="2" fill="#0846ff"/>
<rect x="696.11" y="504" width="7.5" height="1" fill="#0846ff"/>
<rect x="696.11" y="506" width="7.5" height="8" fill="#0846ff"/>
<rect x="696.11" y="522" width="7.5" height="2" fill="#0846ff"/>
<rect x="696.11" y="524" width="7.5" height="3" fill="#0846ff"/>
<rect x="696.11" y="530" width="7.5" height="8" fill="#0846ff"/>
<rect x="696.11" y="550" width="7.5" height="6" fill="#0846ff"/>
<rect x="696.11" y="559" width="7.5" height="1.5" fill="#0846ff"/>
<rect x="696.11" y="560.5" width="7.5" height="1.8" fill="#0846ff"/>
<rect x="704.39" y="379.4" width="8.9" height="165.1" fill="#fdfdfa"/>
<rect x="705.09" y="380" width="7.5" height="163.9" fill="#089de4"/>
<rect x="705.09" y="380" width="7.5" height="1" fill="#0846ff"/>
<rect x="705.09" y="391" width="7.5" height="5" fill="#0846ff"/>
<rect x="705.09" y="396" width="7.5" height="3" fill="#0846ff"/>
<rect x="705.09" y="399" width="7.5" height="2" fill="#0846ff"/>
<rect x="705.09" y="401" width="7.5" height="4" fill="#0846ff"/>
<rect x="705.09" y="407" width="7.5" height="1.5" fill="#0846ff"/>
<rect x="705.09" y="416.5" width="7.5" height="1" fill="#0846ff"/>
<rect x="705.09" y="423.5" width="7.5" height="4" fill="#0846ff"/>
<rect x="705.09" y="428.5" width="7.5" height="1.5" fill="#0846ff"/>
<rect x="705.09" y="437" width="7.5" height="2" fill="#0846ff"/>
<rect x="705.09" y="442" width="7.5" height="1" fill="#0846ff"/>
<rect x="705.09" y="451" width="7.5" height="1" fill="#0846ff"/>
<rect x="705.09" y="454" width="7.5" height="2" fill="#0846ff"/>
<rect x="705.09" y="457" width="7.5" height="3" fill="#0846ff"/>
<rect x="705.09" y="465" width="7.5" height="4" fill="#0846ff"/>
<rect x="705.09" y="470" width="7.5" height="1" fill="#0846ff"/>
<rect x="705.09" y="471" width="7.5" height="1" fill="#0846ff"/>
<rect x="705.09" y="478" width="7.5" height="10" fill="#0846ff"/>
<rect x="705.09" y="498" width="7.5" height="1.5" fill="#0846ff"/>
<rect x="705.09" y="505" width="7.5" height="3" fill="#0846ff"/>
<rect x="705.09" y="509" width="7.5" height="6" fill="#0846ff"/>
<rect x="705.09" y="523" width="7.5" height="6" fill="#0846ff"/>
<rect x="705.09" y="531" width="7.5" height="6" fill="#0846ff"/>
<rect x="705.09" y="541" width="7.5" height="1" fill="#0846ff"/>
<rect x="713.38" y="393.1" width="8.9" height="222" fill="#fdfdfa"/>
<rect x="714.08" y="393.7" width="7.5" height="220.8" fill="#089de4"/>
<rect x="714.08" y="395.7" width="7.5" height="3" fill="#0846ff"/>
<rect x="714.08" y="402.7" width="7.5" height="4" fill="#0846ff"/>
<rect x="714.08" y="419.7" width="7.5" height="1" fill="#0846ff"/>
<rect x="714.08" y="428.7" width="7.5" height="10" fill="#0846ff"/>
<rect x="714.08" y="440.2" width="7.5" height="8" fill="#0846ff"/>
<rect x="714.08" y="455.2" width="7.5" height="1" fill="#0846ff"/>
<rect x="714.08" y="457.7" width="7.5" height="1" fill="#0846ff"/>
<rect x="714.08" y="459.7" width="7.5" height="1" fill="#0846ff"/>
<rect x="714.08" y="464.7" width="7.5" height="5" fill="#0846ff"/>
<rect x="714.08" y="469.7" width="7.5" height="3" fill="#0846ff"/>
<rect x="714.08" y="474.2" width="7.5" height="6" fill="#0846ff"/>
<rect x="714.08" y="483.2" width="7.5" height="4" fill="#0846ff"/>
<rect x="714.08" y="488.2" width="7.5" height="5" fill="#0846ff"/>
<rect x="714.08" y="494.2" width="7.5" height="3" fill="#0846ff"/>
<rect x="714.08" y="501.2" width="7.5" height="1" fill="#0846ff"/>
<rect x="714.08" y="502.2" width="7.5" height="4" fill="#0846ff"/>
<rect x="714.08" y="509.2" width="7.5" height="6" fill="#0846ff"/>
<rect x="714.08" y="518.2" width="7.5" height="3" fill="#0846ff"/>
<rect x="714.08" y="524.2" width="7.5" height="1" fill="#0846ff"/>
<rect x="714.08" y="530.2" width="7.5" height="4" fill="#0846ff"/>
<rect x="714.08" y="542.2" width="7.5" height="10" fill="#0846ff"/>
<rect x="714.08" y="557.2" width="7.5" height="1" fill="#0846ff"/>
<rect x="714.08" y="564.2" width="7.5" height="3" fill="#0846ff"/>
<rect x="714.08" y="569.2" width="7.5" height="1" fill="#0846ff"/>
<rect x="714.08" y="572.2" width="7.5" height="4" fill="#0846ff"/>
<rect x="714.08" y="578.2" width="7.5" height="6" fill="#0846ff"/>
<rect x="714.08" y="587.2" width="7.5" height="2" fill="#0846ff"/>
<rect x="714.08" y="589.2" width="7.5" height="6" fill="#0846ff"/>
<rect x="714.08" y="601.2" width="7.5" height="8" fill="#0846ff"/>
<rect x="722.37" y="365.7" width="8.9" height="168.3" fill="#fdfdfa"/>
<rect x="723.07" y="366.3" width="7.5" height="167.1" fill="#089de4"/>
<rect x="723.07" y="372.3" width="7.5" height="2" fill="#0846ff"/>
<rect x="723.07" y="379.3" width="7.5" height="2" fill="#0846ff"/>
<rect x="723.07" y="381.3" width="7.5" height="1" fill="#0846ff"/>
<rect x="723.07" y="393.3" width="7.5" height="2" fill="#0846ff"/>
<rect x="723.07" y="403.3" width="7.5" height="2" fill="#0846ff"/>
<rect x="723.07" y="408.3" width="7.5" height="10" fill="#0846ff"/>
<rect x="723.07" y="426.3" width="7.5" height="1.5" fill="#0846ff"/>
<rect x="723.07" y="427.8" width="7.5" height="1" fill="#0846ff"/>
<rect x="723.07" y="436.8" width="7.5" height="4" fill="#0846ff"/>
<rect x="723.07" y="448.8" width="7.5" height="4" fill="#0846ff"/>
<rect x="723.07" y="453.8" width="7.5" height="1" fill="#0846ff"/>
<rect x="723.07" y="459.8" width="7.5" height="10" fill="#0846ff"/>
<rect x="723.07" y="472.8" width="7.5" height="3" fill="#0846ff"/>
<rect x="723.07" y="477.8" width="7.5" height="1" fill="#0846ff"/>
<rect x="723.07" y="483.8" width="7.5" height="1.5" fill="#0846ff"/>
<rect x="723.07" y="486.3" width="7.5" height="1.5" fill="#0846ff"/>
<rect x="723.07" y="492.8" width="7.5" height="1.5" fill="#0846ff"/>
<rect x="723.07" y="502.3" width="7.5" height="3" fill="#0846ff"/>
<rect x="723.07" y="505.3" width="7.5" height="1.5" fill="#0846ff"/>
<rect x="723.07" y="506.8" width="7.5" height="3" fill="#0846ff"/>
<rect x="723.07" y="512.8" width="7.5" height="8" fill="#0846ff"/>
<rect x="723.07" y="522.8" width="7.5" height="6" fill="#0846ff"/>
<rect x="723.07" y="530.3" width="7.5" height="3" fill="#0846ff"/>
<rect x="723.07" y="533.3" width="7.5" height="0.1" fill="#0846ff"/>
<rect x="731.36" y="377" width="8.9" height="188.4" fill="#fdfdfa"/>
<rect x="732.06" y="377.6" width="7.5" height="187.2" fill="#089de4"/>
<rect x="732.06" y="377.6" width="7.5" height="1" fill="#0846ff"/>
<rect x="732.06" y="380.6" width="7.5" height="2" fill="#0846ff"/>
<rect x="732.06" y="392.6" width="7.5" height="8" fill="#0846ff"/>
<rect x="732.06" y="405.6" width="7.5" height="1" fill="#0846ff"/>
<rect x="732.06" y="411.1" width="7.5" height="1" fill="#0846ff"/>
<rect x="732.06" y="420.1" width="7.5" height="1.5" fill="#0846ff"/>
<rect x="732.06" y="429.6" width="7.5" height="3" fill="#0846ff"/>
<rect x="732.06" y="433.6" width="7.5" height="3" fill="#0846ff"/>
<rect x="732.06" y="442.6" width="7.5" height="10" fill="#0846ff"/>
<rect x="732.06" y="456.6" width="7.5" height="10" fill="#0846ff"/>
<rect x="732.06" y="466.6" width="7.5" height="3" fill="#0846ff"/>
<rect x="732.06" y="472.6" width="7.5" height="10" fill="#0846ff"/>
<rect x="732.06" y="485.6" width="7.5" height="2" fill="#0846ff"/>
<rect x="732.06" y="495.6" width="7.5" height="2" fill="#0846ff"/>
<rect x="732.06" y="502.6" width="7.5" height="4" fill="#0846ff"/>
<rect x="732.06" y="506.6" width="7.5" height="2" fill="#0846ff"/>
<rect x="732.06" y="511.6" width="7.5" height="5" fill="#0846ff"/>
<rect x="732.06" y="524.6" width="7.5" height="3" fill="#0846ff"/>
<rect x="732.06" y="528.6" width="7.5" height="3" fill="#0846ff"/>
<rect x="732.06" y="534.6" width="7.5" height="1" fill="#0846ff"/>
<rect x="732.06" y="545.6" width="7.5" height="3" fill="#0846ff"/>
<rect x="732.06" y="550.6" width="7.5" height="1.5" fill="#0846ff"/>
<rect x="732.06" y="556.1" width="7.5" height="2" fill="#0846ff"/>
<rect x="732.06" y="558.1" width="7.5" height="6" fill="#0846ff"/>
<rect x="740.34" y="369" width="8.9" height="192.6" fill="#fdfdfa"/>
<rect x="741.04" y="369.6" width="7.5" height="191.4" fill="#089de4"/>
<rect x="741.04" y="377.6" width="7.5" height="1" fill="#0846ff"/>
<rect x="741.04" y="379.6" width="7.5" height="5" fill="#0846ff"/>
<rect x="741.04" y="389.6" width="7.5" height="1" fill="#0846ff"/>
<rect x="741.04" y="393.6" width="7.5" height="10" fill="#0846ff"/>
<rect x="741.04" y="413.6" width="7.5" height="8" fill="#0846ff"/>
<rect x="741.04" y="421.6" width="7.5" height="2" fill="#0846ff"/>
<rect x="741.04" y="425.6" width="7.5" height="6" fill="#0846ff"/>
<rect x="741.04" y="447.6" width="7.5" height="3" fill="#0846ff"/>
<rect x="741.04" y="451.6" width="7.5" height="1" fill="#0846ff"/>
<rect x="741.04" y="456.6" width="7.5" height="3" fill="#0846ff"/>
<rect x="741.04" y="465.6" width="7.5" height="1.5" fill="#0846ff"/>
<rect x="741.04" y="475.1" width="7.5" height="5" fill="#0846ff"/>
<rect x="741.04" y="480.1" width="7.5" height="3" fill="#0846ff"/>
<rect x="741.04" y="496.1" width="7.5" height="4" fill="#0846ff"/>
<rect x="741.04" y="502.1" width="7.5" height="1.5" fill="#0846ff"/>
<rect x="741.04" y="505.6" width="7.5" height="2" fill="#0846ff"/>
<rect x="741.04" y="509.6" width="7.5" height="5" fill="#0846ff"/>
<rect x="741.04" y="515.6" width="7.5" height="1" fill="#0846ff"/>
<rect x="741.04" y="518.6" width="7.5" height="3" fill="#0846ff"/>
<rect x="741.04" y="526.6" width="7.5" height="2" fill="#0846ff"/>
<rect x="741.04" y="530.1" width="7.5" height="8" fill="#0846ff"/>
<rect x="741.04" y="539.1" width="7.5" height="4" fill="#0846ff"/>
<rect x="741.04" y="553.1" width="7.5" height="7.9" fill="#0846ff"/>
<rect x="749.33" y="366.6" width="8.9" height="226.3" fill="#fdfdfa"/>
<rect x="750.03" y="367.2" width="7.5" height="225.1" fill="#089de4"/>
<rect x="750.03" y="367.2" width="7.5" height="2" fill="#0846ff"/>
<rect x="750.03" y="373.2" width="7.5" height="4" fill="#0846ff"/>
<rect x="750.03" y="377.2" width="7.5" height="3" fill="#0846ff"/>
<rect x="750.03" y="381.7" width="7.5" height="8" fill="#0846ff"/>
<rect x="750.03" y="394.7" width="7.5" height="2" fill="#0846ff"/>
<rect x="750.03" y="396.7" width="7.5" height="8" fill="#0846ff"/>
<rect x="750.03" y="406.7" width="7.5" height="1" fill="#0846ff"/>
<rect x="750.03" y="410.7" width="7.5" height="3" fill="#0846ff"/>
<rect x="750.03" y="417.7" width="7.5" height="3" fill="#0846ff"/>
<rect x="750.03" y="430.7" width="7.5" height="4" fill="#0846ff"/>
<rect x="750.03" y="444.7" width="7.5" height="2" fill="#0846ff"/>
<rect x="750.03" y="449.7" width="7.5" height="4" fill="#0846ff"/>
<rect x="750.03" y="466.7" width="7.5" height="1" fill="#0846ff"/>
<rect x="750.03" y="468.7" width="7.5" height="10" fill="#0846ff"/>
<rect x="750.03" y="486.7" width="7.5" height="2" fill="#0846ff"/>
<rect x="750.03" y="496.7" width="7.5" height="2" fill="#0846ff"/>
<rect x="750.03" y="499.7" width="7.5" height="2" fill="#0846ff"/>
<rect x="750.03" y="502.7" width="7.5" height="2" fill="#0846ff"/>
<rect x="750.03" y="506.2" width="7.5" height="4" fill="#0846ff"/>
<rect x="750.03" y="516.2" width="7.5" height="2" fill="#0846ff"/>
<rect x="750.03" y="522.2" width="7.5" height="10" fill="#0846ff"/>
<rect x="750.03" y="532.2" width="7.5" height="2" fill="#0846ff"/>
<rect x="750.03" y="535.2" width="7.5" height="3" fill="#0846ff"/>
<rect x="750.03" y="538.2" width="7.5" height="2" fill="#0846ff"/>
<rect x="750.03" y="541.7" width="7.5" height="2" fill="#0846ff"/>
<rect x="750.03" y="549.7" width="7.5" height="1" fill="#0846ff"/>
<rect x="750.03" y="555.7" width="7.5" height="8" fill="#0846ff"/>
<rect x="750.03" y="563.7" width="7.5" height="2" fill="#0846ff"/>
<rect x="750.03" y="573.7" width="7.5" height="5" fill="#0846ff"/>
<rect x="758.32" y="379.8" width="8.9" height="141.7" fill="#fdfdfa"/>
<rect x="759.02" y="380.4" width="7.5" height="140.5" fill="#089de4"/>
<rect x="759.02" y="380.4" width="7.5" height="3" fill="#0846ff"/>
<rect x="759.02" y="386.4" width="7.5" height="3" fill="#0846ff"/>
<rect x="759.02" y="397.4" width="7.5" height="1" fill="#0846ff"/>
<rect x="759.02" y="400.4" width="7.5" height="3" fill="#0846ff"/>
<rect x="759.02" y="406.4" width="7.5" height="5" fill="#0846ff"/>
<rect x="759.02" y="413.4" width="7.5" height="4" fill="#0846ff"/>
<rect x="759.02" y="420.4" width="7.5" height="10" fill="#0846ff"/>
<rect x="759.02" y="435.4" width="7.5" height="4" fill="#0846ff"/>
<rect x="759.02" y="440.9" width="7.5" height="2" fill="#0846ff"/>
<rect x="759.02" y="443.9" width="7.5" height="2" fill="#0846ff"/>
<rect x="759.02" y="445.9" width="7.5" height="1" fill="#0846ff"/>
<rect x="759.02" y="451.9" width="7.5" height="5" fill="#0846ff"/>
<rect x="759.02" y="460.9" width="7.5" height="4" fill="#0846ff"/>
<rect x="759.02" y="465.9" width="7.5" height="8" fill="#0846ff"/>
<rect x="759.02" y="480.9" width="7.5" height="3" fill="#0846ff"/>
<rect x="759.02" y="485.9" width="7.5" height="4" fill="#0846ff"/>
<rect x="759.02" y="502.9" width="7.5" height="6" fill="#0846ff"/>
<rect x="759.02" y="511.9" width="7.5" height="2" fill="#0846ff"/>
<rect x="759.02" y="516.9" width="7.5" height="4" fill="#0846ff"/>
<rect x="767.3" y="379.8" width="8.9" height="175.5" fill="#fdfdfa"/>
<rect x="768" y="380.4" width="7.5" height="174.3" fill="#089de4"/>
<rect x="768" y="380.4" width="7.5" height="3" fill="#0846ff"/>
<rect x="768" y="389.4" width="7.5" height="5" fill="#0846ff"/>
<rect x="768" y="394.4" width="7.5" height="1" fill="#0846ff"/>
<rect x="768" y="399.4" width="7.5" height="10" fill="#0846ff"/>
<rect x="768" y="410.4" width="7.5" height="1.5" fill="#0846ff"/>
<rect x="768" y="416.9" width="7.5" height="3" fill="#0846ff"/>
<rect x="768" y="420.9" width="7.5" height="5" fill="#0846ff"/>
<rect x="768" y="433.9" width="7.5" height="4" fill="#0846ff"/>
<rect x="768" y="440.9" width="7.5" height="5" fill="#0846ff"/>
<rect x="768" y="447.9" width="7.5" height="1" fill="#0846ff"/>
<rect x="768" y="451.9" width="7.5" height="3" fill="#0846ff"/>
<rect x="768" y="472.9" width="7.5" height="10" fill="#0846ff"/>
<rect x="768" y="483.9" width="7.5" height="1" fill="#0846ff"/>
<rect x="768" y="488.9" width="7.5" height="6" fill="#0846ff"/>
<rect x="768" y="496.9" width="7.5" height="1" fill="#0846ff"/>
<rect x="768" y="503.9" width="7.5" height="1" fill="#0846ff"/>
<rect x="768" y="520.9" width="7.5" height="8" fill="#0846ff"/>
<rect x="768" y="534.9" width="7.5" height="4" fill="#0846ff"/>
<rect x="768" y="539.9" width="7.5" height="10" fill="#0846ff"/>
<rect x="768" y="550.9" width="7.5" height="3.8" fill="#0846ff"/>
<rect x="776.29" y="379.8" width="8.9" height="168.2" fill="#fdfdfa"/>
<rect x="776.99" y="380.4" width="7.5" height="167" fill="#089de4"/>
<rect x="776.99" y="381.4" width="7.5" height="1.5" fill="#0846ff"/>
<rect x="776.99" y="386.9" width="7.5" height="5" fill="#0846ff"/>
<rect x="776.99" y="393.4" width="7.5" height="3" fill="#0846ff"/>
<rect x="776.99" y="397.4" width="7.5" height="4" fill="#0846ff"/>
<rect x="776.99" y="401.4" width="7.5" height="3" fill="#0846ff"/>
<rect x="776.99" y="409.4" width="7.5" height="1.5" fill="#0846ff"/>
<rect x="776.99" y="410.9" width="7.5" height="2" fill="#0846ff"/>
<rect x="776.99" y="413.9" width="7.5" height="3" fill="#0846ff"/>
<rect x="776.99" y="417.9" width="7.5" height="1" fill="#0846ff"/>
<rect x="776.99" y="422.9" width="7.5" height="8" fill="#0846ff"/>
<rect x="776.99" y="440.9" width="7.5" height="3" fill="#0846ff"/>
<rect x="776.99" y="453.9" width="7.5" height="1.5" fill="#0846ff"/>
<rect x="776.99" y="461.4" width="7.5" height="4" fill="#0846ff"/>
<rect x="776.99" y="468.4" width="7.5" height="2" fill="#0846ff"/>
<rect x="776.99" y="471.4" width="7.5" height="4" fill="#0846ff"/>
<rect x="776.99" y="485.4" width="7.5" height="3" fill="#0846ff"/>
<rect x="776.99" y="493.4" width="7.5" height="1.5" fill="#0846ff"/>
<rect x="776.99" y="494.9" width="7.5" height="8" fill="#0846ff"/>
<rect x="776.99" y="504.9" width="7.5" height="4" fill="#0846ff"/>
<rect x="776.99" y="511.9" width="7.5" height="1.5" fill="#0846ff"/>
<rect x="776.99" y="521.4" width="7.5" height="3" fill="#0846ff"/>
<rect x="776.99" y="529.4" width="7.5" height="3" fill="#0846ff"/>
<rect x="776.99" y="534.4" width="7.5" height="6" fill="#0846ff"/>
<rect x="776.99" y="541.4" width="7.5" height="1" fill="#0846ff"/>
<rect x="776.99" y="546.4" width="7.5" height="1" fill="#0846ff"/>
<rect x="785.28" y="379.8" width="8.9" height="235.3" fill="#fdfdfa"/>
<rect x="785.98" y="380.4" width="7.5" height="234.1" fill="#089de4"/>
<rect x="785.98" y="380.4" width="7.5" height="1" fill="#0846ff"/>
<rect x="785.98" y="392.4" width="7.5" height="1" fill="#0846ff"/>
<rect x="785.98" y="393.4" width="7.5" height="2" fill="#0846ff"/>
<rect x="785.98" y="397.4" width="7.5" height="10" fill="#0846ff"/>
<rect x="785.98" y="407.4" width="7.5" height="4" fill="#0846ff"/>
<rect x="785.98" y="412.4" width="7.5" height="3" fill="#0846ff"/>
<rect x="785.98" y="421.4" width="7.5" height="10" fill="#0846ff"/>
<rect x="785.98" y="436.4" width="7.5" height="2" fill="#0846ff"/>
<rect x="785.98" y="442.4" width="7.5" height="4" fill="#0846ff"/>
<rect x="785.98" y="452.4" width="7.5" height="10" fill="#0846ff"/>
<rect x="785.98" y="465.4" width="7.5" height="5" fill="#0846ff"/>
<rect x="785.98" y="470.4" width="7.5" height="10" fill="#0846ff"/>
<rect x="785.98" y="480.4" width="7.5" height="6" fill="#0846ff"/>
<rect x="785.98" y="489.4" width="7.5" height="3" fill="#0846ff"/>
<rect x="785.98" y="498.4" width="7.5" height="1.5" fill="#0846ff"/>
<rect x="785.98" y="504.9" width="7.5" height="10" fill="#0846ff"/>
<rect x="785.98" y="514.9" width="7.5" height="3" fill="#0846ff"/>
<rect x="785.98" y="517.9" width="7.5" height="1" fill="#0846ff"/>
<rect x="785.98" y="523.4" width="7.5" height="3" fill="#0846ff"/>
<rect x="785.98" y="530.4" width="7.5" height="5" fill="#0846ff"/>
<rect x="785.98" y="537.4" width="7.5" height="1.5" fill="#0846ff"/>
<rect x="785.98" y="538.9" width="7.5" height="5" fill="#0846ff"/>
<rect x="785.98" y="549.9" width="7.5" height="4" fill="#0846ff"/>
<rect x="785.98" y="555.4" width="7.5" height="10" fill="#0846ff"/>
<rect x="785.98" y="571.4" width="7.5" height="2" fill="#0846ff"/>
<rect x="785.98" y="575.4" width="7.5" height="1.5" fill="#0846ff"/>
<rect x="785.98" y="578.9" width="7.5" height="4" fill="#0846ff"/>
<rect x="785.98" y="582.9" width="7.5" height="1.5" fill="#0846ff"/>
<rect x="785.98" y="585.4" width="7.5" height="8" fill="#0846ff"/>
<rect x="785.98" y="598.4" width="7.5" height="2" fill="#0846ff"/>
<rect x="785.98" y="602.4" width="7.5" height="1.5" fill="#0846ff"/>
<rect x="785.98" y="603.9" width="7.5" height="3" fill="#0846ff"/>
<rect x="785.98" y="606.9" width="7.5" height="4" fill="#0846ff"/>
<rect x="794.26" y="379.8" width="8.9" height="169.3" fill="#fdfdfa"/>
<rect x="794.96" y="380.4" width="7.5" height="168.1" fill="#089de4"/>
<rect x="794.96" y="380.4" width="7.5" height="3" fill="#0846ff"/>
<rect x="794.96" y="383.4" width="7.5" height="5" fill="#0846ff"/>
<rect x="794.96" y="396.4" width="7.5" height="3" fill="#0846ff"/>
<rect x="794.96" y="401.4" width="7.5" height="1" fill="#0846ff"/>
<rect x="794.96" y="407.4" width="7.5" height="6" fill="#0846ff"/>
<rect x="794.96" y="415.4" width="7.5" height="3" fill="#0846ff"/>
<rect x="794.96" y="428.4" width="7.5" height="10" fill="#0846ff"/>
<rect x="794.96" y="444.4" width="7.5" height="1" fill="#0846ff"/>
<rect x="794.96" y="446.4" width="7.5" height="2" fill="#0846ff"/>
<rect x="794.96" y="448.4" width="7.5" height="1" fill="#0846ff"/>
<rect x="794.96" y="457.4" width="7.5" height="5" fill="#0846ff"/>
<rect x="794.96" y="465.4" width="7.5" height="2" fill="#0846ff"/>
<rect x="794.96" y="468.4" width="7.5" height="3" fill="#0846ff"/>
<rect x="794.96" y="476.4" width="7.5" height="1" fill="#0846ff"/>
<rect x="794.96" y="483.4" width="7.5" height="8" fill="#0846ff"/>
<rect x="794.96" y="493.4" width="7.5" height="1" fill="#0846ff"/>
<rect x="794.96" y="495.4" width="7.5" height="3" fill="#0846ff"/>
<rect x="794.96" y="499.9" width="7.5" height="3" fill="#0846ff"/>
<rect x="794.96" y="502.9" width="7.5" height="2" fill="#0846ff"/>
<rect x="794.96" y="517.9" width="7.5" height="1.5" fill="#0846ff"/>
<rect x="794.96" y="520.4" width="7.5" height="1" fill="#0846ff"/>
<rect x="794.96" y="526.4" width="7.5" height="1.5" fill="#0846ff"/>
<rect x="794.96" y="537.9" width="7.5" height="6" fill="#0846ff"/>
<rect x="794.96" y="544.9" width="7.5" height="1" fill="#0846ff"/>
<rect x="803.25" y="379.8" width="8.9" height="154.2" fill="#fdfdfa"/>
<rect x="803.95" y="380.4" width="7.5" height="153" fill="#089de4"/>
<rect x="803.95" y="380.4" width="7.5" height="1" fill="#0846ff"/>
<rect x="803.95" y="382.9" width="7.5" height="10" fill="#0846ff"/>
<rect x="803.95" y="392.9" width="7.5" height="5" fill="#0846ff"/>
<rect x="803.95" y="400.9" width="7.5" height="5" fill="#0846ff"/>
<rect x="803.95" y="408.9" width="7.5" height="4" fill="#0846ff"/>
<rect x="803.95" y="415.9" width="7.5" height="2" fill="#0846ff"/>
<rect x="803.95" y="422.9" width="7.5" height="2" fill="#0846ff"/>
<rect x="803.95" y="425.9" width="7.5" height="6" fill="#0846ff"/>
<rect x="803.95" y="431.9" width="7.5" height="10" fill="#0846ff"/>
<rect x="803.95" y="441.9" width="7.5" height="5" fill="#0846ff"/>
<rect x="803.95" y="454.9" width="7.5" height="1" fill="#0846ff"/>
<rect x="803.95" y="461.9" width="7.5" height="3" fill="#0846ff"/>
<rect x="803.95" y="467.9" width="7.5" height="1" fill="#0846ff"/>
<rect x="803.95" y="481.9" width="7.5" height="2" fill="#0846ff"/>
<rect x="803.95" y="485.4" width="7.5" height="2" fill="#0846ff"/>
<rect x="803.95" y="490.4" width="7.5" height="8" fill="#0846ff"/>
<rect x="803.95" y="502.4" width="7.5" height="1" fill="#0846ff"/>
<rect x="803.95" y="506.4" width="7.5" height="1" fill="#0846ff"/>
<rect x="803.95" y="508.4" width="7.5" height="10" fill="#0846ff"/>
<rect x="803.95" y="531.4" width="7.5" height="2" fill="#0846ff"/>
<rect x="812.24" y="379.8" width="8.9" height="213.1" fill="#fdfdfa"/>
<rect x="812.94" y="380.4" width="7.5" height="211.9" fill="#089de4"/>
<rect x="812.94" y="380.4" width="7.5" height="1" fill="#0846ff"/>
<rect x="812.94" y="383.4" width="7.5" height="10" fill="#0846ff"/>
<rect x="812.94" y="396.4" width="7.5" height="5" fill="#0846ff"/>
<rect x="812.94" y="406.4" width="7.5" height="5" fill="#0846ff"/>
<rect x="812.94" y="413.9" width="7.5" height="8" fill="#0846ff"/>
<rect x="812.94" y="427.9" width="7.5" height="10" fill="#0846ff"/>
<rect x="812.94" y="439.9" width="7.5" height="1" fill="#0846ff"/>
<rect x="812.94" y="442.4" width="7.5" height="1.5" fill="#0846ff"/>
<rect x="812.94" y="458.9" width="7.5" height="4" fill="#0846ff"/>
<rect x="812.94" y="465.9" width="7.5" height="2" fill="#0846ff"/>
<rect x="812.94" y="472.9" width="7.5" height="1.5" fill="#0846ff"/>
<rect x="812.94" y="478.4" width="7.5" height="6" fill="#0846ff"/>
<rect x="812.94" y="489.4" width="7.5" height="8" fill="#0846ff"/>
<rect x="812.94" y="507.4" width="7.5" height="5" fill="#0846ff"/>
<rect x="812.94" y="513.9" width="7.5" height="4" fill="#0846ff"/>
<rect x="812.94" y="520.9" width="7.5" height="1" fill="#0846ff"/>
<rect x="812.94" y="526.9" width="7.5" height="6" fill="#0846ff"/>
<rect x="812.94" y="534.9" width="7.5" height="4" fill="#0846ff"/>
<rect x="812.94" y="553.9" width="7.5" height="6" fill="#0846ff"/>
<rect x="812.94" y="573.9" width="7.5" height="3" fill="#0846ff"/>
<rect x="812.94" y="577.9" width="7.5" height="10" fill="#0846ff"/>
<rect x="821.22" y="379.8" width="8.9" height="175.5" fill="#fdfdfa"/>
<rect x="821.92" y="380.4" width="7.5" height="174.3" fill="#089de4"/>
<rect x="821.92" y="382.4" width="7.5" height="3" fill="#0846ff"/>
<rect x="821.92" y="387.4" width="7.5" height="1" fill="#0846ff"/>
<rect x="821.92" y="395.4" width="7.5" height="10" fill="#0846ff"/>
<rect x="821.92" y="415.4" width="7.5" height="8" fill="#0846ff"/>
<rect x="821.92" y="427.4" width="7.5" height="2" fill="#0846ff"/>
<rect x="821.92" y="430.4" width="7.5" height="6" fill="#0846ff"/>
<rect x="821.92" y="451.4" width="7.5" height="10" fill="#0846ff"/>
<rect x="821.92" y="467.4" width="7.5" height="1" fill="#0846ff"/>
<rect x="821.92" y="471.4" width="7.5" height="1" fill="#0846ff"/>
<rect x="821.92" y="472.4" width="7.5" height="3" fill="#0846ff"/>
<rect x="821.92" y="485.4" width="7.5" height="2" fill="#0846ff"/>
<rect x="821.92" y="488.4" width="7.5" height="1" fill="#0846ff"/>
<rect x="821.92" y="499.4" width="7.5" height="2" fill="#0846ff"/>
<rect x="821.92" y="501.4" width="7.5" height="1" fill="#0846ff"/>
<rect x="821.92" y="509.4" width="7.5" height="3" fill="#0846ff"/>
<rect x="821.92" y="513.4" width="7.5" height="5" fill="#0846ff"/>
<rect x="821.92" y="523.4" width="7.5" height="1" fill="#0846ff"/>
<rect x="821.92" y="540.4" width="7.5" height="1" fill="#0846ff"/>
<rect x="821.92" y="544.4" width="7.5" height="1" fill="#0846ff"/>
<rect x="821.92" y="547.4" width="7.5" height="5" fill="#0846ff"/>
<rect x="821.92" y="553.4" width="7.5" height="1.3" fill="#0846ff"/>
<rect x="830.21" y="379.8" width="8.9" height="214.4" fill="#fdfdfa"/>
<rect x="830.91" y="380.4" width="7.5" height="213.2" fill="#089de4"/>
<rect x="830.91" y="383.4" width="7.5" height="1" fill="#0846ff"/>
<rect x="830.91" y="388.4" width="7.5" height="2" fill="#0846ff"/>
<rect x="830.91" y="390.4" width="7.5" height="10" fill="#0846ff"/>
<rect x="830.91" y="415.4" width="7.5" height="2" fill="#0846ff"/>
<rect x="830.91" y="422.4" width="7.5" height="2" fill="#0846ff"/>
<rect x="830.91" y="425.4" width="7.5" height="6" fill="#0846ff"/>
<rect x="830.91" y="435.4" width="7.5" height="3" fill="#0846ff"/>
<rect x="830.91" y="444.4" width="7.5" height="2" fill="#0846ff"/>
<rect x="830.91" y="447.4" width="7.5" height="5" fill="#0846ff"/>
<rect x="830.91" y="454.4" width="7.5" height="6" fill="#0846ff"/>
<rect x="830.91" y="460.4" width="7.5" height="10" fill="#0846ff"/>
<rect x="830.91" y="472.4" width="7.5" height="3" fill="#0846ff"/>
<rect x="830.91" y="476.4" width="7.5" height="2" fill="#0846ff"/>
<rect x="830.91" y="489.4" width="7.5" height="1" fill="#0846ff"/>
<rect x="830.91" y="491.4" width="7.5" height="1" fill="#0846ff"/>
<rect x="830.91" y="496.9" width="7.5" height="4" fill="#0846ff"/>
<rect x="830.91" y="503.9" width="7.5" height="4" fill="#0846ff"/>
<rect x="830.91" y="508.9" width="7.5" height="1" fill="#0846ff"/>
<rect x="830.91" y="513.9" width="7.5" height="10" fill="#0846ff"/>
<rect x="830.91" y="527.9" width="7.5" height="3" fill="#0846ff"/>
<rect x="830.91" y="534.9" width="7.5" height="1.5" fill="#0846ff"/>
<rect x="830.91" y="539.4" width="7.5" height="4" fill="#0846ff"/>
<rect x="830.91" y="549.4" width="7.5" height="3" fill="#0846ff"/>
<rect x="830.91" y="560.4" width="7.5" height="2" fill="#0846ff"/>
<rect x="830.91" y="572.4" width="7.5" height="3" fill="#0846ff"/>
<rect x="830.91" y="579.4" width="7.5" height="8" fill="#0846ff"/>
<rect x="830.91" y="588.9" width="7.5" height="3" fill="#0846ff"/>
<rect x="839.2" y="405.4" width="8.9" height="191.9" fill="#fdfdfa"/>
<rect x="839.9" y="406" width="7.5" height="190.7" fill="#089de4"/>
<rect x="839.9" y="406" width="7.5" height="4" fill="#0846ff"/>
<rect x="839.9" y="414" width="7.5" height="8" fill="#0846ff"/>
<rect x="839.9" y="425" width="7.5" height="1" fill="#0846ff"/>
<rect x="839.9" y="428" width="7.5" height="5" fill="#0846ff"/>
<rect x="839.9" y="433" width="7.5" height="1.5" fill="#0846ff"/>
<rect x="839.9" y="437.5" width="7.5" height="2" fill="#0846ff"/>
<rect x="839.9" y="445.5" width="7.5" height="2" fill="#0846ff"/>
<rect x="839.9" y="451.5" width="7.5" height="5" fill="#0846ff"/>
<rect x="839.9" y="464.5" width="7.5" height="6" fill="#0846ff"/>
<rect x="839.9" y="471.5" width="7.5" height="3" fill="#0846ff"/>
<rect x="839.9" y="474.5" width="7.5" height="3" fill="#0846ff"/>
<rect x="839.9" y="491.5" width="7.5" height="4" fill="#0846ff"/>
<rect x="839.9" y="496.5" width="7.5" height="8" fill="#0846ff"/>
<rect x="839.9" y="508.5" width="7.5" height="2" fill="#0846ff"/>
<rect x="839.9" y="515.5" width="7.5" height="2" fill="#0846ff"/>
<rect x="839.9" y="520.5" width="7.5" height="1" fill="#0846ff"/>
<rect x="839.9" y="521.5" width="7.5" height="1" fill="#0846ff"/>
<rect x="839.9" y="523.5" width="7.5" height="4" fill="#0846ff"/>
<rect x="839.9" y="528.5" width="7.5" height="1" fill="#0846ff"/>
<rect x="839.9" y="532.5" width="7.5" height="5" fill="#0846ff"/>
<rect x="839.9" y="546.5" width="7.5" height="6" fill="#0846ff"/>
<rect x="839.9" y="557.5" width="7.5" height="6" fill="#0846ff"/>
<rect x="839.9" y="568.5" width="7.5" height="8" fill="#0846ff"/>
<rect x="839.9" y="576.5" width="7.5" height="1" fill="#0846ff"/>
<rect x="839.9" y="579.5" width="7.5" height="3" fill="#0846ff"/>
<rect x="839.9" y="582.5" width="7.5" height="3" fill="#0846ff"/>
<rect x="839.9" y="585.5" width="7.5" height="1" fill="#0846ff"/>
<rect x="839.9" y="594.5" width="7.5" height="2.2" fill="#0846ff"/>
<rect x="848.19" y="339.6" width="8.9" height="255.6" fill="#fdfdfa"/>
<rect x="848.89" y="340.2" width="7.5" height="254.4" fill="#089de4"/>
<rect x="848.89" y="340.2" width="7.5" height="1" fill="#0846ff"/>
<rect x="848.89" y="346.2" width="7.5" height="10" fill="#0846ff"/>
<rect x="848.89" y="356.2" width="7.5" height="2" fill="#0846ff"/>
<rect x="848.89" y="361.2" width="7.5" height="6" fill="#0846ff"/>
<rect x="848.89" y="373.2" width="7.5" height="1" fill="#0846ff"/>
<rect x="848.89" y="376.2" width="7.5" height="4" fill="#0846ff"/>
<rect x="848.89" y="390.2" width="7.5" height="10" fill="#0846ff"/>
<rect x="848.89" y="402.2" width="7.5" height="1.5" fill="#0846ff"/>
<rect x="848.89" y="409.7" width="7.5" height="6" fill="#0846ff"/>
<rect x="848.89" y="418.7" width="7.5" height="3" fill="#0846ff"/>
<rect x="848.89" y="424.7" width="7.5" height="1.5" fill="#0846ff"/>
<rect x="848.89" y="431.2" width="7.5" height="2" fill="#0846ff"/>
<rect x="848.89" y="435.2" width="7.5" height="6" fill="#0846ff"/>
<rect x="848.89" y="447.2" width="7.5" height="5" fill="#0846ff"/>
<rect x="848.89" y="453.2" width="7.5" height="5" fill="#0846ff"/>
<rect x="848.89" y="459.7" width="7.5" height="2" fill="#0846ff"/>
<rect x="848.89" y="469.7" width="7.5" height="1" fill="#0846ff"/>
<rect x="848.89" y="472.2" width="7.5" height="2" fill="#0846ff"/>
<rect x="848.89" y="476.2" width="7.5" height="2" fill="#0846ff"/>
<rect x="848.89" y="481.2" width="7.5" height="2" fill="#0846ff"/>
<rect x="848.89" y="486.2" width="7.5" height="5" fill="#0846ff"/>
<rect x="848.89" y="501.2" width="7.5" height="8" fill="#0846ff"/>
<rect x="848.89" y="511.2" width="7.5" height="4" fill="#0846ff"/>
<rect x="848.89" y="517.2" width="7.5" height="4" fill="#0846ff"/>
<rect x="848.89" y="521.2" width="7.5" height="1" fill="#0846ff"/>
<rect x="848.89" y="522.2" width="7.5" height="4" fill="#0846ff"/>
<rect x="848.89" y="527.2" width="7.5" height="1.5" fill="#0846ff"/>
<rect x="848.89" y="536.7" width="7.5" height="6" fill="#0846ff"/>
<rect x="848.89" y="545.7" width="7.5" height="8" fill="#0846ff"/>
<rect x="848.89" y="561.7" width="7.5" height="1" fill="#0846ff"/>
<rect x="848.89" y="565.7" width="7.5" height="6" fill="#0846ff"/>
<rect x="848.89" y="571.7" width="7.5" height="3" fill="#0846ff"/>
<rect x="848.89" y="576.7" width="7.5" height="6" fill="#0846ff"/>
<rect x="848.89" y="585.7" width="7.5" height="3" fill="#0846ff"/>
<rect x="848.89" y="591.7" width="7.5" height="1.5" fill="#0846ff"/>
<rect x="857.17" y="406.4" width="8.9" height="177.3" fill="#fdfdfa"/>
<rect x="857.87" y="407" width="7.5" height="176.1" fill="#089de4"/>
<rect x="857.87" y="408.5" width="7.5" height="10" fill="#0846ff"/>
<rect x="857.87" y="420.5" width="7.5" height="1.5" fill="#0846ff"/>
<rect x="857.87" y="423.5" width="7.5" height="1" fill="#0846ff"/>
<rect x="857.87" y="442.5" width="7.5" height="2" fill="#0846ff"/>
<rect x="857.87" y="449.5" width="7.5" height="8" fill="#0846ff"/>
<rect x="857.87" y="464.5" width="7.5" height="3" fill="#0846ff"/>
<rect x="857.87" y="473.5" width="7.5" height="3" fill="#0846ff"/>
<rect x="857.87" y="486.5" width="7.5" height="3" fill="#0846ff"/>
<rect x="857.87" y="507.5" width="7.5" height="10" fill="#0846ff"/>
<rect x="857.87" y="520.5" width="7.5" height="6" fill="#0846ff"/>
<rect x="857.87" y="528.5" width="7.5" height="4" fill="#0846ff"/>
<rect x="857.87" y="542.5" width="7.5" height="3" fill="#0846ff"/>
<rect x="857.87" y="547.5" width="7.5" height="3" fill="#0846ff"/>
<rect x="857.87" y="552.5" width="7.5" height="4" fill="#0846ff"/>
<rect x="857.87" y="557.5" width="7.5" height="3" fill="#0846ff"/>
<rect x="857.87" y="568.5" width="7.5" height="5" fill="#0846ff"/>
<rect x="857.87" y="575.5" width="7.5" height="4" fill="#0846ff"/>
<rect x="857.87" y="581" width="7.5" height="2.1" fill="#0846ff"/>
<rect x="866.16" y="399.8" width="8.9" height="219.2" fill="#fdfdfa"/>
<rect x="866.86" y="400.4" width="7.5" height="218" fill="#089de4"/>
<rect x="866.86" y="400.4" width="7.5" height="3" fill="#0846ff"/>
<rect x="866.86" y="404.9" width="7.5" height="8" fill="#0846ff"/>
<rect x="866.86" y="415.9" width="7.5" height="3" fill="#0846ff"/>
<rect x="866.86" y="421.9" width="7.5" height="4" fill="#0846ff"/>
<rect x="866.86" y="426.9" width="7.5" height="2" fill="#0846ff"/>
<rect x="866.86" y="428.9" width="7.5" height="2" fill="#0846ff"/>
<rect x="866.86" y="433.9" width="7.5" height="6" fill="#0846ff"/>
<rect x="866.86" y="445.9" width="7.5" height="1" fill="#0846ff"/>
<rect x="866.86" y="452.9" width="7.5" height="2" fill="#0846ff"/>
<rect x="866.86" y="455.9" width="7.5" height="1.5" fill="#0846ff"/>
<rect x="866.86" y="463.4" width="7.5" height="10" fill="#0846ff"/>
<rect x="866.86" y="476.4" width="7.5" height="2" fill="#0846ff"/>
<rect x="866.86" y="483.4" width="7.5" height="2" fill="#0846ff"/>
<rect x="866.86" y="487.4" width="7.5" height="2" fill="#0846ff"/>
<rect x="866.86" y="504.4" width="7.5" height="1" fill="#0846ff"/>
<rect x="866.86" y="505.4" width="7.5" height="5" fill="#0846ff"/>
<rect x="866.86" y="520.4" width="7.5" height="1" fill="#0846ff"/>
<rect x="866.86" y="522.4" width="7.5" height="2" fill="#0846ff"/>
<rect x="866.86" y="528.4" width="7.5" height="1.5" fill="#0846ff"/>
<rect x="866.86" y="529.9" width="7.5" height="1.5" fill="#0846ff"/>
<rect x="866.86" y="532.9" width="7.5" height="2" fill="#0846ff"/>
<rect x="866.86" y="540.9" width="7.5" height="4" fill="#0846ff"/>
<rect x="866.86" y="545.9" width="7.5" height="2" fill="#0846ff"/>
<rect x="866.86" y="557.9" width="7.5" height="5" fill="#0846ff"/>
<rect x="866.86" y="566.9" width="7.5" height="1" fill="#0846ff"/>
<rect x="866.86" y="575.9" width="7.5" height="2" fill="#0846ff"/>
<rect x="866.86" y="583.9" width="7.5" height="6" fill="#0846ff"/>
<rect x="866.86" y="589.9" width="7.5" height="1.5" fill="#0846ff"/>
<rect x="866.86" y="592.9" width="7.5" height="5" fill="#0846ff"/>
<rect x="866.86" y="599.9" width="7.5" height="1" fill="#0846ff"/>
<rect x="866.86" y="600.9" width="7.5" height="4" fill="#0846ff"/>
<rect x="866.86" y="607.9" width="7.5" height="1.5" fill="#0846ff"/>
<rect x="875.15" y="433.4" width="8.9" height="115.7" fill="#fdfdfa"/>
<rect x="875.85" y="434" width="7.5" height="114.5" fill="#089de4"/>
<rect x="875.85" y="434" width="7.5" height="2" fill="#0846ff"/>
<rect x="875.85" y="442" width="7.5" height="3" fill="#0846ff"/>
<rect x="875.85" y="450" width="7.5" height="1.5" fill="#0846ff"/>
<rect x="875.85" y="456.5" width="7.5" height="6" fill="#0846ff"/>
<rect x="875.85" y="463.5" width="7.5" height="3" fill="#0846ff"/>
<rect x="875.85" y="466.5" width="7.5" height="1.5" fill="#0846ff"/>
<rect x="875.85" y="469" width="7.5" height="1" fill="#0846ff"/>
<rect x="875.85" y="478" width="7.5" height="3" fill="#0846ff"/>
<rect x="875.85" y="481" width="7.5" height="5" fill="#0846ff"/>
<rect x="875.85" y="496" width="7.5" height="5" fill="#0846ff"/>
<rect x="875.85" y="506" width="7.5" height="6" fill="#0846ff"/>
<rect x="875.85" y="515" width="7.5" height="3" fill="#0846ff"/>
<rect x="875.85" y="519" width="7.5" height="3" fill="#0846ff"/>
<rect x="875.85" y="524" width="7.5" height="5" fill="#0846ff"/>
<rect x="875.85" y="529" width="7.5" height="3" fill="#0846ff"/>
<rect x="875.85" y="532" width="7.5" height="1" fill="#0846ff"/>
<rect x="875.85" y="539" width="7.5" height="1" fill="#0846ff"/>
<rect x="884.13" y="361.4" width="8.9" height="226.5" fill="#fdfdfa"/>
<rect x="884.83" y="362" width="7.5" height="225.3" fill="#089de4"/>
<rect x="884.83" y="368" width="7.5" height="10" fill="#0846ff"/>
<rect x="884.83" y="379" width="7.5" height="1.5" fill="#0846ff"/>
<rect x="884.83" y="382.5" width="7.5" height="1" fill="#0846ff"/>
<rect x="884.83" y="392.5" width="7.5" height="2" fill="#0846ff"/>
<rect x="884.83" y="399.5" width="7.5" height="1" fill="#0846ff"/>
<rect x="884.83" y="402" width="7.5" height="1" fill="#0846ff"/>
<rect x="884.83" y="405" width="7.5" height="3" fill="#0846ff"/>
<rect x="884.83" y="411" width="7.5" height="1" fill="#0846ff"/>
<rect x="884.83" y="414" width="7.5" height="4" fill="#0846ff"/>
<rect x="884.83" y="418" width="7.5" height="3" fill="#0846ff"/>
<rect x="884.83" y="425" width="7.5" height="6" fill="#0846ff"/>
<rect x="884.83" y="432.5" width="7.5" height="3" fill="#0846ff"/>
<rect x="884.83" y="436.5" width="7.5" height="1" fill="#0846ff"/>
<rect x="884.83" y="437.5" width="7.5" height="2" fill="#0846ff"/>
<rect x="884.83" y="445.5" width="7.5" height="4" fill="#0846ff"/>
<rect x="884.83" y="449.5" width="7.5" height="1" fill="#0846ff"/>
<rect x="884.83" y="452.5" width="7.5" height="1" fill="#0846ff"/>
<rect x="884.83" y="455.5" width="7.5" height="4" fill="#0846ff"/>
<rect x="884.83" y="462.5" width="7.5" height="2" fill="#0846ff"/>
<rect x="884.83" y="464.5" width="7.5" height="3" fill="#0846ff"/>
<rect x="884.83" y="468.5" width="7.5" height="6" fill="#0846ff"/>
<rect x="884.83" y="482.5" width="7.5" height="6" fill="#0846ff"/>
<rect x="884.83" y="496.5" width="7.5" height="3" fill="#0846ff"/>
<rect x="884.83" y="500.5" width="7.5" height="6" fill="#0846ff"/>
<rect x="884.83" y="507.5" width="7.5" height="2" fill="#0846ff"/>
<rect x="884.83" y="509.5" width="7.5" height="2" fill="#0846ff"/>
<rect x="884.83" y="517.5" width="7.5" height="4" fill="#0846ff"/>
<rect x="884.83" y="524.5" width="7.5" height="5" fill="#0846ff"/>
<rect x="884.83" y="530.5" width="7.5" height="4" fill="#0846ff"/>
<rect x="884.83" y="537.5" width="7.5" height="2" fill="#0846ff"/>
<rect x="884.83" y="540.5" width="7.5" height="4" fill="#0846ff"/>
<rect x="884.83" y="546.5" width="7.5" height="1" fill="#0846ff"/>
<rect x="884.83" y="550.5" width="7.5" height="6" fill="#0846ff"/>
<rect x="884.83" y="562.5" width="7.5" height="1" fill="#0846ff"/>
<rect x="884.83" y="568.5" width="7.5" height="6" fill="#0846ff"/>
<rect x="884.83" y="577.5" width="7.5" height="1" fill="#0846ff"/>
<rect x="884.83" y="580" width="7.5" height="7.3" fill="#0846ff"/>
<rect x="893.12" y="393.1" width="8.9" height="192.7" fill="#fdfdfa"/>
<rect x="893.82" y="393.7" width="7.5" height="191.5" fill="#089de4"/>
<rect x="893.82" y="395.7" width="7.5" height="3" fill="#0846ff"/>
<rect x="893.82" y="400.2" width="7.5" height="6" fill="#0846ff"/>
<rect x="893.82" y="407.2" width="7.5" height="5" fill="#0846ff"/>
<rect x="893.82" y="418.2" width="7.5" height="1" fill="#0846ff"/>
<rect x="893.82" y="422.2" width="7.5" height="3" fill="#0846ff"/>
<rect x="893.82" y="425.2" width="7.5" height="4" fill="#0846ff"/>
<rect x="893.82" y="437.2" width="7.5" height="2" fill="#0846ff"/>
<rect x="893.82" y="439.2" width="7.5" height="1" fill="#0846ff"/>
<rect x="893.82" y="446.2" width="7.5" height="3" fill="#0846ff"/>
<rect x="893.82" y="450.2" width="7.5" height="1.5" fill="#0846ff"/>
<rect x="893.82" y="456.7" width="7.5" height="1.5" fill="#0846ff"/>
<rect x="893.82" y="461.2" width="7.5" height="2" fill="#0846ff"/>
<rect x="893.82" y="467.2" width="7.5" height="3" fill="#0846ff"/>
<rect x="893.82" y="475.2" width="7.5" height="1.5" fill="#0846ff"/>
<rect x="893.82" y="479.7" width="7.5" height="1" fill="#0846ff"/>
<rect x="893.82" y="494.7" width="7.5" height="1" fill="#0846ff"/>
<rect x="893.82" y="500.2" width="7.5" height="10" fill="#0846ff"/>
<rect x="893.82" y="510.2" width="7.5" height="3" fill="#0846ff"/>
<rect x="893.82" y="521.2" width="7.5" height="6" fill="#0846ff"/>
<rect x="893.82" y="537.2" width="7.5" height="8" fill="#0846ff"/>
<rect x="893.82" y="546.2" width="7.5" height="5" fill="#0846ff"/>
<rect x="893.82" y="555.2" width="7.5" height="3" fill="#0846ff"/>
<rect x="893.82" y="558.2" width="7.5" height="8" fill="#0846ff"/>
<rect x="893.82" y="569.2" width="7.5" height="2" fill="#0846ff"/>
<rect x="893.82" y="571.2" width="7.5" height="1" fill="#0846ff"/>
<rect x="893.82" y="573.7" width="7.5" height="2" fill="#0846ff"/>
<rect x="893.82" y="576.7" width="7.5" height="6" fill="#0846ff"/>
<rect x="893.82" y="582.7" width="7.5" height="2.5" fill="#0846ff"/>
<rect x="902.11" y="389.3" width="8.9" height="188" fill="#fdfdfa"/>
<rect x="902.81" y="389.9" width="7.5" height="186.8" fill="#089de4"/>
<rect x="902.81" y="394.9" width="7.5" height="2" fill="#0846ff"/>
<rect x="902.81" y="399.9" width="7.5" height="5" fill="#0846ff"/>
<rect x="902.81" y="410.9" width="7.5" height="4" fill="#0846ff"/>
<rect x="902.81" y="420.9" width="7.5" height="1" fill="#0846ff"/>
<rect x="902.81" y="426.9" width="7.5" height="8" fill="#0846ff"/>
<rect x="902.81" y="436.9" width="7.5" height="1" fill="#0846ff"/>
<rect x="902.81" y="446.9" width="7.5" height="5" fill="#0846ff"/>
<rect x="902.81" y="452.9" width="7.5" height="1" fill="#0846ff"/>
<rect x="902.81" y="456.9" width="7.5" height="2" fill="#0846ff"/>
<rect x="902.81" y="458.9" width="7.5" height="1" fill="#0846ff"/>
<rect x="902.81" y="466.9" width="7.5" height="10" fill="#0846ff"/>
<rect x="902.81" y="481.9" width="7.5" height="5" fill="#0846ff"/>
<rect x="902.81" y="492.9" width="7.5" height="5" fill="#0846ff"/>
<rect x="902.81" y="505.9" width="7.5" height="4" fill="#0846ff"/>
<rect x="902.81" y="519.9" width="7.5" height="4" fill="#0846ff"/>
<rect x="902.81" y="523.9" width="7.5" height="1" fill="#0846ff"/>
<rect x="902.81" y="532.9" width="7.5" height="3" fill="#0846ff"/>
<rect x="902.81" y="545.9" width="7.5" height="1.5" fill="#0846ff"/>
<rect x="902.81" y="550.4" width="7.5" height="1.5" fill="#0846ff"/>
<rect x="902.81" y="551.9" width="7.5" height="10" fill="#0846ff"/>
<rect x="902.81" y="565.9" width="7.5" height="8" fill="#0846ff"/>
<rect x="911.1" y="420.1" width="8.9" height="168.2" fill="#fdfdfa"/>
<rect x="911.8" y="420.7" width="7.5" height="167" fill="#089de4"/>
<rect x="911.8" y="420.7" width="7.5" height="3" fill="#0846ff"/>
<rect x="911.8" y="433.7" width="7.5" height="2" fill="#0846ff"/>
<rect x="911.8" y="440.7" width="7.5" height="1" fill="#0846ff"/>
<rect x="911.8" y="451.7" width="7.5" height="1.5" fill="#0846ff"/>
<rect x="911.8" y="456.2" width="7.5" height="1" fill="#0846ff"/>
<rect x="911.8" y="470.2" width="7.5" height="5" fill="#0846ff"/>
<rect x="911.8" y="480.2" width="7.5" height="1.5" fill="#0846ff"/>
<rect x="911.8" y="486.7" width="7.5" height="3" fill="#0846ff"/>
<rect x="911.8" y="490.7" width="7.5" height="1.5" fill="#0846ff"/>
<rect x="911.8" y="492.2" width="7.5" height="10" fill="#0846ff"/>
<rect x="911.8" y="510.2" width="7.5" height="2" fill="#0846ff"/>
<rect x="911.8" y="513.2" width="7.5" height="3" fill="#0846ff"/>
<rect x="911.8" y="519.2" width="7.5" height="5" fill="#0846ff"/>
<rect x="911.8" y="524.2" width="7.5" height="1" fill="#0846ff"/>
<rect x="911.8" y="525.2" width="7.5" height="2" fill="#0846ff"/>
<rect x="911.8" y="534.2" width="7.5" height="1" fill="#0846ff"/>
<rect x="911.8" y="538.2" width="7.5" height="2" fill="#0846ff"/>
<rect x="911.8" y="540.2" width="7.5" height="2" fill="#0846ff"/>
<rect x="911.8" y="547.2" width="7.5" height="8" fill="#0846ff"/>
<rect x="911.8" y="563.2" width="7.5" height="2" fill="#0846ff"/>
<rect x="911.8" y="571.2" width="7.5" height="10" fill="#0846ff"/>
<rect x="911.8" y="584.2" width="7.5" height="2" fill="#0846ff"/>
</svg>
<svg class="abs" style="left:0;top:0" width="1000" height="718"><rect x="102" y="296" width="817" height="1" fill="#c3d6da"/><rect x="102" y="654.5" width="817" height="1" fill="#c3d6da"/><circle cx="94.4" cy="296.5" r="0.6" fill="#999"/><circle cx="94.4" cy="655" r="0.6" fill="#999"/><rect x="101.99" y="294.5" width="0.8" height="2" fill="#b8c8cb"/><rect x="101.99" y="655" width="0.8" height="2" fill="#b8c8cb"/><rect x="110.95" y="294.5" width="0.8" height="2" fill="#b8c8cb"/><rect x="110.95" y="655" width="0.8" height="2" fill="#b8c8cb"/><rect x="119.91" y="294.5" width="0.8" height="2" fill="#b8c8cb"/><rect x="119.91" y="655" width="0.8" height="2" fill="#b8c8cb"/><rect x="128.88" y="294.5" width="0.8" height="2" fill="#b8c8cb"/><rect x="128.88" y="655" width="0.8" height="2" fill="#b8c8cb"/><rect x="137.84" y="294.5" width="0.8" height="2" fill="#b8c8cb"/><rect x="137.84" y="655" width="0.8" height="2" fill="#b8c8cb"/><rect x="146.7" y="286.7" width="1" height="9.8" fill="#aab"/><rect x="146.7" y="655" width="1" height="9.5" fill="#aab"/><rect x="155.76" y="294.5" width="0.8" height="2" fill="#b8c8cb"/><rect x="155.76" y="655" width="0.8" height="2" fill="#b8c8cb"/><rect x="164.72" y="294.5" width="0.8" height="2" fill="#b8c8cb"/><rect x="164.72" y="655" width="0.8" height="2" fill="#b8c8cb"/><rect x="173.69" y="294.5" width="0.8" height="2" fill="#b8c8cb"/><rect x="173.69" y="655" width="0.8" height="2" fill="#b8c8cb"/><rect x="182.65" y="294.5" width="0.8" height="2" fill="#b8c8cb"/><rect x="182.65" y="655" width="0.8" height="2" fill="#b8c8cb"/><rect x="191.61" y="294.5" width="0.8" height="2" fill="#b8c8cb"/><rect x="191.61" y="655" width="0.8" height="2" fill="#b8c8cb"/><rect x="200.57" y="294.5" width="0.8" height="2" fill="#b8c8cb"/><rect x="200.57" y="655" width="0.8" height="2" fill="#b8c8cb"/><rect x="209.43" y="292.5" width="1" height="4" fill="#b5c5c8"/><rect x="209.43" y="655" width="1" height="3.8" fill="#b5c5c8"/><rect x="218.5" y="294.5" width="0.8" height="2" fill="#b8c8cb"/><rect x="218.5" y="655" width="0.8" height="2" fill="#b8c8cb"/><rect x="227.46" y="294.5" width="0.8" height="2" fill="#b8c8cb"/><rect x="227.46" y="655" width="0.8" height="2" fill="#b8c8cb"/><rect x="236.42" y="294.5" width="0.8" height="2" fill="#b8c8cb"/><rect x="236.42" y="655" width="0.8" height="2" fill="#b8c8cb"/><rect x="245.38" y="294.5" width="0.8" height="2" fill="#b8c8cb"/><rect x="245.38" y="655" width="0.8" height="2" fill="#b8c8cb"/><rect x="254.34" y="294.5" width="0.8" height="2" fill="#b8c8cb"/><rect x="254.34" y="655" width="0.8" height="2" fill="#b8c8cb"/><rect x="263.31" y="294.5" width="0.8" height="2" fill="#b8c8cb"/><rect x="263.31" y="655" width="0.8" height="2" fill="#b8c8cb"/><rect x="272.17" y="292.5" width="1" height="4" fill="#b5c5c8"/><rect x="272.17" y="655" width="1" height="3.8" fill="#b5c5c8"/><rect x="281.23" y="294.5" width="0.8" height="2" fill="#b8c8cb"/><rect x="281.23" y="655" width="0.8" height="2" fill="#b8c8cb"/><rect x="290.19" y="294.5" width="0.8" height="2" fill="#b8c8cb"/><rect x="290.19" y="655" width="0.8" height="2" fill="#b8c8cb"/><rect x="299.15" y="294.5" width="0.8" height="2" fill="#b8c8cb"/><rect x="299.15" y="655" width="0.8" height="2" fill="#b8c8cb"/><rect x="308.12" y="294.5" width="0.8" height="2" fill="#b8c8cb"/><rect x="308.12" y="655" width="0.8" height="2" fill="#b8c8cb"/><rect x="317.08" y="294.5" width="0.8" height="2" fill="#b8c8cb"/><rect x="317.08" y="655" width="0.8" height="2" fill="#b8c8cb"/><rect x="326.04" y="294.5" width="0.8" height="2" fill="#b8c8cb"/><rect x="326.04" y="655" width="0.8" height="2" fill="#b8c8cb"/><rect x="334.9" y="292.5" width="1" height="4" fill="#b5c5c8"/><rect x="334.9" y="655" width="1" height="3.8" fill="#b5c5c8"/><rect x="343.96" y="294.5" width="0.8" height="2" fill="#b8c8cb"/><rect x="343.96" y="655" width="0.8" height="2" fill="#b8c8cb"/><rect x="352.93" y="294.5" width="0.8" height="2" fill="#b8c8cb"/><rect x="352.93" y="655" width="0.8" height="2" fill="#b8c8cb"/><rect x="361.89" y="294.5" width="0.8" height="2" fill="#b8c8cb"/><rect x="361.89" y="655" width="0.8" height="2" fill="#b8c8cb"/><rect x="370.85" y="294.5" width="0.8" height="2" fill="#b8c8cb"/><rect x="370.85" y="655" width="0.8" height="2" fill="#b8c8cb"/><rect x="379.81" y="294.5" width="0.8" height="2" fill="#b8c8cb"/><rect x="379.81" y="655" width="0.8" height="2" fill="#b8c8cb"/><rect x="388.77" y="294.5" width="0.8" height="2" fill="#b8c8cb"/><rect x="388.77" y="655" width="0.8" height="2" fill="#b8c8cb"/><rect x="397.64" y="292.5" width="1" height="4" fill="#b5c5c8"/><rect x="397.64" y="655" width="1" height="3.8" fill="#b5c5c8"/><rect x="406.7" y="294.5" width="0.8" height="2" fill="#b8c8cb"/><rect x="406.7" y="655" width="0.8" height="2" fill="#b8c8cb"/><rect x="415.56" y="286.7" width="1" height="9.8" fill="#aab"/><rect x="415.56" y="655" width="1" height="9.5" fill="#aab"/><rect x="424.62" y="294.5" width="0.8" height="2" fill="#b8c8cb"/><rect x="424.62" y="655" width="0.8" height="2" fill="#b8c8cb"/><rect x="433.58" y="294.5" width="0.8" height="2" fill="#b8c8cb"/><rect x="433.58" y="655" width="0.8" height="2" fill="#b8c8cb"/><rect x="442.55" y="294.5" width="0.8" height="2" fill="#b8c8cb"/><rect x="442.55" y="655" width="0.8" height="2" fill="#b8c8cb"/><rect x="451.51" y="294.5" width="0.8" height="2" fill="#b8c8cb"/><rect x="451.51" y="655" width="0.8" height="2" fill="#b8c8cb"/><rect x="460.37" y="292.5" width="1" height="4" fill="#b5c5c8"/><rect x="460.37" y="655" width="1" height="3.8" fill="#b5c5c8"/><rect x="469.43" y="294.5" width="0.8" height="2" fill="#b8c8cb"/><rect x="469.43" y="655" width="0.8" height="2" fill="#b8c8cb"/><rect x="478.39" y="294.5" width="0.8" height="2" fill="#b8c8cb"/><rect x="478.39" y="655" width="0.8" height="2" fill="#b8c8cb"/><rect x="487.36" y="294.5" width="0.8" height="2" fill="#b8c8cb"/><rect x="487.36" y="655" width="0.8" height="2" fill="#b8c8cb"/><rect x="496.32" y="294.5" width="0.8" height="2" fill="#b8c8cb"/><rect x="496.32" y="655" width="0.8" height="2" fill="#b8c8cb"/><rect x="505.28" y="294.5" width="0.8" height="2" fill="#b8c8cb"/><rect x="505.28" y="655" width="0.8" height="2" fill="#b8c8cb"/><rect x="514.24" y="294.5" width="0.8" height="2" fill="#b8c8cb"/><rect x="514.24" y="655" width="0.8" height="2" fill="#b8c8cb"/><rect x="523.1" y="292.5" width="1" height="4" fill="#b5c5c8"/><rect x="523.1" y="655" width="1" height="3.8" fill="#b5c5c8"/><rect x="532.17" y="294.5" width="0.8" height="2" fill="#b8c8cb"/><rect x="532.17" y="655" width="0.8" height="2" fill="#b8c8cb"/><rect x="541.13" y="294.5" width="0.8" height="2" fill="#b8c8cb"/><rect x="541.13" y="655" width="0.8" height="2" fill="#b8c8cb"/><rect x="550.09" y="294.5" width="0.8" height="2" fill="#b8c8cb"/><rect x="550.09" y="655" width="0.8" height="2" fill="#b8c8cb"/><rect x="559.05" y="294.5" width="0.8" height="2" fill="#b8c8cb"/><rect x="559.05" y="655" width="0.8" height="2" fill="#b8c8cb"/><rect x="568.01" y="294.5" width="0.8" height="2" fill="#b8c8cb"/><rect x="568.01" y="655" width="0.8" height="2" fill="#b8c8cb"/><rect x="576.98" y="294.5" width="0.8" height="2" fill="#b8c8cb"/><rect x="576.98" y="655" width="0.8" height="2" fill="#b8c8cb"/><rect x="585.84" y="292.5" width="1" height="4" fill="#b5c5c8"/><rect x="585.84" y="655" width="1" height="3.8" fill="#b5c5c8"/><rect x="594.9" y="294.5" width="0.8" height="2" fill="#b8c8cb"/><rect x="594.9" y="655" width="0.8" height="2" fill="#b8c8cb"/><rect x="603.86" y="294.5" width="0.8" height="2" fill="#b8c8cb"/><rect x="603.86" y="655" width="0.8" height="2" fill="#b8c8cb"/><rect x="612.82" y="294.5" width="0.8" height="2" fill="#b8c8cb"/><rect x="612.82" y="655" width="0.8" height="2" fill="#b8c8cb"/><rect x="621.79" y="294.5" width="0.8" height="2" fill="#b8c8cb"/><rect x="621.79" y="655" width="0.8" height="2" fill="#b8c8cb"/><rect x="630.75" y="294.5" width="0.8" height="2" fill="#b8c8cb"/><rect x="630.75" y="655" width="0.8" height="2" fill="#b8c8cb"/><rect x="639.71" y="294.5" width="0.8" height="2" fill="#b8c8cb"/><rect x="639.71" y="655" width="0.8" height="2" fill="#b8c8cb"/><rect x="648.57" y="292.5" width="1" height="4" fill="#b5c5c8"/><rect x="648.57" y="655" width="1" height="3.8" fill="#b5c5c8"/><rect x="657.63" y="294.5" width="0.8" height="2" fill="#b8c8cb"/><rect x="657.63" y="655" width="0.8" height="2" fill="#b8c8cb"/><rect x="666.6" y="294.5" width="0.8" height="2" fill="#b8c8cb"/><rect x="666.6" y="655" width="0.8" height="2" fill="#b8c8cb"/><rect x="675.56" y="294.5" width="0.8" height="2" fill="#b8c8cb"/><rect x="675.56" y="655" width="0.8" height="2" fill="#b8c8cb"/><rect x="684.52" y="294.5" width="0.8" height="2" fill="#b8c8cb"/><rect x="684.52" y="655" width="0.8" height="2" fill="#b8c8cb"/><rect x="693.48" y="294.5" width="0.8" height="2" fill="#b8c8cb"/><rect x="693.48" y="655" width="0.8" height="2" fill="#b8c8cb"/><rect x="702.44" y="294.5" width="0.8" height="2" fill="#b8c8cb"/><rect x="702.44" y="655" width="0.8" height="2" fill="#b8c8cb"/><rect x="711.31" y="292.5" width="1" height="4" fill="#b5c5c8"/><rect x="711.31" y="655" width="1" height="3.8" fill="#b5c5c8"/><rect x="720.37" y="294.5" width="0.8" height="2" fill="#b8c8cb"/><rect x="720.37" y="655" width="0.8" height="2" fill="#b8c8cb"/><rect x="729.33" y="294.5" width="0.8" height="2" fill="#b8c8cb"/><rect x="729.33" y="655" width="0.8" height="2" fill="#b8c8cb"/><rect x="738.29" y="294.5" width="0.8" height="2" fill="#b8c8cb"/><rect x="738.29" y="655" width="0.8" height="2" fill="#b8c8cb"/><rect x="747.25" y="294.5" width="0.8" height="2" fill="#b8c8cb"/><rect x="747.25" y="655" width="0.8" height="2" fill="#b8c8cb"/><rect x="756.22" y="294.5" width="0.8" height="2" fill="#b8c8cb"/><rect x="756.22" y="655" width="0.8" height="2" fill="#b8c8cb"/><rect x="765.18" y="294.5" width="0.8" height="2" fill="#b8c8cb"/><rect x="765.18" y="655" width="0.8" height="2" fill="#b8c8cb"/><rect x="774.04" y="292.5" width="1" height="4" fill="#b5c5c8"/><rect x="774.04" y="655" width="1" height="3.8" fill="#b5c5c8"/><rect x="783.1" y="294.5" width="0.8" height="2" fill="#b8c8cb"/><rect x="783.1" y="655" width="0.8" height="2" fill="#b8c8cb"/><rect x="792.06" y="294.5" width="0.8" height="2" fill="#b8c8cb"/><rect x="792.06" y="655" width="0.8" height="2" fill="#b8c8cb"/><rect x="801.03" y="294.5" width="0.8" height="2" fill="#b8c8cb"/><rect x="801.03" y="655" width="0.8" height="2" fill="#b8c8cb"/><rect x="809.99" y="294.5" width="0.8" height="2" fill="#b8c8cb"/><rect x="809.99" y="655" width="0.8" height="2" fill="#b8c8cb"/><rect x="818.95" y="294.5" width="0.8" height="2" fill="#b8c8cb"/><rect x="818.95" y="655" width="0.8" height="2" fill="#b8c8cb"/><rect x="827.91" y="294.5" width="0.8" height="2" fill="#b8c8cb"/><rect x="827.91" y="655" width="0.8" height="2" fill="#b8c8cb"/><rect x="836.77" y="292.5" width="1" height="4" fill="#b5c5c8"/><rect x="836.77" y="655" width="1" height="3.8" fill="#b5c5c8"/><rect x="845.84" y="294.5" width="0.8" height="2" fill="#b8c8cb"/><rect x="845.84" y="655" width="0.8" height="2" fill="#b8c8cb"/><rect x="854.8" y="294.5" width="0.8" height="2" fill="#b8c8cb"/><rect x="854.8" y="655" width="0.8" height="2" fill="#b8c8cb"/><rect x="863.76" y="294.5" width="0.8" height="2" fill="#b8c8cb"/><rect x="863.76" y="655" width="0.8" height="2" fill="#b8c8cb"/><rect x="872.72" y="294.5" width="0.8" height="2" fill="#b8c8cb"/><rect x="872.72" y="655" width="0.8" height="2" fill="#b8c8cb"/><rect x="881.68" y="294.5" width="0.8" height="2" fill="#b8c8cb"/><rect x="881.68" y="655" width="0.8" height="2" fill="#b8c8cb"/><rect x="890.65" y="294.5" width="0.8" height="2" fill="#b8c8cb"/><rect x="890.65" y="655" width="0.8" height="2" fill="#b8c8cb"/><rect x="899.51" y="292.5" width="1" height="4" fill="#b5c5c8"/><rect x="899.51" y="655" width="1" height="3.8" fill="#b5c5c8"/><rect x="908.57" y="294.5" width="0.8" height="2" fill="#b8c8cb"/><rect x="908.57" y="655" width="0.8" height="2" fill="#b8c8cb"/></svg>
<div class="t" style="left:75.5px;top:651.9px;font-size:8.6px;color:#333;font-weight:normal;">19</div>
<div class="t" style="left:75.5px;top:626.27px;font-size:8.6px;color:#333;font-weight:normal;">20</div>
<div class="t" style="left:75.5px;top:600.64px;font-size:8.6px;color:#333;font-weight:normal;">21</div>
<div class="t" style="left:75.5px;top:575.01px;font-size:8.6px;color:#333;font-weight:normal;">22</div>
<div class="t" style="left:75.5px;top:549.38px;font-size:8.6px;color:#333;font-weight:normal;">23</div>
<div class="t" style="left:75.5px;top:523.75px;font-size:8.6px;color:#333;font-weight:normal;">00</div>
<div class="t" style="left:75.5px;top:498.12px;font-size:8.6px;color:#333;font-weight:normal;">01</div>
<div class="t" style="left:75.5px;top:472.49px;font-size:8.6px;color:#333;font-weight:normal;">02</div>
<div class="t" style="left:75.5px;top:446.86px;font-size:8.6px;color:#333;font-weight:normal;">03</div>
<div class="t" style="left:75.5px;top:421.23px;font-size:8.6px;color:#333;font-weight:normal;">04</div>
<div class="t" style="left:75.5px;top:395.6px;font-size:8.6px;color:#333;font-weight:normal;">05</div>
<div class="t" style="left:75.5px;top:369.97px;font-size:8.6px;color:#333;font-weight:normal;">06</div>
<div class="t" style="left:75.5px;top:344.34px;font-size:8.6px;color:#333;font-weight:normal;">07</div>
<div class="t" style="left:75.5px;top:318.71px;font-size:8.6px;color:#333;font-weight:normal;">08</div>
<div class="t" style="left:75.5px;top:293.08px;font-size:8.6px;color:#333;font-weight:normal;">09</div>
<div class="t" style="left:281px;top:281.5px;font-size:7px;color:#888;font-weight:normal;transform:translateX(-50%);">April 2019</div>
<div class="t" style="left:281px;top:661px;font-size:7px;color:#888;font-weight:normal;transform:translateX(-50%);">April 2019</div>
<div class="t" style="left:551.5px;top:281.5px;font-size:7px;color:#888;font-weight:normal;transform:translateX(-50%);">May 2019</div>
<div class="t" style="left:551.5px;top:661px;font-size:7px;color:#888;font-weight:normal;transform:translateX(-50%);">May 2019</div>
<div class="t" style="left:828px;top:281.5px;font-size:7px;color:#888;font-weight:normal;transform:translateX(-50%);">June 2019</div>
<div class="t" style="left:828px;top:661px;font-size:7px;color:#888;font-weight:normal;transform:translateX(-50%);">June 2019</div>
<div class="t" style="left:176.5px;top:669.5px;font-size:7px;color:#888;font-weight:normal;transform:translateX(-50%);">01.04–07.04</div>
<div class="t" style="left:239.23px;top:669.5px;font-size:7px;color:#888;font-weight:normal;transform:translateX(-50%);">08.04–14.04</div>
<div class="t" style="left:301.97px;top:669.5px;font-size:7px;color:#888;font-weight:normal;transform:translateX(-50%);">15.04–21.04</div>
<div class="t" style="left:364.7px;top:669.5px;font-size:7px;color:#888;font-weight:normal;transform:translateX(-50%);">22.04–28.04</div>
<div class="t" style="left:427.44px;top:669.5px;font-size:7px;color:#888;font-weight:normal;transform:translateX(-50%);">29.04–05.05</div>
<div class="t" style="left:490.17px;top:669.5px;font-size:7px;color:#888;font-weight:normal;transform:translateX(-50%);">06.05–12.05</div>
<div class="t" style="left:552.9px;top:669.5px;font-size:7px;color:#888;font-weight:normal;transform:translateX(-50%);">13.05–19.05</div>
<div class="t" style="left:615.64px;top:669.5px;font-size:7px;color:#888;font-weight:normal;transform:translateX(-50%);">20.05–26.05</div>
<div class="t" style="left:678.37px;top:669.5px;font-size:7px;color:#888;font-weight:normal;transform:translateX(-50%);">27.05–02.06</div>
<div class="t" style="left:741.11px;top:669.5px;font-size:7px;color:#888;font-weight:normal;transform:translateX(-50%);">03.06–09.06</div>
<div class="t" style="left:803.84px;top:669.5px;font-size:7px;color:#888;font-weight:normal;transform:translateX(-50%);">10.06–16.06</div>
<div class="t" style="left:866.57px;top:669.5px;font-size:7px;color:#888;font-weight:normal;transform:translateX(-50%);">17.06–23.06</div>
<div class="t" style="left:912px;top:669.5px;font-size:7px;color:#888;font-weight:normal;transform:translateX(-50%);">24.06</div>
<svg class="abs" style="left:0;top:0" width="1000" height="718"><line x1="97" y1="369.4" x2="921" y2="369.4" stroke="#fff" stroke-opacity="0.7" stroke-width="1" stroke-dasharray="4 3"/><line x1="97" y1="550" x2="921" y2="550" stroke="#fff" stroke-opacity="0.7" stroke-width="1" stroke-dasharray="4 3"/><g fill="#1a9be6"><rect x="90.2" y="370.8" width="9.8" height="1.5"/><path d="M91.9 370.9 A3.2 3.2 0 0 1 98.3 370.9Z"/><path d="M90.6 369.6 A4.6 4.6 0 0 1 99.6 369.6" fill="none" stroke="#1a9be6" stroke-opacity="0.45" stroke-width="1.1" stroke-dasharray="1 0.8"/></g><circle cx="95.5" cy="549.3" r="2.6" fill="#1a9be6"/></svg>
<div class="abs" style="left:753.6px;top:335px;width:90.2px;height:131px;background:#fff;box-shadow:0 0 1px rgba(0,0,0,.15)"></div>
<svg class="abs" style="left:0;top:0" width="1000" height="718"><path d="M793.2 466 L804.6 466 L798.9 471.2Z" fill="#fff"/></svg>
<div class="abs" style="left:753.6px;top:335px;width:90.2px;height:16px;background:#0a9be3"></div>
<div class="t" style="left:758px;top:341.4px;font-size:6.8px;color:#fff;font-weight:bold;">13.06.2019</div>
<div class="t" style="left:756.5px;top:357.38px;font-size:6.85px;color:#222;font-weight:bold;">SLEEP SCORE</div>
<div class="t" style="left:839.3px;top:363.85px;font-size:8.1px;color:#222;font-weight:bold;transform:translateX(-100%);">65</div>
<div class="t" style="left:756.5px;top:376.15px;font-size:6.1px;color:#222;font-weight:bold;">Sleep time</div>
<div class="t" style="left:841px;top:376.1px;font-size:6.2px;color:#444;font-weight:normal;transform:translateX(-100%);">7h 4min</div>
<div class="t" style="left:756.5px;top:383.75px;font-size:6.1px;color:#222;font-weight:bold;">Cycles</div>
<div class="t" style="left:841px;top:383.7px;font-size:6.2px;color:#444;font-weight:normal;transform:translateX(-100%);">3</div>
<div class="t" style="left:756.5px;top:391.35px;font-size:6.1px;color:#222;font-weight:bold;">Actual sleep</div>
<div class="t" style="left:841px;top:391.3px;font-size:6.2px;color:#444;font-weight:normal;transform:translateX(-100%);">6h 35min</div>
<div class="t" style="left:756.5px;top:398.95px;font-size:6.1px;color:#222;font-weight:bold;">Sleep continuity</div>
<div class="t" style="left:841px;top:398.9px;font-size:6.2px;color:#444;font-weight:normal;transform:translateX(-100%);">2.7/5</div>
<div class="t" style="left:756.5px;top:406.55px;font-size:6.1px;color:#222;font-weight:bold;">Long interruptions</div>
<div class="t" style="left:841px;top:406.5px;font-size:6.2px;color:#444;font-weight:normal;transform:translateX(-100%);">10 min</div>
<div class="t" style="left:756.5px;top:414.15px;font-size:6.1px;color:#222;font-weight:bold;">REM sleep</div>
<div class="t" style="left:841px;top:414.1px;font-size:6.2px;color:#444;font-weight:normal;transform:translateX(-100%);">17%(1h 14min)</div>
<div class="t" style="left:756.5px;top:421.75px;font-size:6.1px;color:#222;font-weight:bold;">Deep sleep</div>
<div class="t" style="left:841px;top:421.7px;font-size:6.2px;color:#444;font-weight:normal;transform:translateX(-100%);">24%(1h 40min)</div>
<div class="t" style="left:756.5px;top:438.6px;font-size:6.8px;color:#222;font-weight:bold;">SLEEP RATING</div>
<div class="t" style="left:791.8px;top:450.8px;font-size:8.4px;color:#333;font-weight:normal;">Very Well</div>
<svg class="abs" style="left:0;top:0" width="1000" height="718"><g fill="none" stroke="#333" stroke-width="0.8"><circle cx="835.2" cy="454.6" r="4"/><path d="M832.6 455.2 Q835.2 458.6 837.8 455.2Z" fill="#333"/></g><circle cx="833.6" cy="453" r="0.6" fill="#333"/><circle cx="836.8" cy="453" r="0.6" fill="#333"/></svg>
</body></html>
